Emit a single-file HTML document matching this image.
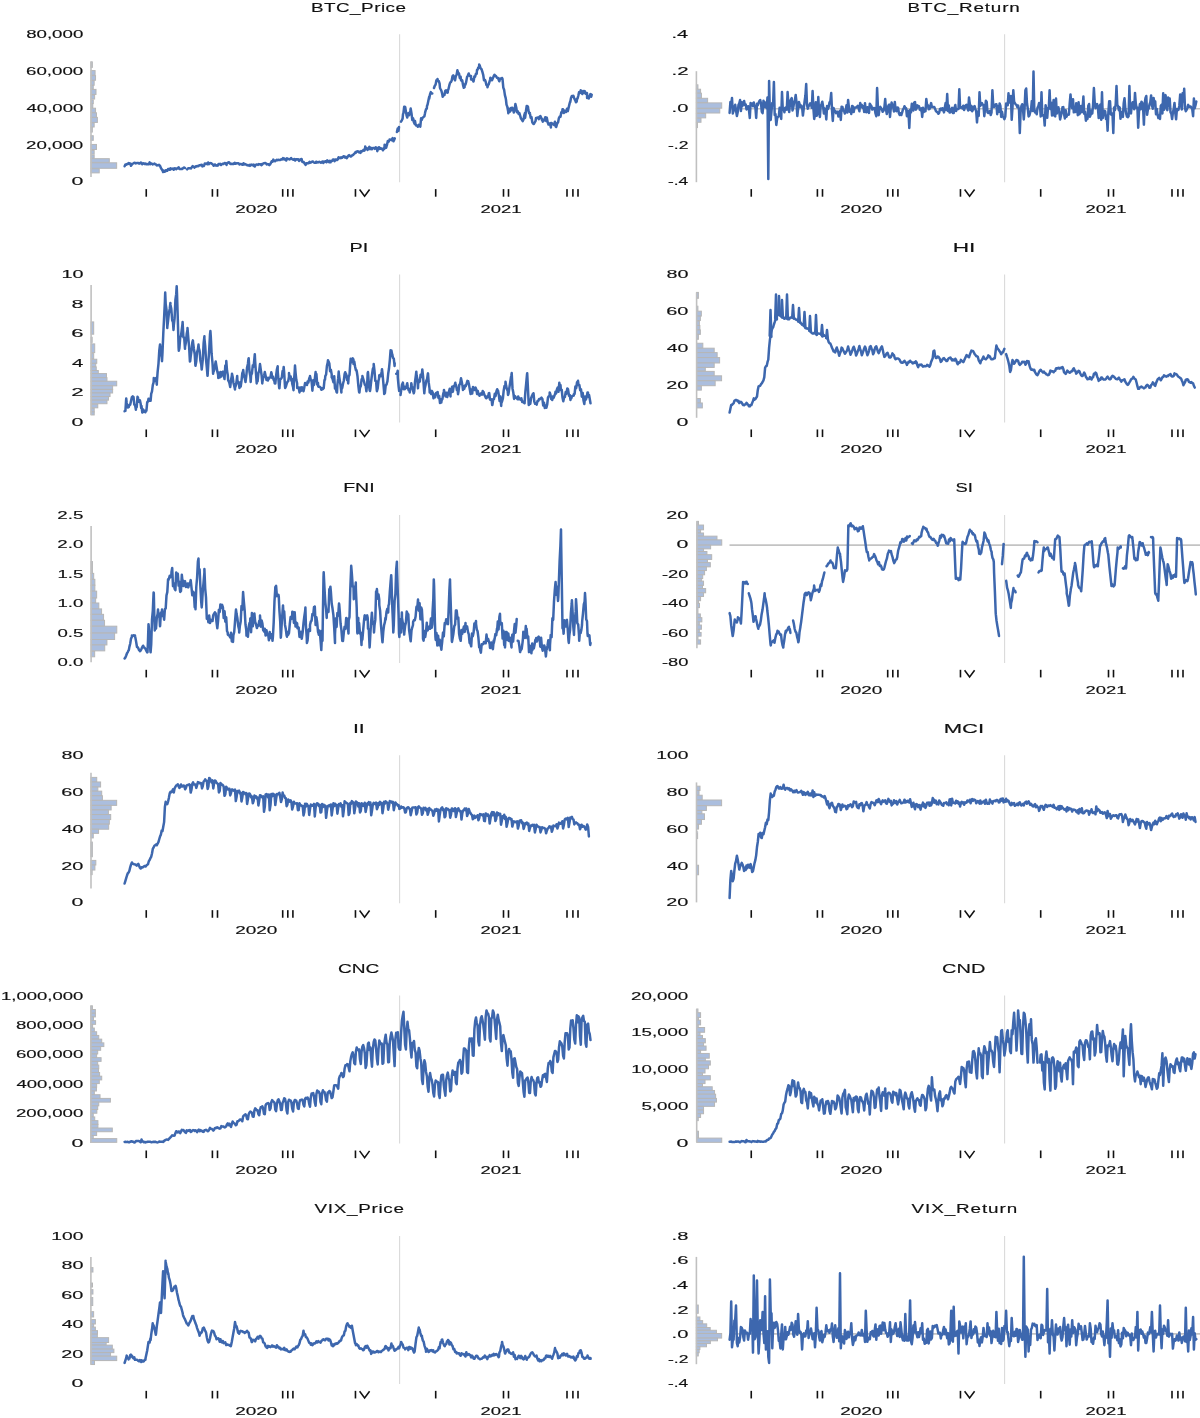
<!DOCTYPE html>
<html><head><meta charset="utf-8"><style>
html,body{margin:0;padding:0;background:#fff;}
body{width:1200px;height:1418px;overflow:hidden;}
svg{display:block;filter:blur(0.35px);}
text{font-family:"Liberation Sans",sans-serif;fill:#111;stroke:#111;stroke-width:0.15px;}
</style></head><body>
<svg width="1200" height="1418" viewBox="0 0 1200 1418">
<rect width="1200" height="1418" fill="#fff"/>
<line x1="729.50" y1="108.70" x2="1205.00" y2="108.70" stroke="#c3c3c3" stroke-width="1.6"/>
<line x1="729.50" y1="545.10" x2="1205.00" y2="545.10" stroke="#c3c3c3" stroke-width="1.6"/>
<line x1="729.50" y1="1333.90" x2="1205.00" y2="1333.90" stroke="#c3c3c3" stroke-width="1.6"/>
<line x1="399.60" y1="34.20" x2="399.60" y2="182.20" stroke="#dadada" stroke-width="1.1"/>
<line x1="1004.60" y1="34.20" x2="1004.60" y2="182.20" stroke="#dadada" stroke-width="1.1"/>
<line x1="399.60" y1="274.55" x2="399.60" y2="422.55" stroke="#dadada" stroke-width="1.1"/>
<line x1="1004.60" y1="274.55" x2="1004.60" y2="422.55" stroke="#dadada" stroke-width="1.1"/>
<line x1="399.60" y1="514.90" x2="399.60" y2="662.90" stroke="#dadada" stroke-width="1.1"/>
<line x1="1004.60" y1="514.90" x2="1004.60" y2="662.90" stroke="#dadada" stroke-width="1.1"/>
<line x1="399.60" y1="755.25" x2="399.60" y2="903.25" stroke="#dadada" stroke-width="1.1"/>
<line x1="1004.60" y1="755.25" x2="1004.60" y2="903.25" stroke="#dadada" stroke-width="1.1"/>
<line x1="399.60" y1="995.60" x2="399.60" y2="1143.60" stroke="#dadada" stroke-width="1.1"/>
<line x1="1004.60" y1="995.60" x2="1004.60" y2="1143.60" stroke="#dadada" stroke-width="1.1"/>
<line x1="399.60" y1="1235.95" x2="399.60" y2="1383.95" stroke="#dadada" stroke-width="1.1"/>
<line x1="1004.60" y1="1235.95" x2="1004.60" y2="1383.95" stroke="#dadada" stroke-width="1.1"/>
<rect x="91.00" y="61.88" width="1.34" height="5.50" fill="#abbede" stroke="#b6b6b6" stroke-width="1"/>
<rect x="91.00" y="70.60" width="4.09" height="4.59" fill="#abbede" stroke="#b6b6b6" stroke-width="1"/>
<rect x="91.00" y="75.64" width="4.55" height="4.59" fill="#abbede" stroke="#b6b6b6" stroke-width="1"/>
<rect x="91.00" y="80.69" width="3.17" height="4.59" fill="#abbede" stroke="#b6b6b6" stroke-width="1"/>
<rect x="91.00" y="85.28" width="2.26" height="3.67" fill="#abbede" stroke="#b6b6b6" stroke-width="1"/>
<rect x="91.00" y="89.40" width="5.01" height="5.05" fill="#abbede" stroke="#b6b6b6" stroke-width="1"/>
<rect x="91.00" y="94.91" width="3.63" height="4.13" fill="#abbede" stroke="#b6b6b6" stroke-width="1"/>
<rect x="91.00" y="99.95" width="2.26" height="3.67" fill="#abbede" stroke="#b6b6b6" stroke-width="1"/>
<rect x="91.00" y="103.62" width="1.80" height="4.13" fill="#abbede" stroke="#b6b6b6" stroke-width="1"/>
<rect x="91.00" y="108.21" width="4.55" height="4.13" fill="#abbede" stroke="#b6b6b6" stroke-width="1"/>
<rect x="91.00" y="112.80" width="5.47" height="4.59" fill="#abbede" stroke="#b6b6b6" stroke-width="1"/>
<rect x="91.00" y="117.39" width="6.39" height="5.05" fill="#abbede" stroke="#b6b6b6" stroke-width="1"/>
<rect x="91.00" y="122.89" width="3.17" height="4.13" fill="#abbede" stroke="#b6b6b6" stroke-width="1"/>
<rect x="91.00" y="127.48" width="1.34" height="4.59" fill="#abbede" stroke="#b6b6b6" stroke-width="1"/>
<rect x="91.00" y="135.73" width="2.26" height="4.59" fill="#abbede" stroke="#b6b6b6" stroke-width="1"/>
<rect x="91.00" y="144.45" width="5.47" height="5.05" fill="#abbede" stroke="#b6b6b6" stroke-width="1"/>
<rect x="91.00" y="150.41" width="3.17" height="3.67" fill="#abbede" stroke="#b6b6b6" stroke-width="1"/>
<rect x="91.00" y="155.00" width="3.17" height="3.21" fill="#abbede" stroke="#b6b6b6" stroke-width="1"/>
<rect x="91.00" y="158.67" width="18.31" height="3.67" fill="#abbede" stroke="#b6b6b6" stroke-width="1"/>
<rect x="91.00" y="162.80" width="25.65" height="5.50" fill="#abbede" stroke="#b6b6b6" stroke-width="1"/>
<rect x="91.00" y="168.76" width="8.22" height="4.13" fill="#abbede" stroke="#b6b6b6" stroke-width="1"/>
<line x1="91.00" y1="61.40" x2="91.00" y2="177.00" stroke="#c0c0c0" stroke-width="1.6"/>
<rect x="696.40" y="84.82" width="1.53" height="3.96" fill="#abbede" stroke="#b6b6b6" stroke-width="1"/>
<rect x="696.40" y="89.23" width="4.17" height="3.96" fill="#abbede" stroke="#b6b6b6" stroke-width="1"/>
<rect x="696.40" y="93.19" width="5.05" height="4.85" fill="#abbede" stroke="#b6b6b6" stroke-width="1"/>
<rect x="696.40" y="98.30" width="11.22" height="4.14" fill="#abbede" stroke="#b6b6b6" stroke-width="1"/>
<rect x="696.40" y="102.89" width="25.32" height="5.29" fill="#abbede" stroke="#b6b6b6" stroke-width="1"/>
<rect x="696.40" y="108.61" width="23.38" height="4.41" fill="#abbede" stroke="#b6b6b6" stroke-width="1"/>
<rect x="696.40" y="113.46" width="9.28" height="4.41" fill="#abbede" stroke="#b6b6b6" stroke-width="1"/>
<rect x="696.40" y="118.30" width="4.61" height="3.96" fill="#abbede" stroke="#b6b6b6" stroke-width="1"/>
<rect x="696.40" y="122.71" width="1.09" height="4.85" fill="#abbede" stroke="#b6b6b6" stroke-width="1"/>
<line x1="696.40" y1="71.20" x2="696.40" y2="182.20" stroke="#c0c0c0" stroke-width="1.6"/>
<rect x="91.10" y="321.92" width="2.59" height="12.27" fill="#abbede" stroke="#b6b6b6" stroke-width="1"/>
<rect x="91.10" y="337.26" width="1.06" height="5.11" fill="#abbede" stroke="#b6b6b6" stroke-width="1"/>
<rect x="91.10" y="343.91" width="3.61" height="8.69" fill="#abbede" stroke="#b6b6b6" stroke-width="1"/>
<rect x="91.10" y="353.62" width="2.59" height="5.11" fill="#abbede" stroke="#b6b6b6" stroke-width="1"/>
<rect x="91.10" y="359.24" width="5.66" height="4.09" fill="#abbede" stroke="#b6b6b6" stroke-width="1"/>
<rect x="91.10" y="363.33" width="4.64" height="3.58" fill="#abbede" stroke="#b6b6b6" stroke-width="1"/>
<rect x="91.10" y="366.91" width="5.15" height="3.58" fill="#abbede" stroke="#b6b6b6" stroke-width="1"/>
<rect x="91.10" y="370.49" width="7.19" height="3.07" fill="#abbede" stroke="#b6b6b6" stroke-width="1"/>
<rect x="91.10" y="373.56" width="15.37" height="4.09" fill="#abbede" stroke="#b6b6b6" stroke-width="1"/>
<rect x="91.10" y="377.65" width="15.88" height="3.58" fill="#abbede" stroke="#b6b6b6" stroke-width="1"/>
<rect x="91.10" y="381.23" width="25.60" height="4.60" fill="#abbede" stroke="#b6b6b6" stroke-width="1"/>
<rect x="91.10" y="385.83" width="21.51" height="3.58" fill="#abbede" stroke="#b6b6b6" stroke-width="1"/>
<rect x="91.10" y="389.41" width="21.51" height="3.58" fill="#abbede" stroke="#b6b6b6" stroke-width="1"/>
<rect x="91.10" y="392.99" width="18.95" height="3.58" fill="#abbede" stroke="#b6b6b6" stroke-width="1"/>
<rect x="91.10" y="396.56" width="17.42" height="3.58" fill="#abbede" stroke="#b6b6b6" stroke-width="1"/>
<rect x="91.10" y="400.14" width="15.88" height="3.58" fill="#abbede" stroke="#b6b6b6" stroke-width="1"/>
<rect x="91.10" y="404.23" width="6.68" height="3.58" fill="#abbede" stroke="#b6b6b6" stroke-width="1"/>
<rect x="91.10" y="408.32" width="3.10" height="3.58" fill="#abbede" stroke="#b6b6b6" stroke-width="1"/>
<rect x="91.10" y="411.90" width="3.10" height="3.07" fill="#abbede" stroke="#b6b6b6" stroke-width="1"/>
<line x1="91.10" y1="285.10" x2="91.10" y2="415.00" stroke="#c0c0c0" stroke-width="1.6"/>
<rect x="696.60" y="292.40" width="1.79" height="5.92" fill="#abbede" stroke="#b6b6b6" stroke-width="1"/>
<rect x="696.60" y="306.22" width="1.30" height="4.44" fill="#abbede" stroke="#b6b6b6" stroke-width="1"/>
<rect x="696.60" y="311.16" width="4.75" height="4.94" fill="#abbede" stroke="#b6b6b6" stroke-width="1"/>
<rect x="696.60" y="316.10" width="3.77" height="4.44" fill="#abbede" stroke="#b6b6b6" stroke-width="1"/>
<rect x="696.60" y="321.03" width="2.78" height="4.44" fill="#abbede" stroke="#b6b6b6" stroke-width="1"/>
<rect x="696.60" y="325.47" width="3.27" height="4.44" fill="#abbede" stroke="#b6b6b6" stroke-width="1"/>
<rect x="696.60" y="329.92" width="3.77" height="4.44" fill="#abbede" stroke="#b6b6b6" stroke-width="1"/>
<rect x="696.60" y="334.36" width="1.79" height="4.94" fill="#abbede" stroke="#b6b6b6" stroke-width="1"/>
<rect x="696.60" y="343.24" width="6.23" height="4.94" fill="#abbede" stroke="#b6b6b6" stroke-width="1"/>
<rect x="696.60" y="348.18" width="17.59" height="4.44" fill="#abbede" stroke="#b6b6b6" stroke-width="1"/>
<rect x="696.60" y="352.62" width="20.55" height="4.94" fill="#abbede" stroke="#b6b6b6" stroke-width="1"/>
<rect x="696.60" y="357.56" width="23.02" height="5.43" fill="#abbede" stroke="#b6b6b6" stroke-width="1"/>
<rect x="696.60" y="362.99" width="17.59" height="4.44" fill="#abbede" stroke="#b6b6b6" stroke-width="1"/>
<rect x="696.60" y="367.43" width="8.70" height="3.46" fill="#abbede" stroke="#b6b6b6" stroke-width="1"/>
<rect x="696.60" y="371.38" width="17.59" height="4.44" fill="#abbede" stroke="#b6b6b6" stroke-width="1"/>
<rect x="696.60" y="375.82" width="24.99" height="4.94" fill="#abbede" stroke="#b6b6b6" stroke-width="1"/>
<rect x="696.60" y="380.76" width="18.57" height="4.94" fill="#abbede" stroke="#b6b6b6" stroke-width="1"/>
<rect x="696.60" y="386.18" width="4.75" height="3.95" fill="#abbede" stroke="#b6b6b6" stroke-width="1"/>
<rect x="696.60" y="398.52" width="3.77" height="4.44" fill="#abbede" stroke="#b6b6b6" stroke-width="1"/>
<rect x="696.60" y="402.97" width="5.74" height="4.94" fill="#abbede" stroke="#b6b6b6" stroke-width="1"/>
<line x1="696.60" y1="292.40" x2="696.60" y2="417.80" stroke="#c0c0c0" stroke-width="1.6"/>
<rect x="91.10" y="561.53" width="1.30" height="11.85" fill="#abbede" stroke="#b6b6b6" stroke-width="1"/>
<rect x="91.10" y="573.37" width="2.59" height="5.92" fill="#abbede" stroke="#b6b6b6" stroke-width="1"/>
<rect x="91.10" y="579.29" width="3.77" height="5.92" fill="#abbede" stroke="#b6b6b6" stroke-width="1"/>
<rect x="91.10" y="585.22" width="3.77" height="5.92" fill="#abbede" stroke="#b6b6b6" stroke-width="1"/>
<rect x="91.10" y="591.14" width="5.55" height="6.91" fill="#abbede" stroke="#b6b6b6" stroke-width="1"/>
<rect x="91.10" y="598.05" width="4.56" height="4.94" fill="#abbede" stroke="#b6b6b6" stroke-width="1"/>
<rect x="91.10" y="602.99" width="7.72" height="5.92" fill="#abbede" stroke="#b6b6b6" stroke-width="1"/>
<rect x="91.10" y="608.91" width="10.48" height="5.43" fill="#abbede" stroke="#b6b6b6" stroke-width="1"/>
<rect x="91.10" y="614.34" width="12.46" height="5.92" fill="#abbede" stroke="#b6b6b6" stroke-width="1"/>
<rect x="91.10" y="620.26" width="13.45" height="5.92" fill="#abbede" stroke="#b6b6b6" stroke-width="1"/>
<rect x="91.10" y="626.18" width="25.69" height="6.91" fill="#abbede" stroke="#b6b6b6" stroke-width="1"/>
<rect x="91.10" y="633.09" width="23.52" height="6.42" fill="#abbede" stroke="#b6b6b6" stroke-width="1"/>
<rect x="91.10" y="639.51" width="15.82" height="5.43" fill="#abbede" stroke="#b6b6b6" stroke-width="1"/>
<rect x="91.10" y="644.94" width="13.64" height="5.92" fill="#abbede" stroke="#b6b6b6" stroke-width="1"/>
<rect x="91.10" y="651.36" width="3.57" height="5.43" fill="#abbede" stroke="#b6b6b6" stroke-width="1"/>
<line x1="91.10" y1="526.00" x2="91.10" y2="662.20" stroke="#c0c0c0" stroke-width="1.6"/>
<rect x="696.90" y="521.35" width="1.57" height="3.70" fill="#abbede" stroke="#b6b6b6" stroke-width="1"/>
<rect x="696.90" y="525.05" width="6.64" height="4.76" fill="#abbede" stroke="#b6b6b6" stroke-width="1"/>
<rect x="696.90" y="529.81" width="3.68" height="3.17" fill="#abbede" stroke="#b6b6b6" stroke-width="1"/>
<rect x="696.90" y="532.99" width="6.64" height="3.17" fill="#abbede" stroke="#b6b6b6" stroke-width="1"/>
<rect x="696.90" y="536.16" width="20.08" height="3.70" fill="#abbede" stroke="#b6b6b6" stroke-width="1"/>
<rect x="696.90" y="539.87" width="24.85" height="5.29" fill="#abbede" stroke="#b6b6b6" stroke-width="1"/>
<rect x="696.90" y="545.16" width="13.73" height="3.70" fill="#abbede" stroke="#b6b6b6" stroke-width="1"/>
<rect x="696.90" y="548.86" width="6.64" height="2.65" fill="#abbede" stroke="#b6b6b6" stroke-width="1"/>
<rect x="696.90" y="551.51" width="10.03" height="3.17" fill="#abbede" stroke="#b6b6b6" stroke-width="1"/>
<rect x="696.90" y="554.68" width="14.79" height="4.76" fill="#abbede" stroke="#b6b6b6" stroke-width="1"/>
<rect x="696.90" y="559.44" width="10.56" height="3.17" fill="#abbede" stroke="#b6b6b6" stroke-width="1"/>
<rect x="696.90" y="562.62" width="13.42" height="4.23" fill="#abbede" stroke="#b6b6b6" stroke-width="1"/>
<rect x="696.90" y="566.85" width="9.50" height="3.70" fill="#abbede" stroke="#b6b6b6" stroke-width="1"/>
<rect x="696.90" y="570.56" width="7.70" height="4.23" fill="#abbede" stroke="#b6b6b6" stroke-width="1"/>
<rect x="696.90" y="574.79" width="5.80" height="3.70" fill="#abbede" stroke="#b6b6b6" stroke-width="1"/>
<rect x="696.90" y="578.49" width="4.74" height="2.65" fill="#abbede" stroke="#b6b6b6" stroke-width="1"/>
<rect x="696.90" y="581.14" width="6.64" height="4.23" fill="#abbede" stroke="#b6b6b6" stroke-width="1"/>
<rect x="696.90" y="585.37" width="5.59" height="3.17" fill="#abbede" stroke="#b6b6b6" stroke-width="1"/>
<rect x="696.90" y="588.54" width="8.76" height="4.23" fill="#abbede" stroke="#b6b6b6" stroke-width="1"/>
<rect x="696.90" y="592.78" width="6.64" height="3.70" fill="#abbede" stroke="#b6b6b6" stroke-width="1"/>
<rect x="696.90" y="596.48" width="3.68" height="4.23" fill="#abbede" stroke="#b6b6b6" stroke-width="1"/>
<rect x="696.90" y="600.71" width="1.57" height="2.65" fill="#abbede" stroke="#b6b6b6" stroke-width="1"/>
<rect x="696.90" y="603.36" width="2.62" height="4.23" fill="#abbede" stroke="#b6b6b6" stroke-width="1"/>
<rect x="696.90" y="607.59" width="1.04" height="6.35" fill="#abbede" stroke="#b6b6b6" stroke-width="1"/>
<rect x="696.90" y="613.94" width="3.47" height="3.70" fill="#abbede" stroke="#b6b6b6" stroke-width="1"/>
<rect x="696.90" y="617.65" width="4.95" height="4.23" fill="#abbede" stroke="#b6b6b6" stroke-width="1"/>
<rect x="696.90" y="621.88" width="2.41" height="3.17" fill="#abbede" stroke="#b6b6b6" stroke-width="1"/>
<rect x="696.90" y="625.05" width="4.53" height="4.23" fill="#abbede" stroke="#b6b6b6" stroke-width="1"/>
<rect x="696.90" y="629.29" width="2.41" height="3.17" fill="#abbede" stroke="#b6b6b6" stroke-width="1"/>
<rect x="696.90" y="632.46" width="4.21" height="3.70" fill="#abbede" stroke="#b6b6b6" stroke-width="1"/>
<rect x="696.90" y="636.16" width="1.04" height="3.70" fill="#abbede" stroke="#b6b6b6" stroke-width="1"/>
<rect x="696.90" y="639.87" width="3.68" height="4.23" fill="#abbede" stroke="#b6b6b6" stroke-width="1"/>
<line x1="696.90" y1="521.30" x2="696.90" y2="648.30" stroke="#c0c0c0" stroke-width="1.6"/>
<rect x="91.00" y="777.39" width="5.74" height="4.59" fill="#abbede" stroke="#b6b6b6" stroke-width="1"/>
<rect x="91.00" y="781.97" width="9.60" height="5.05" fill="#abbede" stroke="#b6b6b6" stroke-width="1"/>
<rect x="91.00" y="787.02" width="6.84" height="4.13" fill="#abbede" stroke="#b6b6b6" stroke-width="1"/>
<rect x="91.00" y="791.15" width="10.70" height="4.59" fill="#abbede" stroke="#b6b6b6" stroke-width="1"/>
<rect x="91.00" y="795.73" width="11.43" height="4.59" fill="#abbede" stroke="#b6b6b6" stroke-width="1"/>
<rect x="91.00" y="800.32" width="25.65" height="5.05" fill="#abbede" stroke="#b6b6b6" stroke-width="1"/>
<rect x="91.00" y="805.37" width="20.15" height="4.59" fill="#abbede" stroke="#b6b6b6" stroke-width="1"/>
<rect x="91.00" y="809.95" width="17.39" height="4.59" fill="#abbede" stroke="#b6b6b6" stroke-width="1"/>
<rect x="91.00" y="814.54" width="19.69" height="5.05" fill="#abbede" stroke="#b6b6b6" stroke-width="1"/>
<rect x="91.00" y="819.59" width="18.31" height="4.59" fill="#abbede" stroke="#b6b6b6" stroke-width="1"/>
<rect x="91.00" y="824.17" width="17.67" height="5.05" fill="#abbede" stroke="#b6b6b6" stroke-width="1"/>
<rect x="91.00" y="829.22" width="7.58" height="4.13" fill="#abbede" stroke="#b6b6b6" stroke-width="1"/>
<rect x="91.00" y="833.35" width="2.26" height="4.59" fill="#abbede" stroke="#b6b6b6" stroke-width="1"/>
<rect x="91.00" y="842.06" width="1.34" height="14.68" fill="#abbede" stroke="#b6b6b6" stroke-width="1"/>
<rect x="91.00" y="860.41" width="4.83" height="4.59" fill="#abbede" stroke="#b6b6b6" stroke-width="1"/>
<rect x="91.00" y="865.00" width="3.91" height="5.05" fill="#abbede" stroke="#b6b6b6" stroke-width="1"/>
<rect x="91.00" y="870.05" width="1.16" height="4.59" fill="#abbede" stroke="#b6b6b6" stroke-width="1"/>
<line x1="91.00" y1="772.80" x2="91.00" y2="888.40" stroke="#c0c0c0" stroke-width="1.6"/>
<rect x="696.50" y="786.19" width="3.50" height="4.29" fill="#abbede" stroke="#b6b6b6" stroke-width="1"/>
<rect x="696.50" y="790.48" width="2.55" height="4.76" fill="#abbede" stroke="#b6b6b6" stroke-width="1"/>
<rect x="696.50" y="795.24" width="5.69" height="4.76" fill="#abbede" stroke="#b6b6b6" stroke-width="1"/>
<rect x="696.50" y="800.00" width="25.12" height="5.71" fill="#abbede" stroke="#b6b6b6" stroke-width="1"/>
<rect x="696.50" y="805.71" width="9.88" height="4.76" fill="#abbede" stroke="#b6b6b6" stroke-width="1"/>
<rect x="696.50" y="810.48" width="5.40" height="3.33" fill="#abbede" stroke="#b6b6b6" stroke-width="1"/>
<rect x="696.50" y="813.81" width="7.98" height="5.71" fill="#abbede" stroke="#b6b6b6" stroke-width="1"/>
<rect x="696.50" y="819.52" width="4.93" height="4.76" fill="#abbede" stroke="#b6b6b6" stroke-width="1"/>
<rect x="696.50" y="824.29" width="2.07" height="4.76" fill="#abbede" stroke="#b6b6b6" stroke-width="1"/>
<rect x="696.50" y="831.90" width="1.12" height="6.67" fill="#abbede" stroke="#b6b6b6" stroke-width="1"/>
<rect x="696.50" y="865.24" width="2.07" height="9.52" fill="#abbede" stroke="#b6b6b6" stroke-width="1"/>
<line x1="696.50" y1="782.40" x2="696.50" y2="902.40" stroke="#c0c0c0" stroke-width="1.6"/>
<rect x="90.80" y="1005.82" width="1.61" height="3.70" fill="#abbede" stroke="#b6b6b6" stroke-width="1"/>
<rect x="90.80" y="1009.52" width="4.57" height="3.70" fill="#abbede" stroke="#b6b6b6" stroke-width="1"/>
<rect x="90.80" y="1013.23" width="4.57" height="3.70" fill="#abbede" stroke="#b6b6b6" stroke-width="1"/>
<rect x="90.80" y="1016.93" width="2.67" height="3.70" fill="#abbede" stroke="#b6b6b6" stroke-width="1"/>
<rect x="90.80" y="1020.63" width="4.78" height="3.70" fill="#abbede" stroke="#b6b6b6" stroke-width="1"/>
<rect x="90.80" y="1024.34" width="1.82" height="3.70" fill="#abbede" stroke="#b6b6b6" stroke-width="1"/>
<rect x="90.80" y="1028.04" width="3.51" height="3.70" fill="#abbede" stroke="#b6b6b6" stroke-width="1"/>
<rect x="90.80" y="1031.75" width="5.84" height="3.70" fill="#abbede" stroke="#b6b6b6" stroke-width="1"/>
<rect x="90.80" y="1035.45" width="7.96" height="3.70" fill="#abbede" stroke="#b6b6b6" stroke-width="1"/>
<rect x="90.80" y="1039.15" width="10.92" height="3.70" fill="#abbede" stroke="#b6b6b6" stroke-width="1"/>
<rect x="90.80" y="1042.86" width="13.04" height="3.70" fill="#abbede" stroke="#b6b6b6" stroke-width="1"/>
<rect x="90.80" y="1046.56" width="9.86" height="3.70" fill="#abbede" stroke="#b6b6b6" stroke-width="1"/>
<rect x="90.80" y="1050.26" width="6.90" height="3.70" fill="#abbede" stroke="#b6b6b6" stroke-width="1"/>
<rect x="90.80" y="1053.97" width="5.84" height="3.70" fill="#abbede" stroke="#b6b6b6" stroke-width="1"/>
<rect x="90.80" y="1057.67" width="10.28" height="3.70" fill="#abbede" stroke="#b6b6b6" stroke-width="1"/>
<rect x="90.80" y="1061.38" width="6.90" height="3.70" fill="#abbede" stroke="#b6b6b6" stroke-width="1"/>
<rect x="90.80" y="1065.08" width="7.96" height="3.70" fill="#abbede" stroke="#b6b6b6" stroke-width="1"/>
<rect x="90.80" y="1068.78" width="7.74" height="3.70" fill="#abbede" stroke="#b6b6b6" stroke-width="1"/>
<rect x="90.80" y="1072.49" width="8.80" height="3.70" fill="#abbede" stroke="#b6b6b6" stroke-width="1"/>
<rect x="90.80" y="1076.19" width="10.92" height="3.70" fill="#abbede" stroke="#b6b6b6" stroke-width="1"/>
<rect x="90.80" y="1079.89" width="8.49" height="3.70" fill="#abbede" stroke="#b6b6b6" stroke-width="1"/>
<rect x="90.80" y="1083.60" width="5.84" height="3.70" fill="#abbede" stroke="#b6b6b6" stroke-width="1"/>
<rect x="90.80" y="1087.30" width="5.63" height="3.70" fill="#abbede" stroke="#b6b6b6" stroke-width="1"/>
<rect x="90.80" y="1091.01" width="3.51" height="3.70" fill="#abbede" stroke="#b6b6b6" stroke-width="1"/>
<rect x="90.80" y="1094.71" width="9.23" height="3.70" fill="#abbede" stroke="#b6b6b6" stroke-width="1"/>
<rect x="90.80" y="1098.41" width="19.60" height="3.70" fill="#abbede" stroke="#b6b6b6" stroke-width="1"/>
<rect x="90.80" y="1102.12" width="7.96" height="3.70" fill="#abbede" stroke="#b6b6b6" stroke-width="1"/>
<rect x="90.80" y="1105.82" width="6.90" height="3.70" fill="#abbede" stroke="#b6b6b6" stroke-width="1"/>
<rect x="90.80" y="1109.52" width="6.05" height="3.70" fill="#abbede" stroke="#b6b6b6" stroke-width="1"/>
<rect x="90.80" y="1113.23" width="2.45" height="3.70" fill="#abbede" stroke="#b6b6b6" stroke-width="1"/>
<rect x="90.80" y="1116.93" width="3.94" height="3.70" fill="#abbede" stroke="#b6b6b6" stroke-width="1"/>
<rect x="90.80" y="1120.63" width="7.11" height="3.70" fill="#abbede" stroke="#b6b6b6" stroke-width="1"/>
<rect x="90.80" y="1124.34" width="7.11" height="3.70" fill="#abbede" stroke="#b6b6b6" stroke-width="1"/>
<rect x="90.80" y="1128.04" width="21.50" height="3.70" fill="#abbede" stroke="#b6b6b6" stroke-width="1"/>
<rect x="90.80" y="1131.75" width="5.84" height="3.70" fill="#abbede" stroke="#b6b6b6" stroke-width="1"/>
<rect x="90.80" y="1135.45" width="2.45" height="3.17" fill="#abbede" stroke="#b6b6b6" stroke-width="1"/>
<rect x="90.80" y="1138.62" width="25.95" height="3.70" fill="#abbede" stroke="#b6b6b6" stroke-width="1"/>
<line x1="90.80" y1="1005.80" x2="90.80" y2="1142.90" stroke="#c0c0c0" stroke-width="1.6"/>
<rect x="696.70" y="1008.99" width="1.24" height="3.70" fill="#abbede" stroke="#b6b6b6" stroke-width="1"/>
<rect x="696.70" y="1012.70" width="3.88" height="4.76" fill="#abbede" stroke="#b6b6b6" stroke-width="1"/>
<rect x="696.70" y="1017.46" width="1.77" height="2.65" fill="#abbede" stroke="#b6b6b6" stroke-width="1"/>
<rect x="696.70" y="1020.11" width="3.88" height="4.76" fill="#abbede" stroke="#b6b6b6" stroke-width="1"/>
<rect x="696.70" y="1024.87" width="1.55" height="2.65" fill="#abbede" stroke="#b6b6b6" stroke-width="1"/>
<rect x="696.70" y="1027.51" width="7.90" height="4.76" fill="#abbede" stroke="#b6b6b6" stroke-width="1"/>
<rect x="696.70" y="1032.28" width="3.35" height="3.17" fill="#abbede" stroke="#b6b6b6" stroke-width="1"/>
<rect x="696.70" y="1035.45" width="5.79" height="3.17" fill="#abbede" stroke="#b6b6b6" stroke-width="1"/>
<rect x="696.70" y="1038.62" width="8.64" height="4.23" fill="#abbede" stroke="#b6b6b6" stroke-width="1"/>
<rect x="696.70" y="1042.86" width="6.84" height="3.17" fill="#abbede" stroke="#b6b6b6" stroke-width="1"/>
<rect x="696.70" y="1046.03" width="9.38" height="4.23" fill="#abbede" stroke="#b6b6b6" stroke-width="1"/>
<rect x="696.70" y="1050.26" width="3.88" height="3.17" fill="#abbede" stroke="#b6b6b6" stroke-width="1"/>
<rect x="696.70" y="1053.44" width="12.56" height="4.76" fill="#abbede" stroke="#b6b6b6" stroke-width="1"/>
<rect x="696.70" y="1058.20" width="8.64" height="2.65" fill="#abbede" stroke="#b6b6b6" stroke-width="1"/>
<rect x="696.70" y="1060.85" width="13.62" height="4.23" fill="#abbede" stroke="#b6b6b6" stroke-width="1"/>
<rect x="696.70" y="1065.08" width="11.82" height="3.70" fill="#abbede" stroke="#b6b6b6" stroke-width="1"/>
<rect x="696.70" y="1068.78" width="8.33" height="4.23" fill="#abbede" stroke="#b6b6b6" stroke-width="1"/>
<rect x="696.70" y="1073.02" width="5.79" height="2.65" fill="#abbede" stroke="#b6b6b6" stroke-width="1"/>
<rect x="696.70" y="1075.66" width="13.62" height="4.23" fill="#abbede" stroke="#b6b6b6" stroke-width="1"/>
<rect x="696.70" y="1079.89" width="8.33" height="3.70" fill="#abbede" stroke="#b6b6b6" stroke-width="1"/>
<rect x="696.70" y="1083.60" width="5.79" height="3.17" fill="#abbede" stroke="#b6b6b6" stroke-width="1"/>
<rect x="696.70" y="1086.77" width="15.52" height="3.70" fill="#abbede" stroke="#b6b6b6" stroke-width="1"/>
<rect x="696.70" y="1090.48" width="17.85" height="3.70" fill="#abbede" stroke="#b6b6b6" stroke-width="1"/>
<rect x="696.70" y="1094.18" width="18.91" height="4.23" fill="#abbede" stroke="#b6b6b6" stroke-width="1"/>
<rect x="696.70" y="1098.41" width="19.76" height="3.70" fill="#abbede" stroke="#b6b6b6" stroke-width="1"/>
<rect x="696.70" y="1102.12" width="17.85" height="4.23" fill="#abbede" stroke="#b6b6b6" stroke-width="1"/>
<rect x="696.70" y="1106.35" width="6.84" height="3.70" fill="#abbede" stroke="#b6b6b6" stroke-width="1"/>
<rect x="696.70" y="1110.05" width="6.84" height="3.70" fill="#abbede" stroke="#b6b6b6" stroke-width="1"/>
<rect x="696.70" y="1113.76" width="3.88" height="3.70" fill="#abbede" stroke="#b6b6b6" stroke-width="1"/>
<rect x="696.70" y="1117.46" width="1.55" height="3.17" fill="#abbede" stroke="#b6b6b6" stroke-width="1"/>
<rect x="696.70" y="1131.22" width="1.77" height="6.88" fill="#abbede" stroke="#b6b6b6" stroke-width="1"/>
<rect x="696.70" y="1138.10" width="25.05" height="4.23" fill="#abbede" stroke="#b6b6b6" stroke-width="1"/>
<line x1="696.70" y1="1009.00" x2="696.70" y2="1142.30" stroke="#c0c0c0" stroke-width="1.6"/>
<rect x="90.90" y="1267.62" width="2.03" height="4.41" fill="#abbede" stroke="#b6b6b6" stroke-width="1"/>
<rect x="90.90" y="1283.04" width="1.59" height="3.96" fill="#abbede" stroke="#b6b6b6" stroke-width="1"/>
<rect x="90.90" y="1289.65" width="2.03" height="4.41" fill="#abbede" stroke="#b6b6b6" stroke-width="1"/>
<rect x="90.90" y="1297.58" width="1.85" height="7.93" fill="#abbede" stroke="#b6b6b6" stroke-width="1"/>
<rect x="90.90" y="1311.67" width="2.73" height="5.29" fill="#abbede" stroke="#b6b6b6" stroke-width="1"/>
<rect x="90.90" y="1319.60" width="4.50" height="4.41" fill="#abbede" stroke="#b6b6b6" stroke-width="1"/>
<rect x="90.90" y="1324.01" width="2.73" height="3.08" fill="#abbede" stroke="#b6b6b6" stroke-width="1"/>
<rect x="90.90" y="1327.09" width="4.50" height="3.52" fill="#abbede" stroke="#b6b6b6" stroke-width="1"/>
<rect x="90.90" y="1330.62" width="6.61" height="3.52" fill="#abbede" stroke="#b6b6b6" stroke-width="1"/>
<rect x="90.90" y="1334.14" width="6.43" height="3.52" fill="#abbede" stroke="#b6b6b6" stroke-width="1"/>
<rect x="90.90" y="1337.67" width="17.71" height="4.85" fill="#abbede" stroke="#b6b6b6" stroke-width="1"/>
<rect x="90.90" y="1342.51" width="15.25" height="2.64" fill="#abbede" stroke="#b6b6b6" stroke-width="1"/>
<rect x="90.90" y="1345.15" width="21.41" height="3.96" fill="#abbede" stroke="#b6b6b6" stroke-width="1"/>
<rect x="90.90" y="1349.12" width="23.00" height="3.52" fill="#abbede" stroke="#b6b6b6" stroke-width="1"/>
<rect x="90.90" y="1352.64" width="19.65" height="3.52" fill="#abbede" stroke="#b6b6b6" stroke-width="1"/>
<rect x="90.90" y="1356.17" width="25.82" height="4.41" fill="#abbede" stroke="#b6b6b6" stroke-width="1"/>
<rect x="90.90" y="1360.57" width="3.62" height="3.96" fill="#abbede" stroke="#b6b6b6" stroke-width="1"/>
<line x1="90.90" y1="1257.00" x2="90.90" y2="1364.50" stroke="#c0c0c0" stroke-width="1.6"/>
<rect x="696.40" y="1305.05" width="1.86" height="8.26" fill="#abbede" stroke="#b6b6b6" stroke-width="1"/>
<rect x="696.40" y="1316.97" width="3.51" height="3.67" fill="#abbede" stroke="#b6b6b6" stroke-width="1"/>
<rect x="696.40" y="1320.64" width="6.26" height="3.21" fill="#abbede" stroke="#b6b6b6" stroke-width="1"/>
<rect x="696.40" y="1323.85" width="10.30" height="3.67" fill="#abbede" stroke="#b6b6b6" stroke-width="1"/>
<rect x="696.40" y="1327.52" width="13.78" height="2.75" fill="#abbede" stroke="#b6b6b6" stroke-width="1"/>
<rect x="696.40" y="1330.28" width="20.02" height="3.21" fill="#abbede" stroke="#b6b6b6" stroke-width="1"/>
<rect x="696.40" y="1333.49" width="25.25" height="4.59" fill="#abbede" stroke="#b6b6b6" stroke-width="1"/>
<rect x="696.40" y="1338.07" width="21.12" height="2.75" fill="#abbede" stroke="#b6b6b6" stroke-width="1"/>
<rect x="696.40" y="1340.83" width="13.97" height="2.75" fill="#abbede" stroke="#b6b6b6" stroke-width="1"/>
<rect x="696.40" y="1343.58" width="10.11" height="3.21" fill="#abbede" stroke="#b6b6b6" stroke-width="1"/>
<rect x="696.40" y="1346.79" width="3.51" height="2.75" fill="#abbede" stroke="#b6b6b6" stroke-width="1"/>
<rect x="696.40" y="1349.54" width="2.77" height="3.21" fill="#abbede" stroke="#b6b6b6" stroke-width="1"/>
<rect x="696.40" y="1352.75" width="1.86" height="3.21" fill="#abbede" stroke="#b6b6b6" stroke-width="1"/>
<line x1="696.40" y1="1256.90" x2="696.40" y2="1364.20" stroke="#c0c0c0" stroke-width="1.6"/>
<path d="M124.6 166.3L125.4 164.5L126.2 164.7L126.7 164.4L127.0 164.0L127.8 164.1L128.6 163.0L129.4 163.7L130.2 163.5L131.0 165.8L131.9 164.6L132.0 164.0L132.7 163.7L133.5 163.3L134.3 162.8L135.1 162.9L135.9 163.4L136.7 163.0L137.0 163.0L137.5 163.0L138.3 162.9L139.1 163.7L139.9 163.4L140.7 162.6L141.2 162.7L141.5 163.0L142.3 164.2L143.1 163.4L143.9 163.3L144.7 164.1L145.4 163.8L145.6 163.5L146.4 164.2L147.2 164.3L148.0 164.0L148.8 164.3L149.6 162.4L150.4 164.1L151.2 163.5L152.0 164.0L152.0 163.8L152.8 164.4L153.6 164.0L154.4 163.6L155.2 164.2L156.0 164.4L156.8 165.4L157.6 165.3L158.5 165.1L159.0 164.8L159.3 165.3L160.1 166.0L160.9 168.0L161.0 168.0L161.7 169.3L162.5 170.4L163.1 172.0L163.3 170.5L164.1 171.6L164.9 171.7L165.7 170.2L166.0 171.0L166.5 170.2L167.3 170.8L168.1 169.1L168.9 169.0L169.7 169.8L170.4 169.4L170.5 168.3L171.3 168.6L172.2 169.1L173.0 168.6L173.8 169.7L174.6 168.3L175.4 168.7L176.0 168.5L176.2 169.2L177.0 168.6L177.8 168.2L178.6 167.3L179.4 169.0L180.2 168.9L181.0 168.9L181.8 169.1L182.6 168.6L183.4 167.8L184.2 167.5L185.0 168.0" fill="none" stroke="#3d67ae" stroke-width="2.5" stroke-linejoin="round" stroke-linecap="round"/>
<path d="M187.1 169.4L187.9 168.5L188.7 168.3L189.5 168.2L190.3 168.3L191.1 168.4L191.9 167.0L192.7 166.1L193.5 166.8L194.0 167.0L194.4 167.6L195.2 167.0L196.0 166.3L196.8 166.4L197.6 165.9L198.4 166.2L199.2 165.2L200.0 165.3L200.8 165.0L201.6 165.1L201.7 164.8L202.4 166.4L203.2 166.0L204.0 165.9L204.8 163.5L205.6 163.7L206.4 163.6L207.3 164.2L208.1 162.5L208.9 164.1L209.0 163.8L209.7 163.2L210.5 163.1L211.3 163.3L212.1 163.9L212.9 164.6L213.7 165.8L214.5 164.7L215.0 164.5L215.3 164.8L216.1 165.7L216.9 165.3L217.7 165.6L218.5 164.1L219.3 164.2L220.1 163.8L220.4 164.4L221.0 165.0L221.8 164.2L222.6 163.7L223.4 164.1L224.2 163.3L225.0 162.9L225.8 163.6L226.6 165.0L226.7 163.3L227.4 163.1L228.2 162.5L229.0 162.3L229.8 163.5L230.6 164.1L231.4 163.8L232.2 163.9L233.0 163.8L233.8 163.9L234.7 162.8L235.0 163.8L235.5 163.7L236.3 163.3L237.1 163.4L237.9 163.2L238.7 163.5L239.5 164.5L240.3 163.9L241.1 163.9L241.9 164.6L242.7 164.8L243.3 164.2L243.5 163.2L244.3 164.5L245.1 164.1L245.9 164.4L246.7 165.0L247.6 165.3L248.4 165.5L249.2 164.9L250.0 165.8L250.8 164.8L251.6 164.6L252.4 165.3L253.2 164.6L253.8 164.8L254.0 165.9L254.8 166.5L255.6 165.1L256.4 164.4L257.2 164.5L258.0 164.9L258.8 164.1L259.6 164.4L260.4 164.2L261.3 165.2L262.0 164.0L262.1 164.7L262.9 163.7L263.7 163.2L264.5 163.2L265.3 162.9L266.1 163.7L266.9 164.5L267.7 164.1L268.5 164.3L269.3 165.1L270.1 164.3L270.4 163.8L270.9 163.1L271.7 161.3L272.5 161.8L273.3 159.6L273.5 160.6L274.1 160.6L275.0 161.3L275.8 160.6L276.6 159.8L277.4 160.3L278.2 159.8L279.0 159.9L279.8 160.0L280.0 160.0L280.6 159.8L281.4 159.2L282.2 159.5L283.0 158.1L283.8 159.1L284.6 158.6L285.4 160.0L286.2 160.5L287.0 158.3L287.9 159.1L288.7 159.1L289.2 159.2L289.5 159.4L290.3 159.1L291.1 158.1L291.9 159.0L292.7 159.4L293.5 159.8L294.3 159.0L295.0 160.0L295.1 160.6L295.9 159.3L296.7 159.2L297.5 159.6L298.3 159.3L299.1 160.9L299.9 160.2L300.7 159.1L301.6 158.9L301.7 159.6L302.4 162.0L303.2 161.7L304.0 162.5L304.8 163.7L304.8 163.3L305.6 164.9L306.4 163.2L307.2 163.5L308.0 163.1L308.8 163.2L309.6 161.9L310.0 162.5L310.4 162.7L311.2 162.4L312.0 161.6L312.8 161.4L313.6 162.2L314.4 162.7L315.3 162.6L316.1 162.8L316.2 161.7L316.9 162.0L317.7 162.4L318.5 162.3L319.3 161.7L320.1 162.2L320.9 162.7L321.7 162.0L322.5 161.4L323.0 161.5L323.3 163.0L324.1 161.8L324.9 161.5L325.7 161.3L326.5 162.3L327.3 160.3L328.2 161.3L329.0 162.2L329.8 160.9L330.6 162.3L330.8 161.2L331.4 160.9L332.2 160.9L333.0 159.4L333.8 159.5L334.6 161.1L335.4 159.4L336.0 159.5L336.2 159.8L337.0 160.1L337.8 159.3L338.6 157.2L339.4 157.7L340.2 158.2L341.0 157.3L341.2 158.1L341.9 157.9L342.7 157.3L343.5 156.2L344.3 156.5L345.1 157.6L345.9 156.8L346.0 157.0L346.7 158.2L347.5 157.1L348.3 155.8L349.1 155.1L349.9 155.8L350.7 156.6L351.5 156.2L351.7 155.8L352.3 155.2L353.1 155.0L353.9 153.9L354.7 153.3L355.6 152.0L355.8 152.9L356.4 151.9L357.2 151.4L358.0 151.2L358.8 152.2L359.6 151.8L360.0 151.7L360.4 152.9L361.2 151.1L362.0 151.4L362.8 151.0L363.6 149.7L364.4 150.6L365.0 149.5L365.2 146.5L366.0 149.0L366.8 148.3L367.6 149.9L368.5 148.2L369.3 146.9L370.1 149.1L370.8 147.7L370.9 147.7L371.7 149.3L372.5 148.4L373.3 147.9L374.1 148.0L374.9 148.9L375.7 147.3L376.5 148.5L377.0 148.0L377.3 151.2L378.1 148.7L378.9 147.2L379.7 148.9L380.5 148.0L381.3 148.7L382.2 148.8L383.0 150.3L383.8 148.3L384.4 148.8L384.6 144.8L385.4 144.9L386.2 147.7L387.0 144.5L387.0 145.0L387.8 141.1L388.6 141.8L389.4 140.2L389.6 139.4L390.2 139.8L391.0 139.7L391.8 140.3L392.6 138.1L393.4 141.3L394.2 139.9L394.8 138.3" fill="none" stroke="#3d67ae" stroke-width="2.5" stroke-linejoin="round" stroke-linecap="round"/>
<path d="M396.9 132.0L397.7 128.6L398.5 130.9L399.0 127.0" fill="none" stroke="#3d67ae" stroke-width="2.5" stroke-linejoin="round" stroke-linecap="round"/>
<path d="M401.0 121.7L401.8 120.3L402.6 118.6L403.0 114.0L403.4 113.3L404.2 106.7L405.0 107.1L405.2 107.0L405.8 110.9L406.6 115.5L407.3 117.5L407.4 116.3L408.3 113.2L409.1 115.3L409.9 112.3L410.4 110.2L410.7 108.6L411.5 113.4L412.3 120.0L412.5 118.5L413.1 118.2L413.9 122.3L414.7 124.1L415.0 121.0L415.5 124.0L416.3 125.6L417.1 125.6L417.9 126.8L418.7 124.9L418.8 125.8L419.5 125.4L420.3 126.7L421.1 118.2L422.0 119.6L422.0 119.0L422.8 117.5L423.6 116.9L424.4 116.2L425.0 113.3L425.2 112.1L426.0 109.3L426.8 108.6L427.0 106.0L427.6 104.5L428.4 100.5L429.2 96.7L429.2 98.8L430.0 94.5L430.8 92.1L431.6 93.6L432.3 93.5" fill="none" stroke="#3d67ae" stroke-width="2.5" stroke-linejoin="round" stroke-linecap="round"/>
<path d="M434.0 88.0L434.8 85.8L435.6 84.6L436.4 80.2L437.2 80.6L437.5 79.0L438.0 81.0L438.8 81.1L439.6 83.7L440.0 88.0L440.4 88.8L441.3 90.5L442.1 93.4L442.7 96.7L442.9 96.4L443.7 94.7L444.5 94.9L445.0 92.0L445.3 90.8L446.1 90.2L446.9 92.6L447.7 92.7L447.9 90.4L448.5 89.1L449.3 85.4L450.0 83.0L450.1 82.5L450.9 82.1L451.7 80.5L452.5 76.2L453.0 75.8L453.3 75.4L454.1 78.2L455.0 80.4L455.8 76.2L456.6 74.9L457.4 70.3L458.2 73.0L458.3 73.8L459.0 73.4L459.8 78.0L460.6 76.6L461.0 80.0L461.4 80.7L462.2 80.3L463.0 84.9L463.8 87.8L464.6 87.3L464.6 84.3L465.4 84.7L466.2 81.9L467.0 77.2L467.9 75.5L468.7 73.5L468.8 73.8L469.5 75.8L470.3 76.3L471.0 76.0L471.1 79.5L471.9 79.1L472.7 80.2L473.5 81.5L474.0 79.0L474.3 76.6L475.1 76.7L475.9 73.7L476.7 73.8L477.0 70.0L477.5 69.9L478.3 67.5L479.1 67.7L479.2 64.4L479.9 66.1L480.7 68.6L481.6 69.3L482.3 71.7L482.4 71.9L483.2 74.8L484.0 80.3L484.8 79.7L485.0 80.0L485.6 81.4L486.4 85.1L487.2 84.7L487.5 87.3L488.0 85.3L488.8 84.2L489.6 81.3L490.0 80.0L490.4 77.8L491.2 79.0L492.0 80.3L492.8 78.2L493.6 76.6L493.8 75.8L494.4 74.8L495.3 75.6L496.1 76.3L496.9 77.7L497.7 77.9L498.0 78.0L498.5 79.3L499.3 81.3L500.1 78.5L500.9 78.8L501.7 78.7L502.0 78.0L502.5 78.8L503.3 87.6L504.1 89.8L504.2 90.4L504.9 95.1L505.7 98.1L506.0 100.0L506.5 104.6L507.3 106.7L508.2 111.5L508.3 113.3L509.0 108.7L509.8 111.7L510.6 110.2L511.0 108.0L511.4 110.3L512.2 107.7L513.0 108.8L513.8 112.6L514.6 110.2L514.6 110.2L515.4 104.0L516.2 107.3L517.0 112.2L517.8 111.3L518.0 112.0L518.6 114.0L519.4 113.2L520.2 115.8L521.0 118.6L521.9 119.8L522.7 121.1L523.0 120.6L523.5 119.5L524.3 115.2L525.0 113.0L525.1 117.9L525.9 111.5L526.7 105.9L527.5 106.2L528.0 107.0L528.3 109.9L529.1 113.3L529.9 113.1L530.0 114.0L530.7 117.8L531.5 117.1L532.3 122.4L533.1 123.3L533.3 123.8L533.9 124.0L534.7 122.5L535.6 120.9L536.0 118.0L536.4 118.0L537.2 117.6L538.0 117.7L538.8 119.1L539.6 116.7L539.6 116.5L540.4 116.1L541.2 117.8L542.0 120.0L542.0 118.9L542.8 121.6L543.6 120.8L544.4 119.7L545.2 117.3L545.8 119.6L546.0 120.9L546.8 117.6L547.6 122.0L548.5 124.5L549.3 123.4L550.1 123.7L550.9 127.5L551.0 123.0L551.7 123.0L552.5 123.9L553.3 124.4L554.1 124.9L554.9 121.7L555.7 126.5L556.2 126.9L556.5 126.0L557.3 123.2L558.1 122.3L558.9 118.1L559.0 118.0L559.7 116.6L560.5 116.7L561.3 112.3L562.2 112.5L562.5 109.2L563.0 109.2L563.8 113.1L564.6 110.8L565.0 112.0L565.4 111.4L566.2 111.9L567.0 108.7L567.7 110.2L567.8 111.1L568.6 107.7L569.4 104.4L570.0 102.0L570.2 102.2L571.0 97.9L571.8 96.1L572.6 96.1L572.9 96.7L573.4 95.8L574.2 98.2L575.0 100.0L575.0 99.5L575.9 102.2L576.7 101.5L577.0 98.8L577.5 98.7L578.3 95.7L579.1 92.1L579.9 91.8L580.0 93.0L580.7 90.3L581.5 92.7L582.3 91.5L582.3 94.1L583.1 91.0L583.9 92.6L584.7 91.1L585.5 93.6L586.3 92.9L587.0 93.0L587.1 97.9L587.9 96.4L588.8 98.5L589.6 95.7L590.4 94.1L591.2 96.7L591.7 94.6" fill="none" stroke="#3d67ae" stroke-width="2.5" stroke-linejoin="round" stroke-linecap="round"/>
<path d="M729.6 113.0L730.4 102.0L731.2 105.2L732.0 98.0L732.8 113.5L733.6 110.8L734.4 107.1L735.2 104.8L736.0 110.4L736.9 116.0L737.7 112.3L738.5 104.8L739.3 103.3L740.1 100.0L740.9 111.1L741.7 102.3L742.5 106.0L743.3 102.9L744.1 101.0L744.9 105.0L745.7 104.4L746.5 109.4L747.3 108.6L748.1 106.2L748.9 109.4L749.8 118.0L750.6 103.1L751.4 105.6L752.2 103.5L753.0 106.1L753.8 102.4L754.6 106.5L755.4 107.7L756.2 118.0L757.0 103.7L757.8 105.2L758.6 102.9L759.4 101.0L760.2 100.0L761.0 103.2L761.8 111.9L762.6 113.1L763.5 100.7L764.3 107.1L765.1 102.4L765.9 106.6L766.7 108.1L767.5 97.4L768.3 179.0L769.1 81.0L769.9 113.1L770.7 120.0L771.5 111.1L772.3 102.9L773.1 104.6L773.9 82.0L774.7 115.0L775.5 114.2L776.3 125.0L777.2 118.1L778.0 116.9L778.8 116.5L779.6 107.8L780.4 107.9L781.2 119.0L782.0 92.0L782.8 109.8L783.6 108.9L784.4 112.3L785.2 107.8L786.0 107.4L786.8 109.6L787.6 92.0L788.4 103.9L789.2 112.1L790.1 102.3L790.9 99.5L791.7 98.0L792.5 110.5L793.3 107.2L794.1 102.5L794.9 100.0L795.7 95.0L796.5 102.4L797.3 116.0L798.1 108.8L798.9 101.9L799.7 104.4L800.5 107.1L801.3 105.6L802.1 107.2L802.9 115.6L803.8 108.2L804.6 101.4L805.4 95.8L806.2 84.0L807.0 104.7L807.8 108.7L808.6 106.1L809.4 105.1L810.2 103.4L811.0 103.9L811.8 107.8L812.6 91.0L813.4 108.3L814.2 118.9L815.0 114.8L815.8 102.2L816.6 115.8L817.5 113.0L818.3 97.0L819.1 112.3L819.9 117.0L820.7 105.8L821.5 104.2L822.3 101.7L823.1 106.5L823.9 113.6L824.7 108.6L825.5 110.8L826.3 119.4L827.1 105.9L827.9 109.0L828.7 107.1L829.5 102.5L830.4 101.1L831.2 93.0L832.0 109.8L832.8 121.0L833.6 108.1L834.4 111.7L835.2 110.9L836.0 113.1L836.8 112.0L837.6 111.7L838.4 116.6L839.2 113.6L840.0 110.7L840.8 120.0L841.6 106.7L842.4 106.9L843.2 110.4L844.1 111.0L844.9 113.5L845.7 110.3L846.5 105.3L847.3 112.6L848.1 100.0L848.9 107.3L849.7 111.8L850.5 109.8L851.3 114.0L852.1 105.9L852.9 106.3L853.7 112.0L854.5 107.7L855.3 107.6L856.1 107.5L856.9 107.2L857.8 105.7L858.6 108.2L859.4 111.3L860.2 103.0L861.0 107.0L861.8 105.0L862.6 107.6L863.4 106.4L864.2 112.0L865.0 103.2L865.8 112.0L866.6 112.2L867.4 107.3L868.2 110.6L869.0 112.9L869.8 103.7L870.7 105.4L871.5 106.4L872.3 109.6L873.1 108.6L873.9 108.0L874.7 108.2L875.5 113.5L876.3 116.2L877.1 88.0L877.9 106.5L878.7 115.2L879.5 108.2L880.3 106.9L881.1 108.1L881.9 109.7L882.7 111.8L883.5 110.8L884.4 107.0L885.2 99.0L886.0 109.6L886.8 114.1L887.6 110.5L888.4 105.6L889.2 104.7L890.0 117.0L890.8 108.0L891.6 102.6L892.4 104.9L893.2 107.3L894.0 111.4L894.8 102.0L895.6 109.8L896.4 111.2L897.2 107.6L898.1 107.7L898.9 113.2L899.7 115.0L900.5 113.2L901.3 115.0L902.1 112.7L902.9 109.6L903.7 108.7L904.5 106.2L905.3 107.8L906.1 108.1L906.9 116.2L907.7 110.7L908.5 112.9L909.3 128.0L910.1 109.9L911.0 112.3L911.8 103.8L912.6 107.2L913.4 110.5L914.2 102.5L915.0 102.0L915.8 109.7L916.6 108.3L917.4 105.4L918.2 106.4L919.0 106.3L919.8 109.8L920.6 110.3L921.4 108.4L922.2 117.0L923.0 107.8L923.8 112.1L924.7 110.8L925.5 111.2L926.3 99.0L927.1 105.1L927.9 105.3L928.7 109.3L929.5 109.1L930.3 106.2L931.1 103.1L931.9 107.0L932.7 107.1L933.5 107.1L934.3 107.1L935.1 108.9L935.9 111.0L936.7 111.7L937.5 112.4L938.4 113.8L939.2 112.7L940.0 109.1L940.8 108.6L941.6 110.0L942.4 108.2L943.2 110.1L944.0 112.4L944.8 107.6L945.6 103.1L946.4 110.1L947.2 94.0L948.0 110.9L948.8 105.5L949.6 112.6L950.4 112.1L951.2 109.5L952.1 107.9L952.9 113.1L953.7 113.0L954.5 107.6L955.3 105.0L956.1 111.0L956.9 109.3L957.7 109.1L958.5 109.0L959.3 89.2L960.1 107.8L960.9 107.3L961.7 107.3L962.5 108.4L963.3 105.7L964.1 110.1L965.0 107.1L965.8 105.4L966.6 104.9L967.4 107.8L968.2 110.5L969.0 97.5L969.8 103.7L970.6 110.0L971.4 105.9L972.2 111.2L973.0 109.4L973.8 106.8L974.6 106.1L975.4 109.1L976.2 111.4L977.0 122.5L977.8 111.6L978.7 115.9L979.5 92.3L980.3 105.8L981.1 104.5L981.9 103.0L982.7 104.7L983.5 105.1L984.3 116.2L985.1 108.4L985.9 100.7L986.7 101.9L987.5 112.3L988.3 113.0L989.1 111.7L989.9 111.1L990.7 115.1L991.5 112.7L992.4 90.2L993.2 104.9L994.0 107.0L994.8 105.2L995.6 104.5L996.4 104.2L997.2 114.2L998.0 106.5L998.8 111.8L999.6 103.5L1000.4 105.9L1001.2 116.9L1002.0 111.8L1002.8 116.1L1003.6 117.4L1004.4 119.1L1005.3 116.5L1006.1 103.6L1006.9 105.3L1007.7 105.3L1008.5 93.3L1009.3 102.5L1010.1 99.4L1010.9 96.0L1011.7 119.8L1012.5 107.2L1013.3 90.2L1014.1 101.7L1014.9 103.1L1015.7 104.5L1016.5 104.9L1017.3 107.0L1018.1 105.6L1019.0 109.7L1019.8 133.0L1020.6 111.8L1021.4 106.0L1022.2 104.2L1023.0 109.5L1023.8 119.4L1024.6 108.1L1025.4 90.2L1026.2 88.5L1027.0 103.5L1027.8 108.6L1028.6 116.4L1029.4 115.4L1030.2 112.2L1031.0 110.0L1031.8 101.1L1032.7 110.9L1033.5 71.5L1034.3 110.5L1035.1 112.5L1035.9 110.7L1036.7 114.3L1037.5 107.9L1038.3 106.2L1039.1 103.0L1039.9 104.5L1040.7 116.5L1041.5 92.3L1042.3 115.5L1043.1 115.6L1043.9 115.1L1044.7 125.6L1045.6 105.3L1046.4 109.5L1047.2 117.8L1048.0 107.9L1048.8 108.1L1049.6 90.2L1050.4 109.0L1051.2 102.7L1052.0 115.5L1052.8 108.9L1053.6 100.1L1054.4 115.6L1055.2 116.4L1056.0 98.5L1056.8 113.5L1057.6 108.3L1058.4 107.3L1059.3 112.1L1060.1 119.4L1060.9 116.0L1061.7 112.4L1062.5 107.3L1063.3 107.1L1064.1 114.2L1064.9 118.5L1065.7 110.2L1066.5 116.7L1067.3 114.8L1068.1 114.8L1068.9 114.6L1069.7 103.5L1070.5 94.4L1071.3 104.4L1072.2 108.3L1073.0 99.2L1073.8 112.3L1074.6 111.6L1075.4 112.0L1076.2 103.3L1077.0 106.6L1077.8 115.2L1078.6 102.3L1079.4 114.2L1080.2 112.3L1081.0 106.1L1081.8 112.2L1082.6 108.0L1083.4 96.5L1084.2 113.8L1085.0 111.7L1085.9 120.7L1086.7 117.4L1087.5 118.9L1088.3 105.7L1089.1 104.0L1089.9 116.7L1090.7 114.6L1091.5 110.4L1092.3 113.5L1093.1 104.5L1093.9 88.1L1094.7 102.2L1095.5 108.2L1096.3 105.8L1097.1 104.1L1097.9 107.3L1098.7 118.1L1099.6 106.4L1100.4 104.5L1101.2 119.8L1102.0 92.3L1102.8 118.0L1103.6 113.1L1104.4 110.7L1105.2 111.3L1106.0 119.0L1106.8 115.8L1107.6 130.8L1108.4 111.8L1109.2 101.2L1110.0 101.2L1110.8 114.1L1111.6 115.0L1112.5 113.6L1113.3 133.0L1114.1 107.5L1114.9 110.0L1115.7 104.2L1116.5 86.0L1117.3 104.9L1118.1 106.2L1118.9 110.2L1119.7 107.4L1120.5 118.8L1121.3 112.2L1122.1 111.8L1122.9 116.9L1123.7 103.5L1124.5 98.2L1125.3 108.3L1126.2 113.6L1127.0 116.7L1127.8 117.1L1128.6 116.1L1129.4 86.0L1130.2 111.9L1131.0 113.4L1131.8 104.6L1132.6 102.3L1133.4 105.8L1134.2 109.2L1135.0 92.9L1135.8 103.5L1136.6 108.1L1137.4 107.5L1138.2 127.7L1139.0 111.4L1139.9 104.1L1140.7 109.3L1141.5 101.7L1142.3 103.1L1143.1 107.8L1143.9 124.6L1144.7 103.4L1145.5 97.9L1146.3 96.0L1147.1 114.8L1147.9 109.4L1148.7 108.6L1149.5 104.4L1150.3 102.1L1151.1 95.4L1151.9 104.9L1152.8 108.7L1153.6 98.0L1154.4 102.7L1155.2 101.4L1156.0 114.2L1156.8 109.0L1157.6 114.8L1158.4 118.1L1159.2 117.6L1160.0 118.9L1160.8 106.0L1161.6 104.7L1162.4 113.4L1163.2 93.3L1164.0 109.8L1164.8 98.5L1165.6 95.1L1166.5 107.8L1167.3 110.1L1168.1 97.5L1168.9 106.0L1169.7 98.5L1170.5 112.1L1171.3 113.6L1172.1 119.1L1172.9 112.5L1173.7 108.9L1174.5 102.9L1175.3 113.1L1176.1 119.3L1176.9 109.1L1177.7 110.3L1178.5 109.7L1179.3 105.9L1180.2 94.4L1181.0 101.7L1181.8 109.4L1182.6 93.3L1183.4 101.6L1184.2 88.7L1185.0 108.5L1185.8 111.2L1186.6 109.8L1187.4 107.6L1188.2 104.9L1189.0 106.9L1189.8 106.4L1190.6 106.5L1191.4 107.7L1192.2 108.9L1193.1 116.2L1193.9 98.5L1194.7 108.3L1195.5 105.2L1196.3 101.4" fill="none" stroke="#3d67ae" stroke-width="2.5" stroke-linejoin="round" stroke-linecap="round"/>
<path d="M124.6 411.2L125.4 410.9L126.2 398.5L126.7 403.0L127.0 404.8L127.8 407.5L128.6 407.2L128.8 407.0L129.4 404.7L130.2 404.7L131.0 401.1L131.9 397.1L132.7 396.4L132.9 396.7L133.5 396.9L134.3 404.6L135.1 405.3L135.9 409.8L136.0 407.0L136.7 407.2L137.5 396.8L138.0 397.7L138.3 399.0L139.1 401.7L139.9 400.3L140.7 404.1L141.2 408.0L141.5 405.9L142.3 412.6L143.1 409.4L143.9 411.7L144.7 411.7L145.4 412.3L145.6 410.6L146.4 410.8L147.2 402.4L148.0 401.4L148.5 398.8L148.8 400.9L149.6 399.1L150.4 399.1L150.6 400.8L151.2 393.8L152.0 391.4L152.8 385.2L153.6 382.3L153.8 377.9L154.4 380.9L155.2 379.2L156.0 378.1L156.8 384.7L156.9 382.0L157.6 372.1L158.5 363.6L159.3 350.3L160.0 344.6L160.1 345.1L160.9 353.2L161.7 357.1L162.0 361.2L162.5 352.4L163.3 333.2L164.1 317.6L164.9 301.4L165.2 292.5L165.7 304.0L166.5 309.6L167.3 328.0L167.3 327.1L168.1 320.5L168.9 313.0L169.7 309.0L170.4 303.0L170.5 304.9L171.3 309.1L172.2 320.3L173.0 322.4L173.5 330.0L173.8 325.3L174.6 318.4L175.4 300.0L176.2 294.2L176.7 286.2L177.0 293.2L177.8 319.1L178.6 347.4L178.8 350.8L179.4 348.2L180.2 337.5L181.0 335.9L181.8 329.4L182.5 323.8L182.6 322.0L183.4 337.3L184.2 337.7L185.0 348.8L185.0 347.0L185.9 342.5L186.7 334.0L187.5 329.6L187.5 328.0L188.3 338.0L189.1 346.7L189.9 361.4L190.2 361.2L190.7 356.3L191.5 350.6L192.3 342.6L192.9 340.4L193.1 342.6L193.9 349.0L194.7 354.2L195.4 365.4L195.5 365.8L196.3 361.2L197.1 351.9L197.9 349.4L198.5 344.6L198.8 348.1L199.6 350.9L200.4 360.8L201.2 364.1L201.7 369.6L202.0 367.0L202.8 359.4L203.6 343.5L204.4 336.3L204.4 338.3L205.2 346.1L206.0 359.3L206.8 367.5L207.5 375.8L207.6 375.7L208.4 362.0L209.2 349.9L210.0 334.5L210.4 331.0L210.8 336.5L211.6 353.7L212.5 363.0L213.1 373.8L213.3 372.3L214.1 370.4L214.9 366.2L215.7 361.4L215.8 362.3L216.5 366.5L217.3 371.4L218.1 374.7L218.3 377.9L218.9 372.9L219.7 377.4L220.0 376.0L220.5 371.9L221.3 376.6L222.1 372.5L222.2 372.2L222.9 371.6L223.7 374.6L224.5 379.0L224.5 379.1L225.3 365.8L226.2 364.6L226.3 361.0L227.0 370.5L227.8 375.3L228.2 380.5L228.6 380.9L229.4 383.0L230.2 387.1L230.5 385.0L231.0 380.0L231.8 376.0L232.0 373.7L232.6 376.5L233.4 382.7L234.2 385.7L235.0 389.5L235.0 387.9L235.8 385.5L236.6 381.1L237.2 376.0L237.4 380.7L238.2 382.2L239.1 385.3L239.5 388.0L239.9 382.6L240.7 386.5L241.5 380.8L242.3 373.2L243.1 371.1L243.2 370.0L243.9 376.0L244.7 378.0L245.5 382.0L245.5 382.0L246.3 375.8L247.1 367.2L247.9 364.0L248.5 358.7L248.7 358.2L249.5 371.8L250.3 376.0L250.7 382.0L251.1 375.1L251.9 373.5L252.8 365.3L253.6 366.6L254.4 358.4L254.8 354.2L255.2 362.1L256.0 373.6L256.7 383.5L256.8 379.2L257.6 381.4L258.4 373.0L259.2 370.9L260.0 364.1L260.2 365.5L260.8 369.8L261.6 375.2L262.3 383.5L262.4 382.1L263.2 377.8L264.0 376.1L264.2 375.2L264.8 372.1L265.6 375.8L266.5 380.1L267.3 379.6L268.0 380.5L268.1 377.7L268.9 378.7L269.7 377.6L270.5 377.3L271.3 372.2L271.7 373.7L272.1 377.9L272.9 376.6L273.7 379.9L274.5 381.5L274.7 383.5L275.3 383.5L276.1 375.8L276.9 369.5L277.7 366.2L277.7 371.1L278.5 380.0L279.2 388.0L279.4 388.3L280.2 379.2L281.0 378.8L281.8 377.6L282.6 371.0L283.4 369.5L283.7 367.0L284.2 373.1L285.0 386.6L285.2 388.0L285.8 386.8L286.6 384.1L287.4 381.8L288.2 381.3L289.0 376.7L289.0 373.1L289.8 378.2L290.6 376.3L291.4 380.8L292.0 379.0L292.2 383.7L293.1 387.2L293.5 390.2L293.9 381.8L294.7 371.5L295.0 365.5L295.5 372.1L296.3 379.8L297.1 383.2L297.2 388.0L297.9 388.0L298.7 387.6L299.5 392.4L300.3 387.6L301.1 390.8L301.9 387.2L302.5 390.2L302.7 388.6L303.5 391.2L304.3 387.4L305.1 383.0L305.9 384.5L306.8 383.3L307.0 385.0L307.6 381.5L308.4 382.5L309.2 378.4L310.0 376.6L310.0 376.0L310.8 380.0L311.6 381.4L312.2 388.0L312.4 390.7L313.2 380.3L314.0 384.9L314.8 379.0L315.6 372.1L315.7 373.7L316.4 373.9L317.2 384.6L318.0 382.9L318.2 386.5L318.8 386.8L319.7 386.8L320.5 387.4L321.3 389.7L322.0 389.5L322.1 388.2L322.9 389.0L323.7 388.1L324.5 379.9L325.0 379.7L325.3 376.1L326.1 374.5L326.9 366.0L327.7 362.6L328.0 360.2L328.5 361.6L329.3 363.2L330.1 371.3L330.9 369.9L331.7 374.5L331.7 377.4L332.5 378.6L333.4 382.3L334.2 376.2L335.0 388.6L335.8 388.8L336.6 392.1L337.0 392.5L337.4 384.4L338.2 378.2L338.7 371.5L339.0 375.3L339.8 380.8L340.6 385.6L341.4 392.5L341.4 389.4L342.2 387.9L343.0 383.8L343.8 380.7L344.6 374.1L345.2 372.2L345.4 372.8L346.2 374.3L347.1 380.1L347.9 380.0L348.2 383.5L348.7 376.3L349.5 374.8L350.3 363.2L350.7 358.7L351.1 362.5L351.9 359.6L352.7 358.3L353.4 359.5L353.5 363.9L354.3 361.6L355.1 366.8L355.9 370.1L356.4 370.0L356.7 371.0L357.5 376.2L358.3 385.3L359.1 392.1L359.4 392.5L360.0 387.6L360.8 386.2L361.6 379.4L362.4 378.0L362.4 376.0L363.2 378.8L364.0 381.5L364.8 384.7L365.6 385.4L366.2 389.5L366.4 391.3L367.2 383.3L367.7 373.0L368.0 372.0L368.8 383.3L369.6 390.0L370.0 391.0L370.4 388.6L371.2 381.0L372.0 374.7L372.8 369.1L373.7 367.0L373.7 364.0L374.5 370.9L375.3 380.8L376.1 381.1L376.7 389.5L376.9 391.2L377.7 388.3L378.5 380.6L379.0 379.0L379.3 375.1L380.1 374.8L380.9 376.2L381.7 371.5L382.0 369.2L382.5 373.5L383.3 382.4L384.1 391.9L384.2 394.0L384.9 393.1L385.7 385.4L386.5 384.6L387.2 382.0L387.4 381.6L388.2 373.8L389.0 368.5L389.8 360.3L390.6 350.2L391.0 350.5L391.4 350.4L392.2 354.4L393.0 357.9L393.8 358.7L394.6 366.0L394.7 363.2" fill="none" stroke="#3d67ae" stroke-width="2.5" stroke-linejoin="round" stroke-linecap="round"/>
<path d="M396.2 373.7L397.0 373.9L397.7 370.7L397.8 377.5L398.6 386.3L399.2 391.0" fill="none" stroke="#3d67ae" stroke-width="2.5" stroke-linejoin="round" stroke-linecap="round"/>
<path d="M400.5 395.0L401.3 389.5L402.1 384.3L402.2 385.8L402.9 382.6L403.7 389.2L404.5 386.7L404.7 389.2L405.3 388.4L406.1 388.0L406.9 384.4L407.2 383.3L407.8 387.0L408.6 390.3L409.4 389.3L409.7 392.5L410.2 389.0L411.0 388.0L411.3 383.3L411.8 385.8L412.6 388.9L413.4 392.0L413.8 393.3L414.2 391.7L415.0 381.9L415.8 375.9L416.3 371.7L416.6 375.3L417.4 379.3L418.0 388.3L418.2 384.0L419.0 380.5L419.7 380.0L419.8 381.7L420.6 374.7L421.5 377.0L422.2 370.8L422.3 369.4L423.1 376.6L423.9 388.0L424.3 393.3L424.7 388.8L425.5 385.2L426.3 380.8L427.1 378.9L427.9 373.5L428.0 373.3L428.7 382.4L429.5 388.3L429.7 392.5L430.3 390.5L431.1 394.1L431.9 391.0L432.7 392.6L433.5 398.3L433.8 394.2L434.4 395.7L435.2 397.3L436.0 393.0L436.8 392.6L437.2 392.5L437.6 392.0L438.4 397.9L439.2 395.8L440.0 403.1L440.8 399.2L441.3 402.5L441.6 400.3L442.4 399.1L443.2 394.0L443.8 391.7L444.0 389.9L444.8 394.0L445.6 396.4L446.4 392.7L447.2 395.0L447.2 397.1L448.1 394.0L448.9 391.7L449.7 388.7L450.5 396.4L450.5 390.8L451.3 392.6L452.1 386.7L452.9 391.7L453.7 385.9L454.5 385.9L455.3 382.7L455.5 384.2L456.1 385.3L456.9 390.0L457.7 390.2L458.0 394.2L458.5 391.5L459.3 384.8L460.1 383.9L460.9 379.3L461.0 378.3L461.8 382.0L462.6 386.6L463.0 390.0L463.4 385.9L464.2 388.9L465.0 385.6L465.8 386.1L466.6 383.6L467.4 380.9L468.0 381.7L468.2 381.2L469.0 384.6L469.8 389.3L470.5 393.3L470.6 394.0L471.4 389.5L472.2 393.6L473.0 387.0L473.8 389.4L474.7 390.0L475.5 390.0L475.5 387.5L476.3 389.4L477.1 394.0L477.9 391.0L478.0 394.2L478.7 393.8L479.5 395.8L480.3 393.6L481.1 393.3L481.9 394.7L482.7 390.9L483.0 393.3L483.5 391.9L484.3 394.6L485.1 396.2L485.9 398.0L486.3 398.3L486.7 396.6L487.5 397.4L488.4 395.3L488.8 393.3L489.2 393.0L490.0 399.5L490.8 399.7L491.6 399.3L492.2 405.0L492.4 404.8L493.2 399.3L494.0 399.1L494.8 393.8L495.6 396.1L496.4 391.4L497.2 389.2L497.2 391.7L498.0 390.5L498.8 394.9L499.6 401.1L500.4 396.6L501.2 405.9L501.3 403.3L502.1 401.2L502.9 398.3L503.7 390.4L504.5 385.9L505.3 387.5L505.5 381.7L506.1 385.6L506.9 389.3L507.7 390.9L508.0 395.0L508.5 393.8L509.3 388.1L510.1 383.0L510.9 377.6L511.3 375.8L511.7 373.1L512.5 388.4L513.3 392.4L513.8 396.7L514.1 398.9L515.0 396.1L515.8 397.8L516.6 397.8L517.4 399.1L518.0 398.3L518.2 396.4L519.0 399.3L519.8 398.4L520.6 399.6L521.4 398.4L522.2 402.1L523.0 401.6L523.8 402.6L524.6 403.3L524.7 400.8L525.4 391.3L526.2 383.4L527.0 374.5L527.2 373.3L527.8 385.4L528.7 404.2L528.8 405.0L529.5 401.8L530.3 403.9L531.1 397.9L531.9 396.1L532.7 394.1L533.0 395.0L533.5 393.2L534.3 401.6L535.1 403.8L535.5 403.3L535.9 403.4L536.7 404.6L537.5 400.9L538.3 401.0L539.1 399.1L539.7 399.2L539.9 399.2L540.7 398.6L541.5 397.7L542.4 398.9L543.2 405.6L544.0 402.6L544.8 408.1L545.6 405.5L546.3 406.7L546.4 407.7L547.2 404.5L548.0 397.4L548.8 396.2L549.6 396.0L549.7 392.5L550.4 394.4L551.2 399.0L552.0 399.1L552.2 400.0L552.8 396.6L553.6 397.9L554.4 395.9L555.3 393.2L555.5 391.7L556.1 393.5L556.9 389.4L557.7 387.5L558.5 391.8L559.3 382.8L560.1 386.9L560.5 385.0L560.9 390.2L561.7 389.7L562.5 397.5L563.0 400.0L563.3 401.3L564.1 397.6L564.9 397.0L565.7 392.0L566.5 393.6L567.3 388.5L568.0 389.2L568.1 389.7L569.0 395.7L569.8 395.1L570.5 400.0L570.6 398.0L571.4 398.2L572.2 395.9L573.0 395.8L573.8 395.5L573.8 394.2L574.6 393.9L575.4 386.5L576.2 388.1L577.0 382.3L577.8 381.5L578.0 380.8L578.6 385.1L579.4 385.1L580.2 390.3L581.0 389.3L581.3 391.7L581.8 396.7L582.7 393.0L583.5 400.4L583.8 401.7L584.3 404.0L585.1 396.4L585.9 399.5L586.7 397.2L587.5 392.4L588.0 392.5L588.3 396.7L589.1 395.1L589.9 399.7L590.5 403.3" fill="none" stroke="#3d67ae" stroke-width="2.5" stroke-linejoin="round" stroke-linecap="round"/>
<path d="M729.6 412.6L730.4 408.7L731.2 404.9L732.0 404.8L732.8 403.9L733.6 403.3L734.4 400.9L735.2 400.4L736.0 399.9L736.9 400.2L737.7 401.4L738.5 400.7L739.3 403.0L740.1 402.3L740.9 401.8L741.7 402.7L742.5 404.1L743.3 405.1L744.1 405.2L744.9 404.5L745.7 404.3L746.5 402.8L747.3 403.8L748.1 404.6L748.9 406.2L749.8 406.4L750.6 404.9L751.4 405.1L752.2 402.9L753.0 400.9L753.8 398.4L754.6 399.6L755.4 399.0L756.2 397.7L757.0 396.5L757.8 389.9L758.6 386.3L759.4 386.0L760.2 385.8L761.0 384.2L761.8 383.4L762.6 381.9L763.5 380.3L764.3 377.1L765.1 367.8L765.9 366.2L766.7 366.0L767.5 362.2L768.3 359.5L769.1 347.8L769.9 339.9L770.7 334.4L771.5 331.2L772.3 328.4L773.1 327.3L773.9 324.5L774.7 322.2L775.5 319.4L776.3 317.5L777.2 315.1L778.0 315.1L778.8 315.0L779.6 313.6L780.4 315.2L781.2 314.3L782.0 317.4L782.8 316.9L783.6 318.0L784.4 318.7L785.2 318.0L786.0 316.8L786.8 318.5L787.6 317.5L788.4 318.0L789.2 319.2L790.1 317.6L790.9 317.4L791.7 317.6L792.5 317.5L793.3 318.0L794.1 318.3L794.9 318.6L795.7 319.5L796.5 319.7L797.3 319.8L798.1 321.1L798.9 321.4L799.7 322.2L800.5 322.5L801.3 323.8L802.1 324.8L802.9 324.0L803.8 324.0L804.6 326.0L805.4 328.1L806.2 328.4L807.0 328.3L807.8 328.8L808.6 329.0L809.4 329.0L810.2 331.3L811.0 332.2L811.8 332.9L812.6 333.5L813.4 333.6L814.2 332.8L815.0 332.7L815.8 333.5L816.6 334.9L817.5 333.8L818.3 333.6L819.1 333.6L819.9 333.8L820.7 333.7L821.5 334.8L822.3 336.5L823.1 336.2L823.9 335.0L824.7 335.9L825.5 336.1L826.3 336.9L827.1 338.3L827.9 339.4L828.7 342.2L829.5 343.1L830.4 343.6L831.2 345.6L832.0 347.8L832.8 349.6L833.6 351.4L834.4 351.0L835.2 352.5L836.0 349.5L836.8 347.5L837.6 350.3L838.4 352.4L839.2 355.8L840.0 353.1L840.8 351.4L841.6 347.6L842.4 348.4L843.2 350.2L844.1 352.0L844.9 353.8L845.7 352.7L846.5 351.4L847.3 349.8L848.1 346.5L848.9 349.8L849.7 351.5L850.5 354.7L851.3 353.0L852.1 351.1L852.9 348.3L853.7 346.7L854.5 348.8L855.3 351.5L856.1 355.6L856.9 353.8L857.8 351.2L858.6 348.9L859.4 346.0L860.2 349.5L861.0 351.5L861.8 355.2L862.6 353.2L863.4 350.8L864.2 348.5L865.0 346.6L865.8 348.4L866.6 352.2L867.4 355.3L868.2 353.4L869.0 351.1L869.8 347.0L870.7 346.1L871.5 348.5L872.3 350.3L873.1 354.2L873.9 352.6L874.7 349.2L875.5 346.9L876.3 346.3L877.1 348.9L877.9 351.6L878.7 353.1L879.5 351.4L880.3 349.4L881.1 347.5L881.9 346.4L882.7 349.6L883.5 353.5L884.4 356.9L885.2 356.2L886.0 354.4L886.8 353.3L887.6 352.8L888.4 355.1L889.2 357.3L890.0 357.6L890.8 357.1L891.6 355.6L892.4 353.4L893.2 354.6L894.0 355.2L894.8 358.2L895.6 359.3L896.4 358.5L897.2 358.5L898.1 358.5L898.9 359.0L899.7 359.9L900.5 361.7L901.3 362.6L902.1 362.8L902.9 362.5L903.7 361.7L904.5 360.7L905.3 362.3L906.1 362.7L906.9 364.9L907.7 363.3L908.5 361.9L909.3 362.3L910.1 360.7L911.0 361.8L911.8 362.2L912.6 363.4L913.4 363.2L914.2 362.2L915.0 362.9L915.8 361.3L916.6 362.4L917.4 365.4L918.2 367.1L919.0 364.9L919.8 364.8L920.6 365.1L921.4 364.5L922.2 365.7L923.0 366.6L923.8 366.2L924.7 366.1L925.5 366.3L926.3 366.1L927.1 364.8L927.9 365.2L928.7 366.2L929.5 366.7L930.3 365.0L931.1 362.0L931.9 360.0L932.7 358.2L933.5 351.0L934.3 350.6L935.1 355.9L935.9 358.0L936.7 357.9L937.5 356.6L938.4 356.7L939.2 357.8L940.0 359.1L940.8 361.9L941.6 361.1L942.4 359.7L943.2 358.4L944.0 358.1L944.8 359.3L945.6 360.0L946.4 361.1L947.2 361.1L948.0 359.3L948.8 358.2L949.6 358.0L950.4 357.5L951.2 358.8L952.1 360.5L952.9 359.4L953.7 360.3L954.5 360.5L955.3 358.7L956.1 359.9L956.9 362.4L957.7 364.3L958.5 362.4L959.3 362.9L960.1 362.2L960.9 359.9L961.7 360.8L962.5 361.3L963.3 362.1L964.1 360.6L965.0 358.6L965.8 356.8L966.6 355.1L967.4 355.8L968.2 356.7L969.0 357.3L969.8 354.7L970.6 352.6L971.4 350.6L972.2 351.1L973.0 351.0L973.8 352.3L974.6 354.1L975.4 354.9L976.2 356.2L977.0 356.3L977.8 356.8L978.7 360.3L979.5 361.7L980.3 363.3L981.1 360.7L981.9 359.9L982.7 358.4L983.5 356.6L984.3 358.6L985.1 358.9L985.9 359.3L986.7 358.3L987.5 357.5L988.3 355.4L989.1 356.0L989.9 356.6L990.7 358.4L991.5 359.3L992.4 359.2L993.2 359.1L994.0 358.2L994.8 358.3L995.6 351.3L996.4 345.6L997.2 348.0L998.0 348.9L998.8 350.0L999.6 351.3L1000.4 352.4L1001.2 354.2L1002.0 352.4L1002.8 352.6L1003.6 350.7L1004.4 348.8" fill="none" stroke="#3d67ae" stroke-width="2.5" stroke-linejoin="round" stroke-linecap="round"/>
<path d="M1006.1 354.1L1006.9 356.7L1007.7 359.1L1008.5 362.3L1009.3 365.9L1010.1 371.9L1010.9 370.1L1011.7 364.1L1012.5 360.0L1013.3 361.6L1014.1 363.8L1014.9 362.8L1015.7 361.2L1016.5 360.0L1017.3 360.2L1018.1 360.8L1019.0 363.7L1019.8 364.9L1020.6 364.1L1021.4 363.3L1022.2 361.7L1023.0 362.2L1023.8 361.7L1024.6 361.9L1025.4 364.7L1026.2 363.5L1027.0 361.0L1027.8 362.3L1028.6 361.3L1029.4 365.2L1030.2 367.8L1031.0 369.6L1031.8 369.8L1032.7 369.5L1033.5 370.4L1034.3 369.9L1035.1 372.4L1035.9 373.6L1036.7 374.6L1037.5 375.1L1038.3 373.7L1039.1 371.6L1039.9 370.4L1040.7 369.7L1041.5 371.1L1042.3 371.7L1043.1 372.5L1043.9 371.5L1044.7 372.9L1045.6 373.4L1046.4 374.3L1047.2 374.7L1048.0 375.2L1048.8 374.8L1049.6 373.3L1050.4 370.6L1051.2 370.9L1052.0 371.5L1052.8 371.3L1053.6 372.3L1054.4 371.1L1055.2 370.9L1056.0 368.5L1056.8 368.2L1057.6 368.5L1058.4 367.8L1059.3 368.6L1060.1 367.8L1060.9 368.3L1061.7 367.6L1062.5 367.0L1063.3 368.9L1064.1 372.4L1064.9 373.1L1065.7 373.9L1066.5 372.2L1067.3 370.6L1068.1 371.4L1068.9 372.3L1069.7 372.8L1070.5 372.2L1071.3 371.2L1072.2 371.3L1073.0 369.2L1073.8 368.2L1074.6 370.7L1075.4 370.8L1076.2 373.6L1077.0 372.7L1077.8 372.0L1078.6 370.8L1079.4 371.3L1080.2 373.3L1081.0 375.0L1081.8 376.0L1082.6 376.0L1083.4 374.3L1084.2 372.6L1085.0 374.1L1085.9 376.8L1086.7 378.0L1087.5 379.2L1088.3 379.1L1089.1 379.1L1089.9 377.1L1090.7 377.5L1091.5 379.5L1092.3 377.6L1093.1 377.3L1093.9 373.7L1094.7 374.1L1095.5 372.5L1096.3 373.4L1097.1 376.4L1097.9 378.2L1098.7 380.9L1099.6 379.6L1100.4 379.7L1101.2 377.5L1102.0 377.6L1102.8 378.8L1103.6 379.5L1104.4 379.6L1105.2 379.6L1106.0 378.9L1106.8 377.5L1107.6 376.7L1108.4 377.9L1109.2 379.1L1110.0 379.4L1110.8 378.7L1111.6 376.8L1112.5 375.7L1113.3 376.4L1114.1 376.9L1114.9 377.8L1115.7 378.8L1116.5 379.1L1117.3 379.3L1118.1 378.5L1118.9 377.7L1119.7 379.1L1120.5 380.3L1121.3 381.6L1122.1 380.3L1122.9 380.3L1123.7 379.7L1124.5 379.3L1125.3 381.7L1126.2 383.0L1127.0 384.2L1127.8 384.9L1128.6 384.0L1129.4 382.5L1130.2 381.1L1131.0 379.5L1131.8 378.8L1132.6 378.4L1133.4 376.8L1134.2 378.5L1135.0 378.9L1135.8 379.7L1136.6 382.8L1137.4 386.2L1138.2 388.8L1139.0 388.8L1139.9 387.3L1140.7 386.9L1141.5 386.5L1142.3 387.4L1143.1 387.6L1143.9 388.4L1144.7 387.5L1145.5 387.5L1146.3 385.6L1147.1 384.9L1147.9 385.4L1148.7 386.3L1149.5 387.8L1150.3 387.5L1151.1 385.2L1151.9 384.4L1152.8 382.4L1153.6 383.3L1154.4 385.0L1155.2 385.8L1156.0 383.3L1156.8 381.3L1157.6 379.4L1158.4 378.6L1159.2 377.9L1160.0 379.1L1160.8 380.3L1161.6 378.9L1162.4 377.3L1163.2 377.1L1164.0 375.3L1164.8 375.9L1165.6 376.3L1166.5 376.7L1167.3 375.8L1168.1 376.0L1168.9 374.9L1169.7 374.6L1170.5 374.1L1171.3 375.9L1172.1 376.5L1172.9 376.4L1173.7 375.9L1174.5 373.4L1175.3 374.4L1176.1 374.1L1176.9 374.5L1177.7 376.0L1178.5 376.7L1179.3 377.2L1180.2 378.1L1181.0 378.4L1181.8 380.5L1182.6 382.1L1183.4 385.2L1184.2 383.6L1185.0 382.3L1185.8 379.7L1186.6 380.0L1187.4 379.2L1188.2 379.9L1189.0 382.0L1189.8 381.9L1190.6 382.8L1191.4 382.1L1192.2 383.0L1193.1 383.4L1193.9 385.8L1194.7 387.6" fill="none" stroke="#3d67ae" stroke-width="2.5" stroke-linejoin="round" stroke-linecap="round"/>
<path d="M769.7 335.7L770.5 310.0L771.4 336.7" fill="none" stroke="#3d67ae" stroke-width="2.5" stroke-linejoin="round" stroke-linecap="round"/>
<path d="M775.2 318.4L776.0 294.6L776.9 319.4" fill="none" stroke="#3d67ae" stroke-width="2.5" stroke-linejoin="round" stroke-linecap="round"/>
<path d="M778.2 314.4L779.0 296.0L779.9 315.4" fill="none" stroke="#3d67ae" stroke-width="2.5" stroke-linejoin="round" stroke-linecap="round"/>
<path d="M781.2 316.5L782.0 300.0L782.9 317.5" fill="none" stroke="#3d67ae" stroke-width="2.5" stroke-linejoin="round" stroke-linecap="round"/>
<path d="M786.2 318.3L787.0 294.6L787.9 319.3" fill="none" stroke="#3d67ae" stroke-width="2.5" stroke-linejoin="round" stroke-linecap="round"/>
<path d="M792.2 317.6L793.0 305.0L793.9 318.6" fill="none" stroke="#3d67ae" stroke-width="2.5" stroke-linejoin="round" stroke-linecap="round"/>
<path d="M798.2 321.5L799.0 308.0L799.9 322.5" fill="none" stroke="#3d67ae" stroke-width="2.5" stroke-linejoin="round" stroke-linecap="round"/>
<path d="M803.7 326.1L804.5 312.0L805.4 327.1" fill="none" stroke="#3d67ae" stroke-width="2.5" stroke-linejoin="round" stroke-linecap="round"/>
<path d="M809.2 330.7L810.0 316.0L810.9 331.7" fill="none" stroke="#3d67ae" stroke-width="2.5" stroke-linejoin="round" stroke-linecap="round"/>
<path d="M815.2 333.4L816.0 315.0L816.9 334.4" fill="none" stroke="#3d67ae" stroke-width="2.5" stroke-linejoin="round" stroke-linecap="round"/>
<path d="M821.2 334.7L822.0 325.0L822.9 335.7" fill="none" stroke="#3d67ae" stroke-width="2.5" stroke-linejoin="round" stroke-linecap="round"/>
<path d="M826.2 338.0L827.0 330.0L827.9 339.0" fill="none" stroke="#3d67ae" stroke-width="2.5" stroke-linejoin="round" stroke-linecap="round"/>
<path d="M124.6 658.5L125.4 657.4L126.2 655.5L127.0 653.3L127.8 652.1L128.6 650.2L128.8 650.2L129.4 646.9L130.2 643.7L131.0 638.6L131.9 636.9L131.9 635.6L132.7 636.1L133.5 635.3L134.3 635.5L135.0 635.6L135.1 636.3L135.9 640.4L136.7 645.2L137.0 647.0L137.5 647.1L138.3 648.2L139.1 650.2L139.9 650.4L140.2 651.2L140.7 650.3L141.5 648.8L142.3 647.1L143.1 645.7L143.3 646.0L143.9 647.4L144.7 647.9L145.6 649.1L146.4 651.0L147.2 652.4L147.5 652.3L148.0 640.1L148.5 624.2L148.8 627.0L149.6 637.3L150.4 651.2L150.6 652.3L151.2 644.5L152.0 619.7L152.8 610.8L153.6 592.5L153.8 593.0L154.4 619.4L154.8 630.4L155.2 624.6L156.0 628.6L156.8 617.6L157.6 614.0L158.0 609.6L158.5 616.5L159.3 614.0L160.0 626.2L160.1 626.0L160.9 612.5L161.7 616.1L162.0 609.6L162.5 615.4L163.3 612.0L164.1 619.7L164.2 619.0L164.9 609.0L165.7 608.4L166.5 595.4L167.3 592.1L168.1 579.2L168.3 580.4L168.9 578.9L169.7 575.9L170.5 577.1L171.3 575.9L171.5 572.0L172.2 567.9L173.0 586.1L173.8 583.4L174.6 588.6L174.6 588.8L175.4 590.1L176.2 572.4L176.7 576.2L177.0 580.2L177.8 573.8L178.6 585.6L179.4 581.8L179.8 588.8L180.2 591.9L181.0 591.0L181.8 574.7L182.6 582.5L182.9 580.4L183.4 586.1L184.2 582.0L185.0 581.2L185.9 587.0L186.7 585.3L187.0 586.7L187.5 583.6L188.3 587.4L189.1 584.1L189.9 582.5L190.2 582.5L190.7 580.1L191.5 587.7L192.3 595.3L193.1 591.7L193.9 593.2L194.7 607.1L195.4 603.3L195.5 609.3L196.3 586.9L197.1 577.7L197.9 561.5L198.5 558.5L198.8 568.9L199.6 569.1L200.4 586.9L201.2 601.6L201.7 607.5L202.0 604.1L202.8 590.6L203.6 581.9L204.4 572.5L204.4 569.0L205.2 588.5L206.0 597.4L206.8 618.7L206.9 618.0L207.6 616.6L208.4 622.3L209.2 615.6L210.0 623.0L210.8 620.5L211.0 620.0L211.6 620.1L212.5 621.0L213.3 615.0L214.1 613.6L214.9 612.3L215.2 613.8L215.7 613.4L216.5 622.1L217.3 628.1L217.3 628.3L218.1 620.6L218.9 609.7L219.7 612.0L220.4 604.4L220.5 608.5L221.3 606.5L222.1 604.9L222.9 607.2L223.7 618.1L224.5 611.2L224.6 611.7L225.3 621.7L226.2 617.2L227.0 630.9L227.7 632.5L227.8 634.5L228.6 635.2L229.4 635.7L230.2 637.4L231.0 632.7L231.8 641.4L232.6 637.9L233.0 641.9L233.4 635.1L234.2 632.0L235.0 621.8L235.8 611.9L236.0 609.6L236.6 614.1L237.4 618.3L238.2 625.7L239.1 629.6L239.2 632.5L239.9 625.7L240.7 621.5L241.5 606.0L242.3 609.8L243.1 592.1L243.3 595.0L243.9 602.0L244.7 610.8L245.5 624.7L246.3 630.4L246.5 635.6L247.1 631.8L247.9 636.8L248.7 626.8L249.5 623.0L250.0 625.0L250.3 618.4L251.1 632.2L251.9 613.1L252.8 626.3L253.6 619.6L254.4 613.5L254.8 618.0L255.2 622.0L256.0 624.1L256.8 627.7L257.0 628.0L257.6 625.7L258.4 625.8L259.2 621.1L260.0 620.0L260.0 615.6L260.8 626.7L261.6 620.4L262.4 623.6L263.2 630.4L264.0 630.0L264.0 631.4L264.8 628.7L265.6 635.6L266.5 630.2L267.3 635.0L268.1 635.3L268.3 635.6L268.9 640.3L269.7 632.0L270.5 637.9L271.3 634.2L272.1 636.9L272.5 640.8L272.9 636.9L273.7 622.4L274.5 600.8L275.2 589.8L275.3 587.2L276.1 585.9L276.9 596.2L277.7 595.4L278.5 594.9L278.8 597.0L279.4 610.3L280.2 621.3L280.8 637.7L281.0 636.0L281.8 622.4L282.6 610.8L283.0 605.4L283.4 613.0L284.2 611.3L285.0 624.9L285.8 629.1L286.6 635.4L287.0 636.7L287.4 632.1L288.2 634.7L289.0 632.9L289.8 623.9L290.6 617.1L291.4 618.9L292.2 615.2L292.3 611.7L293.1 612.1L293.9 623.0L294.7 612.2L295.5 626.4L296.3 622.5L297.1 623.4L297.5 628.3L297.9 628.2L298.7 627.5L299.5 636.9L300.3 632.3L301.1 631.7L301.7 638.8L301.9 637.9L302.7 632.0L303.5 623.1L304.3 616.7L305.1 611.3L305.4 607.5L305.9 625.3L306.8 638.2L306.9 643.0L307.6 640.5L308.4 630.2L309.2 629.0L310.0 630.9L310.0 625.0L310.8 621.6L311.6 620.6L312.4 613.9L313.2 615.2L314.0 607.1L314.2 609.6L314.8 606.5L315.6 625.0L316.4 617.2L317.2 622.8L318.0 631.7L318.3 632.5L318.8 634.8L319.7 630.6L320.5 640.0L321.3 650.1L322.1 630.7L322.5 640.8L322.9 613.8L323.5 577.3L323.7 572.3L324.5 588.6L325.3 602.3L326.1 609.4L326.7 618.0L326.9 611.2L327.7 612.1L328.5 612.0L329.3 589.3L330.1 588.3L330.4 586.7L330.9 592.1L331.7 603.8L332.5 608.3L333.4 615.1L334.2 627.6L335.0 643.0L335.0 634.6L335.8 618.6L336.6 626.9L337.4 612.9L338.2 615.7L339.0 603.6L339.2 604.4L339.8 611.7L340.6 624.0L341.4 629.8L342.2 639.9L342.3 640.8L343.0 641.0L343.8 632.7L344.6 626.7L345.4 628.9L346.2 618.0L346.5 618.0L347.1 619.4L347.9 627.7L348.5 633.5L348.7 620.1L349.5 616.9L350.3 588.8L351.1 569.4L351.2 565.8L351.9 574.4L352.7 586.5L353.5 586.5L353.8 599.2L354.3 595.4L355.1 593.6L355.8 582.5L355.9 589.9L356.7 607.9L357.3 632.5L357.5 633.4L358.3 618.0L358.3 622.4L359.1 623.0L360.0 633.6L360.8 632.7L361.5 645.0L361.6 641.2L362.4 639.3L363.2 629.8L364.0 620.9L364.6 615.8L364.8 615.3L365.6 619.5L366.4 617.7L367.2 615.4L367.7 618.0L368.0 628.8L368.8 629.3L369.6 647.5L369.8 645.0L370.4 633.5L371.2 621.0L371.9 612.7L372.0 614.5L372.8 623.7L373.7 623.9L374.0 632.5L374.5 625.4L375.3 619.9L376.1 591.4L376.7 593.0L376.9 589.1L377.7 598.7L378.5 594.4L379.2 599.2L379.3 605.1L380.1 610.7L380.9 623.9L381.7 633.6L382.3 640.8L382.5 642.3L383.3 631.3L384.1 625.2L384.9 622.1L385.4 618.0L385.7 619.7L386.5 611.9L387.4 608.7L388.2 612.5L388.5 605.4L389.0 604.3L389.8 592.0L390.6 581.9L391.2 575.2L391.4 578.5L392.2 605.1L393.0 623.0L393.3 632.5L393.8 624.4L394.6 600.9L395.4 593.8L396.2 569.5L396.9 561.7L397.0 567.4L397.8 592.8L398.6 615.6L399.0 633.5L399.4 637.0L400.3 619.4L401.1 632.5L401.9 612.4L402.0 618.0L402.7 622.1L403.5 624.3L404.2 634.6L404.3 633.2L405.1 626.0L405.9 622.6L406.7 611.5L407.3 612.7L407.5 617.5L408.3 614.2L409.1 630.0L409.9 635.6L410.4 639.8L410.7 641.3L411.5 630.4L412.3 627.3L413.0 625.0L413.1 622.1L414.0 620.0L414.8 620.2L415.6 616.6L416.4 607.3L416.7 606.5L417.2 609.0L418.0 599.6L418.8 610.7L419.6 603.2L420.4 619.3L421.2 607.5L421.9 609.6L422.0 611.5L422.8 625.4L423.0 638.8L423.6 640.6L424.4 631.0L425.2 637.0L426.0 631.8L426.8 622.7L427.0 628.3L427.7 630.4L428.5 627.0L429.3 626.4L430.1 628.8L430.9 618.6L431.7 627.7L432.3 624.2L432.5 612.8L433.3 599.1L433.8 579.4L434.1 585.7L434.9 621.7L435.4 636.7L435.7 640.0L436.5 633.0L437.3 645.5L438.1 635.7L438.9 645.2L439.7 639.7L440.6 644.5L441.4 649.7L441.7 646.0L442.2 641.5L443.0 632.5L443.8 636.4L444.6 624.9L444.8 623.0L445.4 624.6L446.2 619.3L447.0 621.9L447.8 621.9L448.0 624.2L448.6 610.7L449.4 589.7L450.0 579.4L450.2 587.7L451.0 611.7L451.8 640.5L452.0 641.9L452.6 638.2L453.4 633.7L454.3 626.2L455.1 624.7L455.9 610.4L456.7 618.2L456.7 610.6L457.5 618.5L458.3 617.5L459.1 633.9L459.9 638.6L460.4 639.8L460.7 640.8L461.5 630.1L462.3 633.8L463.1 630.1L463.9 626.5L464.7 631.9L465.5 623.0L465.6 624.2L466.3 628.7L467.1 626.4L468.0 632.0L468.8 634.3L469.6 642.9L470.4 643.4L470.8 645.0L471.2 646.3L472.0 633.4L472.8 636.2L473.6 632.4L474.4 623.4L475.2 624.7L476.0 621.0L476.0 623.6L476.8 629.6L477.6 631.3L478.4 637.6L479.2 647.5L480.0 646.2L480.2 650.2L480.9 652.6L481.7 644.2L482.5 644.3L483.3 644.0L484.0 642.0L484.1 642.9L484.9 641.9L485.7 643.3L486.5 634.6L487.3 640.4L487.5 640.8L488.1 638.9L488.9 641.5L489.7 644.2L490.0 648.0L490.5 647.5L491.3 642.5L492.1 647.5L492.9 649.2L493.7 640.4L493.8 643.0L494.6 639.1L495.4 634.0L496.2 635.3L497.0 628.4L497.0 632.0L497.8 621.4L498.6 629.5L499.4 616.7L500.0 613.8L500.2 620.8L501.0 624.5L501.8 623.0L502.6 638.4L503.4 630.7L504.2 645.0L504.2 637.2L505.0 647.5L505.8 632.1L506.6 632.0L507.4 639.8L508.3 640.3L508.3 633.5L509.1 641.1L509.9 637.6L510.7 641.5L511.5 647.4L511.5 645.0L512.3 634.7L513.1 641.6L513.9 632.4L514.7 624.1L515.5 632.7L516.3 624.8L516.7 619.0" fill="none" stroke="#3d67ae" stroke-width="2.5" stroke-linejoin="round" stroke-linecap="round"/>
<path d="M517.7 640.8L518.5 640.9L519.3 645.5L520.1 652.1L520.8 649.2L520.9 650.1L521.7 648.8L522.5 642.8L523.0 638.0L523.3 631.8L524.1 632.1L525.0 637.9L525.8 626.0L526.0 630.4L526.6 628.7L527.4 638.3L528.2 636.3L529.0 652.1L529.0 645.0L529.8 648.3L530.6 646.1L531.4 653.3L532.2 643.6L532.3 650.2L533.0 646.6L533.8 648.4L534.6 644.4L535.4 639.8L536.0 640.0L536.2 638.0L537.0 641.6L537.9 637.6L538.7 636.7L539.5 638.4L539.6 637.7L540.3 646.7L541.1 637.8L541.9 647.4L542.7 650.7L543.0 648.0L543.5 645.8L544.3 645.5L545.1 649.4L545.9 656.5L546.7 647.4L546.9 649.2L547.5 645.8L548.3 640.3L549.1 641.4L549.9 650.3L550.0 645.0L550.7 635.1L551.6 637.2L552.4 618.3L553.0 620.0L553.2 619.6L554.0 601.5L554.8 590.0L555.2 585.6L555.6 582.0L556.4 594.8L557.2 587.1L558.0 600.9L558.3 597.0L558.8 583.6L559.6 561.5L560.4 545.8L561.0 529.4L561.2 546.0L562.0 595.3L562.5 628.3L562.8 622.3L563.6 633.8L564.4 620.3L565.3 620.8L566.1 626.6L566.7 620.0L566.9 619.9L567.7 628.7L568.5 640.8L568.8 642.9L569.3 635.7L570.1 629.8L570.9 613.1L571.7 603.7L571.9 600.2L572.5 609.8L573.3 626.6L574.0 635.0L574.1 631.0L574.9 619.5L575.7 611.4L576.0 599.2L576.5 606.2L577.3 623.3L578.2 624.5L579.0 635.1L579.2 640.8L579.8 633.4L580.6 633.1L581.4 629.6L582.0 625.0L582.2 620.9L583.0 613.5L583.8 604.3L584.6 601.7L585.0 593.0L585.4 599.3L586.2 619.3L587.0 621.2L587.5 633.5L587.8 636.1L588.6 635.8L589.4 635.3L590.2 645.0L590.6 643.0" fill="none" stroke="#3d67ae" stroke-width="2.5" stroke-linejoin="round" stroke-linecap="round"/>
<path d="M729.6 613.1L730.4 616.3L731.2 625.4L732.0 631.1L732.7 636.0L732.8 635.7L733.6 630.6L734.4 622.7L734.8 619.4L735.2 620.5L736.0 621.8L736.9 622.2L736.9 622.5L737.7 619.2L737.9 617.3L738.5 617.9L739.3 619.2L740.1 619.1L740.9 623.6L741.0 622.5L741.7 610.5L742.5 594.3L743.1 581.9L743.3 583.9L744.1 582.6L744.9 583.5L745.2 581.9L745.7 583.4L746.5 581.7L747.3 583.7L747.9 584.0" fill="none" stroke="#3d67ae" stroke-width="2.5" stroke-linejoin="round" stroke-linecap="round"/>
<path d="M748.8 593.3L749.6 596.0L750.4 598.4L751.2 601.9L751.5 603.8L752.0 609.2L752.8 615.1L753.5 621.5L753.6 621.8L754.4 617.7L755.2 616.3L755.6 616.2L756.0 618.8L756.8 622.3L757.6 626.2L758.3 628.8L758.4 627.6L759.2 626.1L760.0 624.7L760.8 620.4L760.8 620.9L761.6 614.4L762.5 609.8L763.3 603.9L764.1 598.3L764.6 593.3L764.9 596.9L765.7 599.6L766.5 604.0L767.1 608.0L767.3 610.5L768.1 617.4L768.9 625.3L769.7 635.0L770.5 644.0L770.8 645.4L771.3 641.9L772.1 642.2L772.9 641.4L773.7 640.3L774.4 641.2L774.5 642.7L775.3 638.1L776.2 634.5L777.0 633.3L777.5 630.8L777.8 631.3L778.6 631.5L779.4 633.2L780.2 634.9L780.6 635.0L781.0 634.5L781.8 641.3L782.6 645.4L783.3 647.5L783.4 645.5L784.2 640.9L785.0 634.5L785.8 630.8L785.8 632.5L786.6 630.2L787.4 630.2L788.2 627.7L789.0 626.7L789.1 628.6L789.9 629.3L790.4 632.9" fill="none" stroke="#3d67ae" stroke-width="2.5" stroke-linejoin="round" stroke-linecap="round"/>
<path d="M793.1 620.4L793.9 624.1L794.7 629.0L795.5 631.7L796.3 632.6L797.1 636.8L797.9 639.7L798.3 642.3L798.7 641.0L799.5 632.3L800.4 627.1L800.4 626.7L801.2 621.6L802.0 615.2L802.8 608.7L803.6 602.2L804.4 597.3L804.6 594.4L805.2 593.3L806.0 592.7L806.8 595.1L807.6 593.7L808.4 592.4L809.2 592.7L809.8 593.3L810.0 595.1L810.8 599.6L810.8 600.2L811.6 596.7L812.4 593.0L813.3 590.3L814.0 588.1L814.1 585.6L814.9 591.0L815.7 590.6L816.5 590.0L817.3 589.9L818.1 589.7L818.9 591.9L819.2 591.2L819.7 590.0L820.5 585.2L821.2 584.0L821.3 586.0L822.1 581.0L822.9 578.8L823.7 575.2L824.4 572.5" fill="none" stroke="#3d67ae" stroke-width="2.5" stroke-linejoin="round" stroke-linecap="round"/>
<path d="M826.5 566.2L827.3 565.5L828.1 563.7L828.9 563.3L829.7 562.2L830.5 560.5L830.6 561.0L831.3 562.5L832.1 562.4L832.9 564.0L833.8 568.1L834.6 567.8L835.4 568.0L835.8 568.3L836.2 564.8L837.0 554.9L837.8 547.4L837.9 548.5L838.6 550.1L839.4 553.1L840.0 553.8L840.2 556.3L841.0 561.9L841.8 570.3L842.6 578.0L843.1 581.9L843.4 580.2L844.2 575.9L845.0 570.3L845.2 570.4L845.8 571.0L846.7 570.7L847.3 569.4L847.5 564.1L848.3 528.2L848.3 525.6L849.1 526.2L849.9 524.5L850.7 523.3L851.5 526.3L852.3 526.3L852.5 525.6L853.1 526.0L853.9 527.1L854.7 529.2L855.5 528.8L856.3 527.9L857.1 528.9L857.9 531.3L858.7 530.0L858.8 530.8L859.5 527.4L860.4 527.5L861.2 528.8L862.0 527.8L862.8 526.2L862.9 526.7L863.6 530.9L864.4 536.4L865.2 541.5L866.0 547.1L866.0 547.5L866.8 552.1L867.6 551.9L868.4 556.7L869.2 560.0L869.2 560.4L870.0 559.0L870.8 558.7L871.6 558.1L872.4 557.1L873.2 556.9L874.1 554.1L874.4 554.8L874.9 555.6L875.7 557.7L876.5 560.4L877.3 561.9L878.1 564.3L878.9 562.1L879.6 565.2L879.7 565.9L880.5 565.2L881.3 566.6L882.1 569.3L882.9 569.7L883.7 568.7L883.8 569.4L884.5 567.3L885.3 563.9L886.1 560.8L887.0 558.1L887.8 553.7L888.6 552.0L889.0 550.6L889.4 551.0L890.2 551.7L891.0 551.0L891.0 551.7L891.8 554.9L892.6 557.4L893.4 560.9L894.2 563.1L894.2 562.8L895.0 561.5L895.8 559.8L896.6 559.3L897.3 556.9L897.4 555.6L898.2 550.5L899.0 547.8L899.8 544.9L900.4 542.3L900.7 543.0L901.5 542.2L902.3 538.9L903.1 539.4L903.9 541.6L904.6 540.2L904.7 540.5L905.5 538.1L906.3 540.5L907.1 536.5L907.9 537.4L908.7 536.8L909.5 536.4L909.8 536.0" fill="none" stroke="#3d67ae" stroke-width="2.5" stroke-linejoin="round" stroke-linecap="round"/>
<path d="M911.9 543.3L912.7 543.9L913.5 542.1L914.3 540.4L915.1 541.2L915.9 541.2L916.0 541.2L916.7 539.5L917.5 540.0L918.3 538.7L919.2 536.7L920.0 537.2L920.8 536.3L921.2 536.0L921.6 532.6L922.4 529.5L923.2 527.4L923.3 526.7L924.0 527.6L924.8 527.9L925.6 528.9L926.4 529.9L926.5 528.8L927.2 531.5L928.0 532.3L928.8 535.3L929.6 537.0L929.6 536.6L930.4 537.1L931.2 538.2L932.1 539.6L932.9 539.9L933.7 538.9L934.5 540.4L935.3 540.8L935.8 542.3L936.1 543.0L936.9 542.9L937.7 545.7L937.9 545.4L938.5 543.0L939.3 540.6L940.0 537.0L940.1 536.1L940.9 537.7L941.7 534.8L942.5 535.5L943.3 535.0L944.1 537.0L944.2 536.0L944.9 538.3L945.8 541.6L946.2 543.3L946.6 543.5L947.4 543.1L948.2 543.8L949.0 539.5L949.8 541.3L950.0 541.2L950.6 538.0L951.4 539.2L952.2 539.8L953.0 540.6L953.8 539.8L954.2 539.2L954.6 549.9L955.4 569.4L955.8 578.8L956.2 577.4L957.0 578.4L957.8 578.4L958.6 580.2L959.5 577.8L960.3 579.5L960.4 577.7L961.1 567.9L961.9 552.2L962.5 542.3L962.7 541.8L963.5 543.5L964.3 543.2L965.1 544.0L965.6 543.3L965.9 543.6L966.7 540.2L967.5 536.7L968.3 535.0L969.1 532.2L969.8 529.8L969.9 530.2L970.7 530.9L971.5 531.3L972.4 533.6L972.9 533.0L973.2 534.5L974.0 534.2L974.8 535.2L975.6 538.8L976.4 541.5L977.1 542.3L977.2 541.1L978.0 546.7L978.8 549.6L979.2 553.8L979.6 553.0L980.4 554.1L981.2 552.3L981.2 552.7L982.0 547.3L982.8 544.1L983.6 540.7L984.4 533.0L984.4 532.6L985.2 534.1L986.1 537.5L986.9 538.7L987.7 541.4L988.5 540.4L988.5 541.2L989.3 543.8L990.1 546.1L990.9 550.1L991.7 552.3L991.7 553.8L992.5 557.9L993.3 559.3L993.8 562.0L994.1 573.0L994.9 591.6L995.7 613.0L995.8 614.2L996.5 620.5L997.3 625.6L998.1 630.1L998.9 635.0L999.0 636.0" fill="none" stroke="#3d67ae" stroke-width="2.5" stroke-linejoin="round" stroke-linecap="round"/>
<path d="M1002.0 564.2L1002.8 555.9L1003.6 543.9L1003.8 544.4" fill="none" stroke="#3d67ae" stroke-width="2.5" stroke-linejoin="round" stroke-linecap="round"/>
<path d="M1006.2 580.8L1007.1 587.7L1007.9 590.3L1008.7 594.0L1009.5 599.1L1010.3 604.4L1010.8 607.9L1011.1 603.3L1011.9 600.0L1012.7 593.3L1013.5 588.1L1013.5 589.2L1014.3 590.8L1015.1 590.8L1015.6 592.3" fill="none" stroke="#3d67ae" stroke-width="2.5" stroke-linejoin="round" stroke-linecap="round"/>
<path d="M1017.7 575.6L1018.5 576.8L1019.3 575.4L1020.1 573.5L1020.8 572.5L1020.9 572.4L1021.7 566.0L1022.5 560.1L1022.9 559.0L1023.3 558.9L1024.1 558.6L1025.0 555.6L1025.8 556.2L1026.6 553.3L1027.0 552.7L1027.4 554.7L1028.2 555.6L1029.0 557.2L1029.2 559.0L1029.8 558.8L1030.6 560.5L1031.4 559.1L1032.2 558.1L1032.3 560.0L1033.0 555.8L1033.8 548.8L1034.4 541.2L1034.6 541.0L1035.4 541.9L1036.2 541.2L1037.0 541.7L1037.5 542.3" fill="none" stroke="#3d67ae" stroke-width="2.5" stroke-linejoin="round" stroke-linecap="round"/>
<path d="M1038.5 572.5L1039.3 571.1L1040.1 570.8L1040.9 571.0L1041.7 570.4L1041.7 570.0L1042.5 560.1L1043.3 551.1L1043.8 547.5L1044.1 551.2L1044.9 549.5L1045.8 549.2L1046.6 548.7L1047.4 547.5L1047.9 547.5L1048.2 548.9L1049.0 552.3L1049.8 555.6L1050.0 555.8L1050.6 553.7L1051.4 555.9L1052.2 558.1L1053.0 558.1L1053.8 559.0L1053.8 559.6L1054.6 547.6L1055.2 539.2L1055.4 539.4L1056.2 539.0L1057.0 537.2L1057.8 535.6L1058.7 536.5L1059.4 537.0L1059.5 537.6L1060.3 549.7L1061.1 564.8L1061.5 571.5L1061.9 571.8L1062.7 571.5L1063.5 574.3L1064.3 575.1L1064.6 573.5L1065.1 577.5L1065.9 584.1L1066.7 590.2L1066.7 593.4L1067.5 597.1L1068.3 602.2L1068.8 605.8L1069.1 605.2L1069.9 595.6L1070.7 590.4L1070.8 589.2L1071.5 586.0L1072.4 579.0L1073.2 572.8L1074.0 569.3L1074.8 564.9L1075.0 563.1L1075.6 565.7L1076.4 572.1L1077.2 578.1L1078.0 582.8L1078.1 585.0L1078.8 587.1L1079.6 588.1L1080.4 588.2L1081.2 591.3L1081.2 591.2L1082.0 580.7L1082.8 569.2L1083.6 555.1L1084.4 545.4L1084.4 546.0L1085.2 544.7L1086.1 544.4L1086.9 543.2L1087.7 544.6L1088.5 543.0L1089.3 541.7L1090.1 542.2L1090.9 541.8L1091.7 541.9L1091.7 541.2L1092.5 550.2L1093.3 561.1L1093.8 566.2L1094.1 567.2L1094.9 565.1L1095.7 566.2L1096.5 565.5L1097.3 564.2L1097.9 566.2L1098.1 563.0L1099.0 556.1L1099.8 549.2L1100.0 545.4L1100.6 545.7L1101.4 543.3L1102.2 542.5L1103.0 541.2L1103.8 541.5L1104.6 538.6L1105.2 538.1L1105.4 540.5L1106.2 544.4L1107.0 547.6L1107.8 552.3L1108.3 554.8L1108.6 558.2L1109.4 566.6L1110.2 574.2L1111.0 581.4L1111.5 586.0L1111.8 584.1L1112.7 584.8L1113.5 586.4L1114.3 585.5L1114.6 585.0L1115.1 579.0L1115.9 568.6L1116.7 559.9L1117.5 552.1L1117.7 547.5L1118.3 549.1L1119.1 548.6L1119.9 547.5L1120.7 546.3L1120.8 547.5" fill="none" stroke="#3d67ae" stroke-width="2.5" stroke-linejoin="round" stroke-linecap="round"/>
<path d="M1122.9 568.3L1123.7 568.7L1124.5 567.6L1125.3 566.1L1126.0 566.2L1126.1 568.4L1126.9 555.7L1127.7 548.4L1128.5 539.3L1128.8 536.0L1129.3 535.3L1130.2 536.3L1131.0 536.9L1131.8 537.8L1132.3 537.0L1132.6 540.5L1133.4 547.6L1134.2 557.0L1134.4 559.0L1135.0 557.9L1135.8 560.3L1136.6 559.1L1137.4 558.5L1137.5 560.0L1138.2 551.7L1139.0 546.7L1139.6 542.3L1139.8 542.0L1140.6 542.8L1141.4 545.5L1142.2 545.4L1142.7 543.3L1143.1 545.6L1143.9 547.2L1144.7 550.3L1145.5 553.2L1145.8 554.8L1146.3 554.6L1147.1 553.0L1147.9 555.2L1148.7 552.0L1149.0 552.7" fill="none" stroke="#3d67ae" stroke-width="2.5" stroke-linejoin="round" stroke-linecap="round"/>
<path d="M1151.0 537.0L1151.8 537.6L1152.6 537.1L1153.1 538.1L1153.4 548.7L1154.2 568.8L1155.0 588.7L1155.2 593.3L1155.8 594.5L1156.6 594.0L1157.4 597.7L1158.3 600.7L1158.3 599.6L1159.1 581.0L1159.9 559.1L1160.4 547.5L1160.7 548.8L1161.5 553.4L1162.3 557.8L1163.1 560.8L1163.5 562.0L1163.9 564.1L1164.7 570.0L1165.5 576.3L1166.3 581.7L1166.7 585.0L1167.1 574.0L1167.7 564.2L1167.9 564.7L1168.7 567.5L1169.5 570.8L1170.3 573.3L1170.8 576.7L1171.2 578.7L1172.0 575.9L1172.8 577.9L1173.6 575.2L1174.4 576.5L1175.2 574.3L1176.0 576.8L1176.0 576.7L1176.8 549.1L1177.1 538.1L1177.6 539.3L1178.4 538.9L1179.2 538.2L1180.0 539.4L1180.8 539.1L1181.2 540.2L1181.6 546.9L1182.4 557.6L1183.2 567.7L1184.0 578.9L1184.4 582.9L1184.9 582.4L1185.7 580.0L1186.5 580.3L1187.3 581.1L1187.5 580.8L1188.1 578.2L1188.9 572.7L1189.7 567.6L1190.5 562.6L1190.6 562.0L1191.3 564.5L1192.1 562.2L1192.7 564.2L1192.9 567.7L1193.7 574.0L1194.5 582.1L1195.3 589.1L1195.8 594.4" fill="none" stroke="#3d67ae" stroke-width="2.5" stroke-linejoin="round" stroke-linecap="round"/>
<path d="M124.6 883.5L125.4 880.8L126.2 878.1L127.0 875.5L127.8 873.3L128.6 872.6L129.4 870.8L130.2 867.3L131.0 864.7L131.9 862.5L132.7 863.8L133.5 863.9L134.3 864.3L135.1 864.4L135.9 864.8L136.7 865.6L137.5 864.6L138.3 863.8L139.1 865.8L139.9 867.7L140.7 868.5L141.5 867.3L142.3 867.5L143.1 867.2L143.9 866.3L144.8 865.9L145.6 866.5L146.4 865.4L147.2 864.7L148.0 864.2L148.8 861.2L149.6 860.1L150.4 858.2L151.2 856.8L152.0 853.5L152.8 848.9L153.6 847.4L154.4 845.8L155.2 845.2L156.0 844.6L156.8 845.2L157.6 843.7L158.5 841.9L159.3 839.0L160.1 836.3L160.9 834.6L161.7 830.5L162.5 831.0L163.3 826.5L164.1 822.1L164.9 806.9L165.7 801.8L166.5 803.1L167.3 804.1L168.1 801.5L168.9 797.8L169.7 793.4L170.5 791.9L171.3 792.3L172.2 791.0L173.0 789.3L173.8 792.4L174.6 788.3L175.4 786.9L176.2 785.5L177.0 785.3L177.8 784.2L178.6 786.3L179.4 787.9L180.2 786.9L181.0 784.5L181.8 786.5L182.6 786.5L183.4 785.6L184.2 785.7L185.1 789.3L185.9 787.8L186.7 785.3L187.5 785.0L188.3 785.1L189.1 784.3L189.9 785.0L190.7 792.6L191.5 789.7L192.3 783.9L193.1 782.3L193.9 784.6L194.7 784.5L195.5 784.6L196.3 787.9L197.1 785.1L197.9 782.1L198.8 782.5L199.6 783.3L200.4 782.9L201.2 783.1L202.0 788.4L202.8 786.1L203.6 781.6L204.4 780.8L205.2 779.4L206.0 780.7L206.8 780.7L207.6 789.0L208.4 786.6L209.2 777.9L210.0 778.5L210.8 780.6L211.6 782.4L212.5 780.4L213.3 788.4L214.1 783.3L214.9 780.5L215.7 781.1L216.5 782.8L217.3 783.5L218.1 783.9L218.9 792.5L219.7 790.9L220.5 782.9L221.3 784.8L222.1 784.4L222.9 785.1L223.7 786.8L224.5 795.8L225.3 794.3L226.2 786.7L227.0 788.2L227.8 789.4L228.6 788.8L229.4 788.7L230.2 795.4L231.0 793.1L231.8 789.4L232.6 789.5L233.4 790.5L234.2 790.8L235.0 789.6L235.8 801.1L236.6 797.0L237.4 790.9L238.2 791.5L239.1 790.6L239.9 793.3L240.7 792.9L241.5 801.4L242.3 797.6L243.1 791.9L243.9 792.7L244.7 792.8L245.5 794.3L246.3 793.1L247.1 804.0L247.9 799.6L248.7 793.7L249.5 793.5L250.3 794.7L251.1 797.3L251.9 796.5L252.8 803.3L253.6 801.0L254.4 795.6L255.2 797.5L256.0 796.3L256.8 798.4L257.6 797.5L258.4 805.5L259.2 800.9L260.0 795.2L260.8 795.4L261.6 796.5L262.4 797.5L263.2 796.2L264.0 811.8L264.8 806.8L265.6 794.4L266.5 794.1L267.3 794.7L268.1 797.3L268.9 794.5L269.7 810.2L270.5 805.1L271.3 794.1L272.1 796.3L272.9 793.8L273.7 795.6L274.5 794.5L275.3 805.1L276.1 799.1L276.9 794.0L277.7 794.0L278.5 794.2L279.4 792.7L280.2 796.9L281.0 802.1L281.8 799.5L282.6 792.6L283.4 795.6L284.2 795.5L285.0 797.8L285.8 798.2L286.6 806.2L287.4 804.6L288.2 799.6L289.0 800.2L289.8 801.6L290.6 800.3L291.4 802.0L292.2 809.5L293.1 806.2L293.9 801.8L294.7 803.6L295.5 803.6L296.3 803.5L297.1 803.2L297.9 810.2L298.7 810.0L299.5 803.3L300.3 804.8L301.1 805.3L301.9 806.2L302.7 806.1L303.5 815.4L304.3 812.3L305.1 803.7L306.0 806.5L306.8 803.9L307.6 805.5L308.4 805.9L309.2 815.0L310.0 809.0L310.8 804.6L311.6 805.4L312.4 805.8L313.2 805.0L314.0 803.9L314.8 816.5L315.6 807.9L316.4 804.1L317.2 803.2L318.0 803.8L318.8 805.9L319.7 804.7L320.5 812.6L321.3 812.2L322.1 804.0L322.9 807.0L323.7 804.7L324.5 806.6L325.3 805.7L326.1 817.8L326.9 811.1L327.7 806.1L328.5 806.0L329.3 805.2L330.1 806.4L330.9 804.5L331.7 815.4L332.5 809.7L333.4 803.3L334.2 806.1L335.0 803.8L335.8 805.6L336.6 804.8L337.4 813.7L338.2 808.0L339.0 804.0L339.8 805.2L340.6 803.4L341.4 806.7L342.2 805.2L343.0 816.3L343.8 810.4L344.6 801.3L345.4 802.5L346.2 802.6L347.1 803.4L347.9 803.9L348.7 815.1L349.5 813.2L350.3 803.1L351.1 803.9L351.9 801.1L352.7 802.0L353.5 802.5L354.3 813.3L355.1 808.3L355.9 801.4L356.7 802.1L357.5 802.9L358.3 806.4L359.1 803.2L360.0 812.5L360.8 811.0L361.6 803.3L362.4 803.6L363.2 805.8L364.0 806.0L364.8 802.8L365.6 812.0L366.4 808.1L367.2 803.5L368.0 804.3L368.8 802.1L369.6 804.9L370.4 802.5L371.2 815.2L372.0 810.6L372.8 804.8L373.7 802.8L374.5 803.1L375.3 804.1L376.1 802.5L376.9 809.2L377.7 807.3L378.5 803.1L379.3 804.9L380.1 801.9L380.9 803.3L381.7 803.0L382.5 813.2L383.3 808.4L384.1 801.7L384.9 803.7L385.7 801.4L386.5 802.3L387.4 802.7L388.2 809.7L389.0 806.3L389.8 801.1L390.6 802.1L391.4 801.5L392.2 803.0L393.0 801.9L393.8 810.2L394.6 806.1L395.4 802.5L396.2 803.6L397.0 804.3L397.8 805.7L398.6 805.0L399.4 808.9L400.3 808.4L401.1 806.5L401.9 807.7L402.7 807.3L403.5 807.3L404.3 808.4L405.1 812.6L405.9 812.1L406.7 808.2L407.5 807.6L408.3 807.2L409.1 808.5L409.9 808.8L410.7 815.2L411.5 811.8L412.3 807.7L413.1 807.5L414.0 807.6L414.8 807.5L415.6 807.3L416.4 814.5L417.2 812.8L418.0 807.1L418.8 806.4L419.6 807.5L420.4 807.9L421.2 808.7L422.0 814.8L422.8 813.2L423.6 807.7L424.4 808.7L425.2 807.8L426.0 810.3L426.9 808.8L427.7 814.8L428.5 812.4L429.3 808.1L430.1 809.6L430.9 809.5L431.7 810.3L432.5 811.3L433.3 815.8L434.1 813.8L434.9 809.4L435.7 811.0L436.5 809.0L437.3 810.8L438.1 809.5L438.9 821.4L439.7 815.1L440.6 809.5L441.4 808.1L442.2 807.3L443.0 810.1L443.8 809.4L444.6 817.3L445.4 816.4L446.2 808.3L447.0 809.2L447.8 808.8L448.6 810.1L449.4 810.0L450.2 817.7L451.0 814.5L451.8 808.4L452.6 808.9L453.4 811.0L454.3 810.9L455.1 808.2L455.9 817.1L456.7 813.3L457.5 809.2L458.3 808.3L459.1 810.0L459.9 811.3L460.7 811.2L461.5 819.6L462.3 813.3L463.1 810.4L463.9 810.3L464.7 808.5L465.5 810.3L466.3 808.5L467.1 816.0L468.0 813.5L468.8 809.1L469.6 811.5L470.4 812.9L471.2 814.5L472.0 814.9L472.8 819.3L473.6 818.3L474.4 815.6L475.2 817.9L476.0 816.6L476.8 817.0L477.6 815.2L478.4 820.3L479.2 818.3L480.0 814.1L480.9 814.3L481.7 814.8L482.5 815.4L483.3 814.2L484.1 820.8L484.9 821.1L485.7 813.5L486.5 813.8L487.3 815.6L488.1 814.6L488.9 816.4L489.7 823.6L490.5 818.5L491.3 813.6L492.1 812.0L492.9 815.2L493.7 812.3L494.6 814.4L495.4 821.0L496.2 819.1L497.0 812.4L497.8 815.4L498.6 813.3L499.4 814.3L500.2 813.8L501.0 824.7L501.8 821.0L502.6 816.2L503.4 817.8L504.2 814.8L505.0 819.1L505.8 816.9L506.6 826.8L507.5 823.0L508.3 818.6L509.1 817.8L509.9 818.1L510.7 819.2L511.5 819.0L512.3 826.6L513.1 823.4L513.9 821.3L514.7 821.9L515.5 822.2L516.3 821.6L517.1 821.3L517.9 828.6L518.7 825.6L519.5 820.8L520.3 820.4L521.2 820.2L522.0 823.2L522.8 822.6L523.6 828.9L524.4 826.3L525.2 823.2L526.0 823.6L526.8 822.5L527.6 824.6L528.4 823.6L529.2 830.9L530.0 828.0L530.8 825.6L531.6 825.8L532.4 824.7L533.2 825.7L534.0 824.8L534.9 832.4L535.7 829.0L536.5 824.7L537.3 825.9L538.1 826.7L538.9 827.0L539.7 827.0L540.5 832.4L541.3 830.1L542.1 827.2L542.9 827.7L543.7 828.1L544.5 828.1L545.3 829.0L546.1 833.3L546.9 830.7L547.8 828.3L548.6 828.0L549.4 826.4L550.2 827.3L551.0 826.6L551.8 831.8L552.6 829.6L553.4 825.5L554.2 825.9L555.0 826.0L555.8 826.3L556.6 824.2L557.4 828.5L558.2 826.2L559.0 822.6L559.8 823.5L560.6 823.7L561.5 822.9L562.3 821.2L563.1 828.4L563.9 825.0L564.7 819.6L565.5 818.7L566.3 818.5L567.1 819.6L567.9 817.8L568.7 827.1L569.5 822.6L570.3 817.5L571.1 817.6L571.9 816.9L572.7 819.1L573.5 819.5L574.3 824.4L575.2 823.1L576.0 822.4L576.8 823.1L577.6 823.6L578.4 825.0L579.2 824.7L580.0 829.3L580.8 827.3L581.6 824.7L582.4 826.8L583.2 826.1L584.0 826.2L584.8 827.6L585.6 829.6L586.4 829.3L587.2 824.5L588.1 826.9L588.9 836.5" fill="none" stroke="#3d67ae" stroke-width="2.5" stroke-linejoin="round" stroke-linecap="round"/>
<path d="M729.6 897.9L730.4 879.9L731.2 871.0L732.0 876.7L732.8 881.2L733.6 878.6L734.4 870.3L735.2 863.7L736.0 861.2L736.9 855.8L737.7 859.5L738.5 864.2L739.3 869.6L740.1 866.5L740.9 864.9L741.7 862.9L742.5 864.5L743.3 866.8L744.1 870.9L744.9 867.9L745.7 870.0L746.5 865.4L747.3 868.2L748.1 864.8L748.9 865.9L749.8 867.8L750.6 864.1L751.4 867.6L752.2 872.0L753.0 870.9L753.8 866.9L754.6 862.8L755.4 859.9L756.2 855.1L757.0 847.0L757.8 841.9L758.6 834.0L759.4 835.7L760.2 832.7L761.0 837.4L761.8 838.0L762.6 832.9L763.5 834.2L764.3 830.8L765.1 827.2L765.9 822.8L766.7 824.2L767.5 819.5L768.3 820.1L769.1 811.8L769.9 800.1L770.7 793.6L771.5 796.0L772.3 797.0L773.1 795.2L773.9 795.6L774.7 791.5L775.5 789.7L776.3 787.1L777.2 786.1L778.0 786.6L778.8 788.6L779.6 788.5L780.4 787.1L781.2 788.7L782.0 788.7L782.8 788.3L783.6 784.8L784.4 788.3L785.2 789.6L786.0 788.2L786.8 788.1L787.6 788.1L788.4 789.2L789.2 788.4L790.1 790.5L790.9 789.2L791.7 790.1L792.5 791.0L793.3 792.3L794.1 790.7L794.9 792.1L795.7 791.0L796.5 790.1L797.3 792.1L798.1 792.6L798.9 792.4L799.7 792.0L800.5 792.0L801.3 790.8L802.1 792.7L802.9 794.8L803.8 792.1L804.6 793.0L805.4 794.9L806.2 793.0L807.0 793.7L807.8 791.8L808.6 795.0L809.4 795.3L810.2 793.5L811.0 795.5L811.8 795.2L812.6 790.4L813.4 797.0L814.2 792.2L815.0 795.8L815.8 795.2L816.6 794.6L817.5 794.7L818.3 794.8L819.1 794.8L819.9 795.1L820.7 795.0L821.5 796.2L822.3 796.6L823.1 796.4L823.9 797.5L824.7 796.1L825.5 798.3L826.3 801.2L827.1 804.4L827.9 801.4L828.7 805.8L829.5 808.2L830.4 804.4L831.2 803.4L832.0 802.7L832.8 805.9L833.6 806.8L834.4 808.3L835.2 811.9L836.0 812.2L836.8 806.9L837.6 806.4L838.4 803.9L839.2 804.1L840.0 805.2L840.8 810.0L841.6 807.7L842.4 804.5L843.2 806.6L844.1 806.0L844.9 805.8L845.7 806.1L846.5 809.2L847.3 808.7L848.1 805.3L848.9 806.3L849.7 805.3L850.5 804.3L851.3 805.3L852.1 807.2L852.9 806.1L853.7 801.5L854.5 801.8L855.3 802.6L856.1 801.9L856.9 806.5L857.8 807.9L858.6 808.2L859.4 804.2L860.2 805.2L861.0 803.4L861.8 803.0L862.6 805.3L863.4 811.3L864.2 806.5L865.0 805.0L865.8 804.5L866.6 802.1L867.4 804.9L868.2 805.1L869.0 806.9L869.8 808.4L870.7 803.7L871.5 802.1L872.3 802.9L873.1 802.7L873.9 803.2L874.7 805.2L875.5 803.2L876.3 800.5L877.1 800.3L877.9 802.2L878.7 798.9L879.5 800.7L880.3 802.6L881.1 804.1L881.9 801.8L882.7 800.4L883.5 801.7L884.4 801.3L885.2 800.2L886.0 803.2L886.8 803.8L887.6 801.5L888.4 798.9L889.2 801.2L890.0 802.0L890.8 800.7L891.6 805.4L892.4 804.2L893.2 803.7L894.0 800.3L894.8 802.2L895.6 803.0L896.4 801.1L897.2 804.5L898.1 802.3L898.9 801.8L899.7 799.9L900.5 802.0L901.3 803.3L902.1 803.0L902.9 802.4L903.7 802.6L904.5 799.7L905.3 802.5L906.1 801.0L906.9 802.1L907.7 800.7L908.5 801.3L909.3 802.5L910.1 799.3L911.0 803.3L911.8 806.9L912.6 804.5L913.4 802.7L914.2 806.6L915.0 809.2L915.8 804.4L916.6 804.0L917.4 805.2L918.2 807.2L919.0 805.0L919.8 806.7L920.6 809.6L921.4 804.9L922.2 806.0L923.0 802.6L923.8 806.6L924.7 804.3L925.5 807.9L926.3 805.9L927.1 802.7L927.9 802.9L928.7 802.5L929.5 805.7L930.3 802.6L931.1 805.4L931.9 803.2L932.7 798.1L933.5 799.2L934.3 802.8L935.1 800.5L935.9 800.7L936.7 804.2L937.5 802.9L938.4 804.4L939.2 800.5L940.0 801.7L940.8 802.8L941.6 804.5L942.4 805.3L943.2 805.8L944.0 802.9L944.8 803.1L945.6 802.9L946.4 802.2L947.2 804.3L948.0 804.0L948.8 805.2L949.6 799.4L950.4 799.2L951.2 805.4L952.1 798.7L952.9 802.9L953.7 802.5L954.5 802.9L955.3 803.5L956.1 800.8L956.9 802.7L957.7 801.3L958.5 803.7L959.3 802.5L960.1 806.5L960.9 802.9L961.7 801.8L962.5 803.1L963.3 802.4L964.1 804.7L965.0 802.4L965.8 802.9L966.6 802.6L967.4 800.5L968.2 801.4L969.0 801.5L969.8 799.8L970.6 803.2L971.4 799.5L972.2 799.0L973.0 800.9L973.8 799.6L974.6 799.7L975.4 800.2L976.2 803.3L977.0 802.0L977.8 801.1L978.7 801.8L979.5 803.6L980.3 800.4L981.1 803.6L981.9 802.8L982.7 801.7L983.5 802.2L984.3 800.9L985.1 803.8L985.9 799.8L986.7 802.6L987.5 803.8L988.3 803.0L989.1 803.7L989.9 799.6L990.7 802.0L991.5 801.5L992.4 803.6L993.2 801.1L994.0 800.9L994.8 800.8L995.6 801.3L996.4 800.0L997.2 799.9L998.0 800.6L998.8 802.4L999.6 802.3L1000.4 799.2L1001.2 798.7L1002.0 800.8L1002.8 798.5L1003.6 802.4L1004.4 800.4L1005.3 801.8L1006.1 798.8L1006.9 801.4L1007.7 800.4L1008.5 800.8L1009.3 802.8L1010.1 804.6L1010.9 805.3L1011.7 802.9L1012.5 804.5L1013.3 803.7L1014.1 803.1L1014.9 805.8L1015.7 805.2L1016.5 804.9L1017.3 803.5L1018.1 805.2L1019.0 802.9L1019.8 802.3L1020.6 804.4L1021.4 805.5L1022.2 804.7L1023.0 803.9L1023.8 805.4L1024.6 803.0L1025.4 802.3L1026.2 801.6L1027.0 803.7L1027.8 802.7L1028.6 801.3L1029.4 803.1L1030.2 804.9L1031.0 803.8L1031.8 805.0L1032.7 806.3L1033.5 806.5L1034.3 805.0L1035.1 804.2L1035.9 807.2L1036.7 805.7L1037.5 807.1L1038.3 807.4L1039.1 810.9L1039.9 808.8L1040.7 806.0L1041.5 806.2L1042.3 806.1L1043.1 808.3L1043.9 809.8L1044.7 806.7L1045.6 804.9L1046.4 805.2L1047.2 806.9L1048.0 805.8L1048.8 805.5L1049.6 806.0L1050.4 805.1L1051.2 806.0L1052.0 806.1L1052.8 807.0L1053.6 804.8L1054.4 807.8L1055.2 807.4L1056.0 808.0L1056.8 809.2L1057.6 808.2L1058.4 806.4L1059.3 809.9L1060.1 806.0L1060.9 808.8L1061.7 806.3L1062.5 807.6L1063.3 808.4L1064.1 809.6L1064.9 809.7L1065.7 808.7L1066.5 811.5L1067.3 807.2L1068.1 810.2L1068.9 808.0L1069.7 809.3L1070.5 808.6L1071.3 809.1L1072.2 811.5L1073.0 809.6L1073.8 809.7L1074.6 809.7L1075.4 810.2L1076.2 811.6L1077.0 812.4L1077.8 810.2L1078.6 813.6L1079.4 809.1L1080.2 810.7L1081.0 812.3L1081.8 808.3L1082.6 813.0L1083.4 813.3L1084.2 812.9L1085.0 811.6L1085.9 810.6L1086.7 810.4L1087.5 811.1L1088.3 810.9L1089.1 814.7L1089.9 811.4L1090.7 812.3L1091.5 809.3L1092.3 812.2L1093.1 813.0L1093.9 812.7L1094.7 812.0L1095.5 814.3L1096.3 806.5L1097.1 811.3L1097.9 809.0L1098.7 809.9L1099.6 810.5L1100.4 812.7L1101.2 812.5L1102.0 812.1L1102.8 813.8L1103.6 813.2L1104.4 812.3L1105.2 812.7L1106.0 815.0L1106.8 818.1L1107.6 811.0L1108.4 816.2L1109.2 814.1L1110.0 814.1L1110.8 818.7L1111.6 817.2L1112.5 815.8L1113.3 815.2L1114.1 815.9L1114.9 815.8L1115.7 815.2L1116.5 815.3L1117.3 817.7L1118.1 818.4L1118.9 815.7L1119.7 814.2L1120.5 814.4L1121.3 814.0L1122.1 815.7L1122.9 822.0L1123.7 818.8L1124.5 818.1L1125.3 814.4L1126.2 817.1L1127.0 818.8L1127.8 819.7L1128.6 825.2L1129.4 822.6L1130.2 819.0L1131.0 820.0L1131.8 821.1L1132.6 819.8L1133.4 821.4L1134.2 822.9L1135.0 824.4L1135.8 822.1L1136.6 819.0L1137.4 821.5L1138.2 819.4L1139.0 823.1L1139.9 828.1L1140.7 823.3L1141.5 821.2L1142.3 821.0L1143.1 821.2L1143.9 822.2L1144.7 822.4L1145.5 826.3L1146.3 828.7L1147.1 822.1L1147.9 824.4L1148.7 823.4L1149.5 823.0L1150.3 825.9L1151.1 830.1L1151.9 827.0L1152.8 823.8L1153.6 822.5L1154.4 824.1L1155.2 820.7L1156.0 822.6L1156.8 824.3L1157.6 822.3L1158.4 820.7L1159.2 818.2L1160.0 817.5L1160.8 821.2L1161.6 817.9L1162.4 819.9L1163.2 819.4L1164.0 818.2L1164.8 818.2L1165.6 818.2L1166.5 816.1L1167.3 817.3L1168.1 818.7L1168.9 815.9L1169.7 816.2L1170.5 815.6L1171.3 814.5L1172.1 813.5L1172.9 816.0L1173.7 817.0L1174.5 816.3L1175.3 816.5L1176.1 814.3L1176.9 814.9L1177.7 813.3L1178.5 815.7L1179.3 818.6L1180.2 817.3L1181.0 814.3L1181.8 816.5L1182.6 817.8L1183.4 813.4L1184.2 816.3L1185.0 815.8L1185.8 819.7L1186.6 813.3L1187.4 816.7L1188.2 816.5L1189.0 818.1L1189.8 817.2L1190.6 819.4L1191.4 817.5L1192.2 817.3L1193.1 818.7L1193.9 820.4L1194.7 817.1L1195.5 821.9" fill="none" stroke="#3d67ae" stroke-width="2.5" stroke-linejoin="round" stroke-linecap="round"/>
<path d="M124.6 1141.9L125.4 1141.8L126.2 1142.0L127.0 1142.0L127.8 1141.8L128.6 1142.3L129.4 1142.3L130.2 1141.6L131.0 1141.7L131.9 1141.2L132.7 1141.8L133.5 1141.7L134.3 1142.5L135.1 1142.3L135.9 1141.1L136.7 1141.1L137.5 1141.0L138.3 1140.9L139.1 1141.2L139.9 1141.6L140.7 1142.3L141.5 1139.5L142.3 1141.5L143.1 1141.6L143.9 1142.2L144.8 1141.9L145.6 1142.4L146.4 1142.1L147.2 1142.0L148.0 1141.6L148.8 1141.8L149.6 1141.8L150.4 1141.7L151.2 1142.2L152.0 1142.2L152.8 1141.9L153.6 1141.8L154.4 1142.0L155.2 1141.7L156.0 1142.1L156.8 1142.3L157.6 1142.4L158.5 1142.1L159.3 1141.4L160.1 1141.8L160.9 1141.7L161.7 1141.8L162.5 1141.8L163.3 1141.9L164.1 1140.9L164.9 1140.4L165.7 1139.9L166.5 1139.5L167.3 1139.6L168.1 1139.9L168.9 1139.0L169.7 1138.2L170.5 1137.2L171.3 1136.5L172.2 1135.3L173.0 1135.6L173.8 1135.7L174.6 1135.5L175.4 1133.2L176.2 1131.2L177.0 1131.9L177.8 1132.4L178.6 1131.4L179.4 1131.7L180.2 1133.1L181.0 1131.6L181.8 1129.9L182.6 1130.2L183.4 1130.0L184.2 1131.1L185.1 1132.2L185.9 1132.9L186.7 1130.4L187.5 1131.2L188.3 1130.2L189.1 1130.8L189.9 1130.0L190.7 1132.0L191.5 1131.6L192.3 1130.5L193.1 1130.1L193.9 1130.3L194.7 1130.9L195.5 1130.3L196.3 1130.8L197.1 1132.1L197.9 1130.5L198.8 1129.7L199.6 1131.1L200.4 1130.2L201.2 1131.0L202.0 1130.7L202.8 1131.7L203.6 1131.9L204.4 1130.2L205.2 1130.2L206.0 1129.7L206.8 1130.2L207.6 1131.2L208.4 1131.0L209.2 1129.6L210.0 1127.9L210.8 1128.6L211.6 1128.9L212.5 1129.5L213.3 1130.6L214.1 1129.7L214.9 1128.2L215.7 1127.8L216.5 1128.1L217.3 1127.2L218.1 1127.7L218.9 1128.4L219.7 1128.7L220.5 1128.4L221.3 1126.1L222.1 1126.4L222.9 1126.7L223.7 1126.5L224.5 1127.4L225.3 1127.2L226.2 1126.3L227.0 1124.3L227.8 1123.4L228.6 1125.1L229.4 1123.7L230.2 1125.6L231.0 1126.9L231.8 1124.1L232.6 1121.5L233.4 1122.7L234.2 1123.3L235.0 1123.8L235.8 1125.3L236.6 1124.8L237.4 1121.2L238.2 1121.3L239.1 1120.6L239.9 1119.5L240.7 1119.5L241.5 1120.2L242.3 1121.3L243.1 1116.6L243.9 1115.5L244.7 1114.9L245.5 1114.3L246.3 1115.7L247.1 1119.0L247.9 1119.2L248.7 1114.2L249.5 1112.5L250.3 1111.6L251.1 1112.1L251.9 1112.7L252.8 1116.6L253.6 1116.8L254.4 1110.5L255.2 1108.4L256.0 1109.2L256.8 1110.3L257.6 1110.3L258.4 1114.2L259.2 1115.2L260.0 1110.0L260.8 1107.2L261.6 1106.8L262.4 1106.3L263.2 1109.0L264.0 1113.8L264.8 1114.2L265.6 1105.2L266.5 1103.8L267.3 1103.4L268.1 1103.1L268.9 1103.7L269.7 1110.0L270.5 1108.5L271.3 1102.2L272.1 1100.1L272.9 1101.1L273.7 1101.9L274.5 1102.7L275.3 1109.7L276.1 1111.2L276.9 1104.3L277.7 1100.3L278.5 1099.3L279.4 1101.3L280.2 1103.9L281.0 1110.0L281.8 1109.9L282.6 1102.7L283.4 1101.1L284.2 1098.3L285.0 1098.8L285.8 1102.4L286.6 1110.4L287.4 1113.5L288.2 1102.1L289.0 1099.7L289.8 1100.5L290.6 1100.4L291.4 1102.5L292.2 1108.6L293.1 1111.5L293.9 1102.5L294.7 1100.1L295.5 1100.1L296.3 1100.8L297.1 1103.7L297.9 1108.6L298.7 1108.9L299.5 1102.1L300.3 1099.9L301.1 1100.0L301.9 1099.6L302.7 1100.2L303.5 1104.8L304.3 1106.4L305.1 1098.6L306.0 1097.8L306.8 1098.6L307.6 1097.6L308.4 1099.2L309.2 1103.9L310.0 1106.7L310.8 1097.4L311.6 1093.5L312.4 1093.5L313.2 1093.0L314.0 1096.5L314.8 1102.4L315.6 1105.7L316.4 1094.0L317.2 1090.5L318.0 1092.2L318.8 1091.5L319.7 1093.7L320.5 1101.8L321.3 1104.2L322.1 1093.0L322.9 1090.3L323.7 1092.0L324.5 1092.0L325.3 1095.4L326.1 1100.2L326.9 1101.6L327.7 1092.6L328.5 1092.7L329.3 1091.0L330.1 1091.5L330.9 1094.8L331.7 1098.1L332.5 1097.2L333.4 1091.2L334.2 1085.4L335.0 1085.2L335.8 1085.3L336.6 1085.5L337.4 1086.9L338.2 1088.6L339.0 1078.6L339.8 1076.1L340.6 1075.3L341.4 1073.0L342.2 1073.8L343.0 1077.1L343.8 1076.2L344.6 1068.7L345.4 1065.3L346.2 1065.4L347.1 1064.1L347.9 1064.4L348.7 1067.8L349.5 1071.3L350.3 1061.4L351.1 1056.9L351.9 1054.0L352.7 1052.3L353.5 1055.8L354.3 1063.3L355.1 1064.3L355.9 1051.7L356.7 1047.4L357.5 1050.1L358.3 1050.1L359.1 1049.3L360.0 1059.6L360.8 1064.0L361.6 1051.2L362.4 1046.5L363.2 1045.0L364.0 1048.0L364.8 1053.2L365.6 1068.0L366.4 1065.4L367.2 1052.7L368.0 1043.5L368.8 1042.6L369.6 1050.0L370.4 1047.5L371.2 1058.7L372.0 1066.7L372.8 1049.7L373.7 1041.8L374.5 1039.5L375.3 1040.6L376.1 1048.9L376.9 1058.5L377.7 1064.4L378.5 1049.8L379.3 1040.5L380.1 1042.7L380.9 1044.0L381.7 1043.5L382.5 1063.8L383.3 1063.0L384.1 1045.6L384.9 1039.2L385.7 1034.7L386.5 1042.5L387.4 1044.6L388.2 1062.3L389.0 1062.0L389.8 1042.3L390.6 1036.5L391.4 1032.4L392.2 1036.3L393.0 1040.8L393.8 1054.0L394.6 1066.1L395.4 1039.2L396.2 1032.7L397.0 1037.0L397.8 1032.2L398.6 1047.3L399.4 1049.6L400.3 1049.8L401.1 1033.0L401.9 1020.9L402.7 1015.8L403.5 1011.7L404.3 1028.6L405.1 1044.9L405.9 1049.4L406.7 1029.7L407.5 1021.8L408.3 1029.4L409.1 1030.4L409.9 1038.5L410.7 1050.0L411.5 1057.5L412.3 1042.9L413.1 1044.4L414.0 1041.0L414.8 1050.0L415.6 1052.5L416.4 1066.3L417.2 1068.3L418.0 1054.4L418.8 1047.9L419.6 1050.8L420.4 1058.2L421.2 1062.4L422.0 1079.8L422.8 1084.0L423.6 1067.3L424.4 1060.3L425.2 1063.3L426.0 1071.7L426.9 1076.2L427.7 1086.8L428.5 1091.7L429.3 1078.0L430.1 1073.1L430.9 1078.0L431.7 1079.8L432.5 1084.6L433.3 1093.0L434.1 1096.5L434.9 1085.3L435.7 1080.5L436.5 1081.6L437.3 1081.7L438.1 1082.3L438.9 1094.7L439.7 1098.0L440.6 1082.7L441.4 1075.3L442.2 1074.8L443.0 1074.8L443.8 1085.2L444.6 1091.1L445.4 1095.8L446.2 1080.1L447.0 1075.4L447.8 1072.6L448.6 1077.5L449.4 1080.6L450.2 1091.4L451.0 1090.2L451.8 1076.5L452.6 1070.5L453.4 1074.8L454.3 1072.9L455.1 1071.9L455.9 1082.4L456.7 1084.2L457.5 1068.6L458.3 1062.7L459.1 1061.9L459.9 1060.0L460.7 1062.0L461.5 1073.7L462.3 1072.4L463.1 1059.7L463.9 1048.5L464.7 1048.6L465.5 1049.6L466.3 1050.7L467.1 1072.1L468.0 1073.0L468.8 1048.4L469.6 1038.5L470.4 1041.3L471.2 1038.6L472.0 1038.6L472.8 1055.4L473.6 1055.8L474.4 1029.3L475.2 1021.1L476.0 1017.5L476.8 1023.0L477.6 1025.6L478.4 1041.7L479.2 1045.4L480.0 1025.1L480.9 1018.2L481.7 1016.2L482.5 1020.1L483.3 1025.1L484.1 1031.9L484.9 1039.7L485.7 1016.7L486.5 1010.5L487.3 1012.9L488.1 1013.6L488.9 1017.2L489.7 1038.1L490.5 1041.5L491.3 1018.2L492.1 1017.7L492.9 1010.4L493.7 1012.7L494.6 1020.1L495.4 1029.5L496.2 1039.0L497.0 1019.4L497.8 1014.7L498.6 1019.9L499.4 1022.9L500.2 1026.3L501.0 1043.4L501.8 1051.1L502.6 1038.1L503.4 1035.1L504.2 1038.7L505.0 1042.0L505.8 1045.2L506.6 1058.0L507.5 1065.7L508.3 1052.9L509.1 1049.0L509.9 1051.3L510.7 1051.3L511.5 1059.2L512.3 1072.5L513.1 1077.7L513.9 1058.8L514.7 1058.2L515.5 1062.8L516.3 1067.1L517.1 1068.9L517.9 1082.9L518.7 1085.9L519.5 1077.5L520.3 1071.4L521.2 1072.6L522.0 1073.1L522.8 1081.8L523.6 1091.7L524.4 1096.8L525.2 1080.6L526.0 1079.5L526.8 1078.2L527.6 1077.6L528.4 1083.1L529.2 1093.0L530.0 1093.0L530.8 1080.6L531.6 1077.0L532.4 1079.6L533.2 1080.3L534.0 1082.4L534.9 1093.5L535.7 1095.4L536.5 1082.7L537.3 1077.9L538.1 1077.2L538.9 1082.5L539.7 1082.0L540.5 1086.8L541.3 1085.9L542.1 1080.1L542.9 1075.2L543.7 1076.9L544.5 1074.2L545.3 1073.9L546.1 1077.7L546.9 1081.9L547.8 1068.6L548.6 1062.9L549.4 1063.7L550.2 1061.0L551.0 1062.7L551.8 1071.4L552.6 1073.0L553.4 1057.4L554.2 1054.0L555.0 1050.9L555.8 1051.4L556.6 1052.6L557.4 1062.0L558.2 1059.5L559.0 1047.5L559.8 1041.3L560.6 1042.4L561.5 1043.6L562.3 1046.9L563.1 1055.6L563.9 1058.5L564.7 1042.3L565.5 1033.3L566.3 1033.5L567.1 1033.3L567.9 1035.8L568.7 1049.4L569.5 1047.6L570.3 1028.6L571.1 1020.4L571.9 1022.8L572.7 1020.3L573.5 1028.7L574.3 1039.5L575.2 1043.6L576.0 1025.0L576.8 1015.3L577.6 1022.3L578.4 1016.3L579.2 1017.7L580.0 1036.0L580.8 1044.8L581.6 1019.6L582.4 1017.4L583.2 1015.9L584.0 1021.1L584.8 1021.7L585.6 1043.4L586.4 1046.7L587.2 1024.6L588.1 1023.7L588.9 1031.6L589.7 1034.0L590.5 1040.1" fill="none" stroke="#3d67ae" stroke-width="2.5" stroke-linejoin="round" stroke-linecap="round"/>
<path d="M729.6 1141.7L730.4 1141.7L731.2 1141.5L732.0 1142.0L732.8 1141.9L733.6 1142.1L734.4 1142.1L735.2 1141.9L736.0 1141.4L736.9 1141.7L737.7 1141.6L738.5 1141.6L739.3 1142.0L740.1 1142.3L740.9 1141.5L741.7 1141.1L742.5 1141.2L743.3 1141.2L744.1 1141.3L744.9 1142.1L745.7 1142.2L746.5 1140.0L747.3 1141.2L748.1 1141.2L748.9 1141.2L749.8 1141.5L750.6 1141.5L751.4 1142.1L752.2 1141.5L753.0 1141.1L753.8 1141.3L754.6 1141.5L755.4 1141.4L756.2 1141.7L757.0 1141.9L757.8 1140.9L758.6 1141.6L759.4 1141.3L760.2 1141.8L761.0 1141.4L761.8 1141.7L762.6 1141.8L763.5 1141.7L764.3 1141.6L765.1 1141.3L765.9 1141.4L766.7 1140.4L767.5 1139.9L768.3 1139.8L769.1 1138.4L769.9 1138.4L770.7 1138.0L771.5 1136.2L772.3 1134.5L773.1 1133.5L773.9 1131.8L774.7 1130.9L775.5 1129.1L776.3 1128.2L777.2 1123.9L778.0 1123.4L778.8 1120.1L779.6 1119.5L780.4 1118.4L781.2 1113.9L782.0 1113.3L782.8 1110.4L783.6 1104.6L784.4 1102.8L785.2 1101.5L786.0 1095.2L786.8 1091.3L787.6 1088.7L788.4 1085.2L789.2 1086.3L790.1 1095.2L790.9 1091.9L791.7 1085.8L792.5 1080.2L793.3 1086.0L794.1 1081.2L794.9 1089.1L795.7 1096.5L796.5 1095.2L797.3 1088.1L798.1 1082.5L798.9 1087.8L799.7 1088.1L800.5 1091.0L801.3 1102.4L802.1 1103.2L802.9 1091.2L803.8 1088.9L804.6 1092.3L805.4 1092.1L806.2 1100.4L807.0 1102.1L807.8 1108.4L808.6 1098.6L809.4 1092.0L810.2 1097.5L811.0 1093.3L811.8 1098.3L812.6 1102.7L813.4 1106.4L814.2 1096.8L815.0 1098.2L815.8 1102.5L816.6 1098.5L817.5 1104.2L818.3 1105.7L819.1 1110.4L819.9 1104.9L820.7 1100.4L821.5 1101.1L822.3 1099.2L823.1 1105.9L823.9 1113.7L824.7 1113.4L825.5 1105.7L826.3 1101.6L827.1 1103.5L827.9 1101.0L828.7 1103.2L829.5 1110.9L830.4 1113.8L831.2 1107.4L832.0 1100.9L832.8 1102.7L833.6 1101.6L834.4 1103.2L835.2 1109.3L836.0 1107.9L836.8 1103.8L837.6 1095.5L838.4 1096.5L839.2 1098.2L840.0 1102.3L840.8 1108.2L841.6 1113.5L842.4 1097.6L843.2 1093.8L844.1 1092.3L844.9 1089.9L845.7 1107.1L846.5 1110.2L847.3 1114.2L848.1 1098.4L848.9 1094.5L849.7 1095.9L850.5 1098.4L851.3 1100.0L852.1 1106.3L852.9 1112.3L853.7 1097.9L854.5 1101.0L855.3 1097.2L856.1 1096.5L856.9 1097.1L857.8 1109.2L858.6 1112.2L859.4 1099.9L860.2 1097.1L861.0 1097.6L861.8 1100.7L862.6 1101.8L863.4 1104.0L864.2 1110.5L865.0 1100.8L865.8 1095.6L866.6 1093.7L867.4 1098.3L868.2 1103.8L869.0 1102.4L869.8 1114.4L870.7 1097.9L871.5 1090.7L872.3 1091.2L873.1 1092.7L873.9 1097.0L874.7 1108.0L875.5 1107.5L876.3 1097.6L877.1 1089.6L877.9 1092.4L878.7 1087.5L879.5 1096.6L880.3 1102.4L881.1 1110.9L881.9 1095.2L882.7 1092.2L883.5 1093.5L884.4 1095.8L885.2 1088.4L886.0 1108.5L886.8 1108.4L887.6 1094.2L888.4 1092.8L889.2 1092.8L890.0 1093.4L890.8 1095.6L891.6 1100.9L892.4 1102.6L893.2 1091.8L894.0 1093.6L894.8 1092.7L895.6 1095.1L896.4 1093.1L897.2 1098.9L898.1 1104.4L898.9 1099.5L899.7 1089.8L900.5 1090.7L901.3 1095.4L902.1 1100.7L902.9 1104.5L903.7 1109.3L904.5 1096.1L905.3 1092.6L906.1 1094.9L906.9 1098.6L907.7 1098.5L908.5 1105.4L909.3 1108.5L910.1 1098.6L911.0 1094.1L911.8 1092.2L912.6 1095.8L913.4 1100.7L914.2 1107.6L915.0 1111.7L915.8 1100.8L916.6 1099.7L917.4 1098.3L918.2 1100.3L919.0 1100.0L919.8 1104.7L920.6 1105.7L921.4 1098.3L922.2 1094.9L923.0 1095.4L923.8 1096.8L924.7 1099.5L925.5 1110.3L926.3 1107.8L927.1 1097.0L927.9 1088.9L928.7 1085.9L929.5 1089.2L930.3 1096.0L931.1 1100.6L931.9 1077.3L932.7 1088.5L933.5 1090.1L934.3 1089.5L935.1 1096.1L935.9 1099.3L936.7 1103.9L937.5 1111.2L938.4 1099.5L939.2 1093.6L940.0 1091.4L940.8 1100.5L941.6 1099.0L942.4 1106.3L943.2 1104.3L944.0 1098.4L944.8 1098.8L945.6 1096.0L946.4 1095.1L947.2 1096.9L948.0 1099.3L948.8 1096.4L949.6 1092.9L950.4 1088.1L951.2 1086.9L952.1 1088.3L952.9 1088.8L953.7 1092.2L954.5 1093.5L955.3 1081.6L956.1 1079.4L956.9 1078.5L957.7 1077.9L958.5 1076.7L959.3 1079.7L960.1 1083.9L960.9 1076.9L961.7 1066.9L962.5 1070.4L963.3 1068.0L964.1 1070.2L965.0 1081.1L965.8 1087.3L966.6 1069.3L967.4 1062.1L968.2 1065.1L969.0 1061.5L969.8 1072.2L970.6 1066.7L971.4 1072.8L972.2 1060.7L973.0 1051.4L973.8 1051.1L974.6 1053.1L975.4 1060.9L976.2 1072.2L977.0 1078.4L977.8 1060.4L978.7 1048.3L979.5 1054.2L980.3 1053.3L981.1 1055.6L981.9 1076.1L982.7 1078.1L983.5 1052.8L984.3 1046.3L985.1 1048.5L985.9 1053.2L986.7 1051.9L987.5 1074.1L988.3 1062.7L989.1 1053.2L989.9 1042.1L990.7 1050.3L991.5 1050.5L992.4 1052.6L993.2 1061.8L994.0 1066.9L994.8 1052.9L995.6 1036.7L996.4 1037.7L997.2 1037.3L998.0 1046.9L998.8 1052.7L999.6 1072.2L1000.4 1048.3L1001.2 1030.8L1002.0 1030.1L1002.8 1039.2L1003.6 1044.5L1004.4 1055.6L1005.3 1049.8L1006.1 1041.9L1006.9 1032.8L1007.7 1030.2L1008.5 1041.9L1009.3 1038.8L1010.1 1051.1L1010.9 1053.1L1011.7 1030.3L1012.5 1034.2L1013.3 1021.8L1014.1 1012.8L1014.9 1027.3L1015.7 1029.9L1016.5 1050.6L1017.3 1035.5L1018.1 1010.4L1019.0 1021.1L1019.8 1020.1L1020.6 1035.0L1021.4 1053.8L1022.2 1054.0L1023.0 1027.1L1023.8 1012.8L1024.6 1014.0L1025.4 1021.0L1026.2 1029.9L1027.0 1049.7L1027.8 1062.6L1028.6 1035.4L1029.4 1024.3L1030.2 1034.7L1031.0 1019.3L1031.8 1039.9L1032.7 1044.6L1033.5 1062.6L1034.3 1049.3L1035.1 1040.7L1035.9 1038.3L1036.7 1047.6L1037.5 1062.7" fill="none" stroke="#3d67ae" stroke-width="2.5" stroke-linejoin="round" stroke-linecap="round"/>
<path d="M1039.9 1062.5L1040.7 1054.7L1041.5 1054.4L1042.3 1070.5L1043.1 1062.1L1043.9 1082.5L1044.7 1089.4L1045.6 1057.8L1046.4 1051.5L1047.2 1059.1L1048.0 1062.7L1048.8 1058.9L1049.6 1079.1L1050.4 1090.6L1051.2 1064.3L1052.0 1058.2L1052.8 1057.4L1053.6 1059.0L1054.4 1067.3L1055.2 1088.8L1056.0 1086.3L1056.8 1067.9L1057.6 1061.2L1058.4 1062.5L1059.3 1071.3L1060.1 1062.8L1060.9 1076.3L1061.7 1081.6L1062.5 1068.8L1063.3 1066.6L1064.1 1064.7L1064.9 1068.4L1065.7 1063.2L1066.5 1071.9L1067.3 1079.3L1068.1 1061.0L1068.9 1059.0L1069.7 1057.4L1070.5 1059.2L1071.3 1059.6L1072.2 1062.6L1073.0 1084.1L1073.8 1051.7L1074.6 1053.0L1075.4 1050.8L1076.2 1047.5L1077.0 1048.7L1077.8 1065.9L1078.6 1067.2L1079.4 1041.8L1080.2 1040.4L1081.0 1042.3L1081.8 1044.1L1082.6 1045.4L1083.4 1054.7L1084.2 1060.0L1085.0 1043.0L1085.9 1040.2L1086.7 1040.6L1087.5 1043.2L1088.3 1047.1L1089.1 1047.3L1089.9 1059.3L1090.7 1035.6L1091.5 1031.8L1092.3 1031.5L1093.1 1039.7L1093.9 1038.3L1094.7 1055.4L1095.5 1052.3L1096.3 1038.5L1097.1 1024.9L1097.9 1034.1L1098.7 1032.9L1099.6 1033.1L1100.4 1052.2L1101.2 1052.1L1102.0 1038.7L1102.8 1031.0L1103.6 1035.5L1104.4 1036.7L1105.2 1044.0L1106.0 1055.7L1106.8 1061.7L1107.6 1045.6L1108.4 1046.3L1109.2 1044.6L1110.0 1041.1L1110.8 1047.1L1111.6 1055.0L1112.5 1061.2L1113.3 1049.2L1114.1 1044.1L1114.9 1048.4L1115.7 1045.8L1116.5 1052.0L1117.3 1064.1L1118.1 1064.6L1118.9 1059.2L1119.7 1048.5L1120.5 1042.6L1121.3 1048.1L1122.1 1040.8L1122.9 1029.4L1123.7 1076.2L1124.5 1053.7L1125.3 1035.9L1126.2 1045.1L1127.0 1047.4L1127.8 1048.5L1128.6 1057.2L1129.4 1064.9L1130.2 1036.8L1131.0 1024.2L1131.8 1041.1L1132.6 1052.4L1133.4 1059.3L1134.2 1075.0L1135.0 1081.4L1135.8 1074.5L1136.6 1074.5L1137.4 1071.5L1138.2 1074.2L1139.0 1077.3L1139.9 1075.7L1140.7 1084.2L1141.5 1075.9L1142.3 1076.9L1143.1 1080.8L1143.9 1077.7L1144.7 1080.8L1145.5 1086.9L1146.3 1083.6L1147.1 1079.7L1147.9 1077.7L1148.7 1077.3L1149.5 1081.3L1150.3 1083.9L1151.1 1085.8L1151.9 1089.3L1152.8 1078.9L1153.6 1079.6L1154.4 1079.4L1155.2 1082.6L1156.0 1085.4L1156.8 1088.8L1157.6 1087.5L1158.4 1080.3L1159.2 1073.3L1160.0 1075.1L1160.8 1070.2L1161.6 1065.4L1162.4 1053.3L1163.2 1085.7L1164.0 1066.3L1164.8 1059.0L1165.6 1057.6L1166.5 1061.1L1167.3 1069.3L1168.1 1076.4L1168.9 1082.1L1169.7 1069.3L1170.5 1064.2L1171.3 1065.2L1172.1 1066.8L1172.9 1066.4L1173.7 1072.2L1174.5 1072.9L1175.3 1064.2L1176.1 1060.5L1176.9 1058.5L1177.7 1064.3L1178.5 1062.5L1179.3 1067.9L1180.2 1071.3L1181.0 1062.8L1181.8 1057.5L1182.6 1057.5L1183.4 1061.4L1184.2 1058.6L1185.0 1065.9L1185.8 1070.8L1186.6 1063.4L1187.4 1058.3L1188.2 1060.9L1189.0 1064.5L1189.8 1059.1L1190.6 1065.5L1191.4 1068.9L1192.2 1063.3L1193.1 1053.6L1193.9 1052.4L1194.7 1058.6L1195.5 1054.3" fill="none" stroke="#3d67ae" stroke-width="2.5" stroke-linejoin="round" stroke-linecap="round"/>
<path d="M124.6 1362.9L125.4 1360.3L126.2 1357.9L126.7 1355.6L127.0 1356.7L127.8 1357.7L128.6 1359.4L128.8 1358.8L129.4 1358.6L130.2 1355.1L130.8 1354.6L131.0 1356.4L131.9 1355.6L132.7 1357.5L133.5 1358.4L134.3 1357.3L135.0 1359.8L135.1 1359.3L135.9 1359.8L136.7 1359.7L137.5 1360.1L138.3 1360.9L139.1 1361.3L139.9 1360.0L140.7 1361.2L141.2 1361.9L141.5 1360.3L142.3 1360.7L143.1 1361.6L143.9 1361.3L144.7 1359.7L145.4 1359.8L145.6 1358.0L146.4 1354.2L147.2 1350.5L148.0 1345.2L148.5 1342.0L148.8 1342.2L149.6 1342.5L150.4 1338.6L150.6 1340.0L151.2 1334.6L152.0 1329.3L152.7 1323.3L152.8 1324.1L153.6 1325.6L154.4 1328.3L155.2 1331.7L155.8 1334.8L156.0 1333.8L156.8 1326.3L157.6 1320.7L158.5 1313.8L159.3 1308.1L160.0 1302.5L160.1 1302.9L160.9 1310.9L161.0 1313.0L161.7 1298.9L162.5 1282.6L163.1 1271.2L163.3 1274.3L164.1 1289.1L164.6 1298.3L164.9 1287.6L165.6 1260.8L165.7 1261.9L166.5 1266.4L167.3 1268.8L168.1 1274.2L168.3 1273.3L168.9 1277.7L169.7 1280.1L170.5 1283.9L171.3 1289.6L171.5 1291.0L172.2 1291.0L173.0 1290.1L173.8 1288.1L174.6 1286.4L175.4 1286.3L175.6 1285.8L176.2 1288.1L177.0 1292.7L177.8 1296.1L178.6 1300.2L178.8 1300.4L179.4 1303.2L180.2 1305.9L181.0 1306.7L181.8 1309.7L182.6 1312.8L183.0 1315.0L183.4 1316.3L184.2 1317.9L185.0 1319.4L185.9 1321.5L186.7 1323.5L187.5 1323.8L188.1 1325.4L188.3 1325.4L189.1 1323.5L189.9 1322.2L190.7 1320.6L191.5 1318.2L192.3 1316.1L193.1 1316.9L193.3 1316.0L193.9 1319.1L194.7 1320.9L195.5 1323.3L196.3 1325.2L197.1 1328.1L197.9 1330.2L198.8 1332.5L199.6 1335.7L199.6 1335.8L200.4 1332.8L201.2 1332.9L202.0 1331.8L202.8 1328.4L203.6 1327.9L203.8 1327.5L204.4 1328.9L205.2 1330.9L206.0 1332.3L206.8 1337.3L207.6 1340.7L208.4 1342.4L209.0 1342.0L209.2 1341.4L210.0 1338.5L210.8 1334.3L211.6 1331.5L212.0 1330.6L212.5 1331.1L213.3 1331.0L214.1 1332.6L214.9 1335.5L215.7 1336.6L216.2 1337.9L216.5 1339.3L217.3 1338.7L218.1 1338.2L218.9 1339.0L219.7 1341.7L220.5 1339.3L221.3 1342.0L222.1 1342.5L222.5 1341.0L222.9 1341.0L223.7 1343.1L224.5 1342.8L225.3 1342.4L226.2 1345.0L227.0 1344.3L227.8 1344.8L228.6 1345.0L229.4 1345.1L230.2 1345.9L230.8 1346.2L231.0 1345.6L231.8 1341.7L232.6 1337.2L233.4 1332.8L234.2 1328.5L235.0 1322.3L235.0 1322.0L235.8 1325.9L236.6 1326.4L237.4 1329.5L238.1 1332.7L238.2 1331.1L239.1 1333.7L239.9 1331.8L240.7 1330.8L241.5 1331.3L242.3 1331.3L243.1 1332.0L243.9 1331.9L244.7 1333.0L245.5 1331.9L246.3 1332.0L247.1 1330.8L247.5 1331.7L247.9 1332.0L248.7 1332.7L249.5 1337.5L250.3 1337.8L251.1 1339.4L251.7 1342.0L251.9 1342.2L252.8 1339.8L253.6 1339.9L254.4 1340.4L255.2 1341.3L256.0 1338.9L256.8 1338.3L257.6 1336.8L258.4 1338.7L259.2 1336.6L260.0 1335.8L260.0 1336.0L260.8 1336.3L261.6 1338.3L262.4 1338.6L263.2 1342.4L264.0 1342.6L264.8 1343.8L265.6 1346.3L266.2 1346.2L266.5 1347.4L267.3 1347.9L268.1 1345.8L268.9 1346.8L269.7 1346.3L270.5 1347.1L271.3 1346.5L272.1 1345.4L272.9 1346.7L273.7 1346.1L274.5 1346.4L275.3 1347.2L276.1 1347.6L276.7 1346.2L276.9 1345.2L277.7 1347.1L278.5 1346.8L279.4 1348.4L280.2 1347.7L281.0 1349.4L281.8 1349.2L282.6 1348.9L283.4 1349.4L284.2 1347.8L285.0 1350.0L285.8 1350.2L286.6 1349.4L287.4 1350.9L288.2 1351.4L289.0 1351.8L289.2 1351.5L289.8 1351.9L290.6 1351.7L291.4 1350.6L292.2 1350.0L293.1 1349.1L293.9 1348.5L294.7 1349.2L295.5 1347.9L296.3 1346.5L297.1 1347.5L297.5 1347.3L297.9 1346.3L298.7 1345.3L299.5 1343.3L300.3 1339.9L301.1 1339.0L301.9 1336.9L302.7 1335.7L303.5 1330.7L303.8 1332.7L304.3 1334.4L305.1 1334.2L305.9 1337.1L306.8 1337.5L307.6 1338.9L308.4 1340.9L309.2 1342.8L310.0 1343.0L310.8 1344.6L311.0 1344.2L311.6 1343.4L312.4 1345.1L313.2 1344.3L314.0 1343.2L314.8 1343.6L315.6 1342.9L316.4 1341.4L317.2 1342.4L318.0 1341.4L318.3 1341.0L318.8 1342.0L319.7 1341.9L320.5 1342.6L321.3 1341.1L322.1 1340.3L322.9 1339.4L323.7 1339.3L324.5 1340.3L325.3 1340.2L326.1 1338.8L326.9 1338.7L327.7 1338.7L328.5 1340.5L328.8 1339.0L329.3 1340.2L330.1 1339.9L330.9 1342.2L331.7 1345.4L332.5 1344.6L333.0 1346.2L333.4 1344.4L334.2 1345.1L335.0 1343.7L335.8 1344.0L336.6 1343.3L337.4 1343.7L338.2 1342.8L339.0 1342.0L339.8 1340.7L340.6 1340.9L341.2 1340.0L341.4 1338.9L342.2 1336.7L343.0 1335.7L343.8 1335.4L344.6 1331.4L345.4 1330.8L346.2 1326.1L347.1 1323.8L347.5 1323.3L347.9 1324.4L348.7 1325.4L349.5 1327.0L350.3 1326.3L351.1 1328.0L351.7 1327.5L351.9 1325.8L352.7 1330.5L353.5 1334.8L354.3 1339.1L355.1 1343.3L355.2 1343.1L355.9 1345.1L356.7 1344.0L357.5 1345.4L358.3 1346.2L358.3 1345.4L359.1 1348.0L360.0 1348.7L360.8 1348.2L361.6 1348.8L362.4 1349.3L362.5 1349.4L363.2 1350.3L364.0 1349.5L364.8 1347.1L365.6 1346.2L366.4 1347.7L366.7 1347.3L367.2 1345.7L368.0 1347.2L368.8 1348.6L369.6 1350.6L370.4 1350.3L371.2 1353.9L372.0 1351.9L372.8 1352.5L372.9 1351.5L373.7 1351.7L374.5 1352.5L375.3 1352.3L376.1 1351.9L376.9 1351.0L377.7 1351.0L378.5 1352.2L379.3 1351.6L380.1 1351.9L380.9 1352.0L381.2 1351.5L381.7 1351.0L382.5 1350.5L383.3 1349.8L384.1 1349.4L384.9 1347.7L385.4 1346.2L385.7 1346.0L386.5 1348.3L387.4 1347.5L388.2 1349.2L388.5 1350.4L389.0 1349.5L389.8 1347.7L390.6 1348.1L391.4 1343.4L391.7 1345.2L392.2 1345.4L393.0 1346.4L393.8 1348.8L394.6 1350.8L394.8 1349.4L395.4 1350.2L396.2 1349.6L397.0 1348.7L397.8 1348.6L398.6 1346.9L399.0 1348.3L399.4 1347.6L400.3 1345.1L401.0 1343.1L401.1 1341.9L401.9 1343.6L402.7 1344.5L403.5 1347.6L404.3 1348.0L405.1 1349.0L405.2 1349.4L405.9 1348.4L406.7 1347.7L407.5 1347.7L408.3 1350.1L409.1 1347.1L409.9 1347.1L410.4 1347.3L410.7 1348.7L411.5 1347.8L412.3 1348.3L413.1 1350.2L414.0 1352.5L414.6 1351.5L414.8 1350.2L415.6 1343.4L416.4 1337.3L417.2 1335.7L418.0 1331.8L418.8 1327.5L418.8 1328.3L419.6 1329.6L420.4 1333.1L421.2 1335.9L421.9 1335.8L422.0 1337.1L422.8 1340.4L423.6 1341.5L424.4 1345.3L425.2 1347.8L426.0 1350.4L426.0 1351.7L426.8 1348.8L427.7 1350.1L428.5 1352.0L429.3 1351.6L430.1 1350.2L430.9 1350.5L431.7 1350.1L432.5 1351.5L433.3 1350.3L433.3 1351.5L434.1 1352.1L434.9 1352.5L435.7 1351.7L436.5 1351.1L437.3 1350.6L438.1 1349.9L438.9 1347.0L439.6 1348.3L439.7 1347.0L440.6 1342.1L441.4 1342.4L441.7 1340.0L442.2 1339.5L443.0 1342.6L443.8 1344.6L444.6 1346.1L444.8 1346.2L445.4 1344.4L446.2 1344.3L447.0 1341.2L447.8 1340.7L448.0 1340.0L448.6 1340.6L449.4 1344.6L450.2 1342.1L451.0 1342.9L451.8 1345.1L452.6 1346.1L453.4 1349.2L454.3 1349.1L455.1 1351.9L455.9 1351.8L456.2 1352.5L456.7 1353.5L457.5 1352.9L458.3 1353.5L459.1 1353.3L459.9 1355.0L460.7 1355.7L461.5 1353.3L462.3 1353.6L463.1 1354.4L463.9 1354.1L464.7 1355.4L465.5 1356.4L466.3 1352.2L466.7 1353.5L467.1 1354.9L468.0 1354.9L468.8 1354.1L469.6 1354.7L470.4 1355.5L471.2 1357.4L472.0 1355.6L472.8 1356.7L473.6 1358.5L474.4 1358.8L475.0 1357.7L475.2 1357.5L476.0 1356.0L476.8 1355.7L477.6 1356.5L478.4 1358.3L479.2 1358.6L480.0 1359.2L480.9 1358.9L481.7 1358.7L482.5 1358.1L483.3 1357.0L483.3 1357.7L484.1 1357.4L484.9 1355.6L485.7 1357.2L486.5 1357.0L487.3 1359.1L488.1 1356.8L488.9 1356.7L489.7 1355.1L490.5 1356.4L491.3 1356.1L492.1 1354.8L492.9 1355.4L493.7 1353.9L494.6 1355.2L495.4 1354.3L495.8 1354.6L496.2 1354.0L497.0 1354.5L497.8 1355.6L498.6 1357.2L499.0 1356.7L499.4 1352.6L500.2 1351.2L501.0 1347.1L501.8 1344.0L502.1 1342.0L502.6 1345.0L503.4 1346.4L504.2 1349.4L505.0 1353.3L505.2 1353.5L505.8 1352.1L506.6 1350.9L507.4 1349.4L508.3 1349.6L508.3 1349.4L509.1 1352.4L509.9 1352.5L510.7 1353.6L511.5 1354.0L512.3 1353.6L513.1 1352.4L513.9 1356.8L514.6 1356.7L514.7 1355.0L515.5 1359.3L516.3 1358.2L517.1 1358.9L517.9 1357.4L518.7 1355.7L519.5 1356.4L520.3 1358.2L521.2 1355.9L522.0 1357.0L522.8 1359.0L523.6 1359.4L524.4 1358.6L525.2 1356.0L526.0 1357.9L526.8 1359.8L527.0 1358.8L527.6 1357.9L528.4 1357.4L529.2 1356.8L530.0 1354.9L530.8 1353.5L531.6 1352.5L532.3 1352.5L532.4 1352.4L533.2 1353.6L534.0 1355.2L534.9 1356.3L535.7 1356.6L536.5 1355.5L537.3 1358.6L537.5 1358.8L538.1 1360.4L538.9 1359.0L539.7 1361.3L540.5 1360.3L541.3 1361.2L542.1 1360.1L542.9 1360.3L543.7 1359.5L543.8 1359.8L544.5 1358.2L545.3 1358.3L546.1 1355.7L546.9 1355.6L546.9 1355.6L547.7 1356.7L548.6 1355.8L549.4 1357.0L550.2 1355.9L551.0 1357.1L551.8 1358.2L552.1 1358.8L552.6 1356.9L553.4 1354.9L554.2 1352.6L555.0 1348.1L555.2 1349.4L555.8 1350.5L556.6 1351.8L557.4 1353.5L558.2 1358.2L558.3 1356.7L559.0 1357.7L559.8 1357.7L560.6 1355.5L561.5 1355.5L562.3 1353.9L563.1 1355.3L563.9 1353.4L564.7 1354.0L565.5 1355.4L566.3 1355.3L566.7 1354.6L567.1 1353.8L567.9 1356.4L568.7 1356.5L569.5 1356.0L570.3 1356.9L571.1 1357.5L571.9 1356.9L572.7 1357.6L573.5 1356.7L574.3 1359.2L575.0 1359.8L575.2 1360.5L576.0 1359.3L576.8 1356.4L577.6 1356.7L578.4 1353.3L579.2 1353.1L580.0 1350.4L580.2 1350.4L580.8 1350.3L581.6 1352.9L582.4 1356.9L583.2 1357.0L584.0 1358.6L584.4 1358.8L584.8 1358.8L585.6 1358.2L586.4 1357.3L587.2 1357.3L587.5 1355.6L588.0 1356.6L588.9 1358.6L589.7 1358.7L590.5 1358.1L590.6 1358.8" fill="none" stroke="#3d67ae" stroke-width="2.5" stroke-linejoin="round" stroke-linecap="round"/>
<path d="M729.6 1339.7L730.4 1333.3L731.2 1301.5L732.0 1347.3L732.8 1340.4L733.6 1339.6L734.4 1320.5L735.2 1320.0L736.0 1305.6L736.9 1342.9L737.7 1346.2L738.5 1338.0L739.3 1342.4L740.1 1337.2L740.9 1327.1L741.7 1327.8L742.5 1329.7L743.3 1336.9L744.1 1340.6L744.9 1330.4L745.7 1332.3L746.5 1333.3L747.3 1332.8L748.1 1339.7L748.9 1334.4L749.8 1333.7L750.6 1319.1L751.4 1329.9L752.2 1321.1L753.0 1352.6L753.8 1275.4L754.6 1339.3L755.4 1337.2L756.2 1321.0L757.0 1280.6L757.8 1332.1L758.6 1353.5L759.4 1340.5L760.2 1320.3L761.0 1326.7L761.8 1329.9L762.6 1312.1L763.5 1333.1L764.3 1343.1L765.1 1296.2L765.9 1349.4L766.7 1346.5L767.5 1331.3L768.3 1356.9L769.1 1362.9L769.9 1279.6L770.7 1312.8L771.5 1313.3L772.3 1348.3L773.1 1327.0L773.9 1322.7L774.7 1328.0L775.5 1325.1L776.3 1321.9L777.2 1323.9L778.0 1330.3L778.8 1340.9L779.6 1340.6L780.4 1348.4L781.2 1334.6L782.0 1324.4L782.8 1349.4L783.6 1337.5L784.4 1339.1L785.2 1326.9L786.0 1339.3L786.8 1335.9L787.6 1332.2L788.4 1334.8L789.2 1331.4L790.1 1326.8L790.9 1329.7L791.7 1322.7L792.5 1324.5L793.3 1334.5L794.1 1336.7L794.9 1329.3L795.7 1321.2L796.5 1330.5L797.3 1334.8L798.1 1314.0L798.9 1329.2L799.7 1332.7L800.5 1331.9L801.3 1334.3L802.1 1349.4L802.9 1335.0L803.8 1333.4L804.6 1336.6L805.4 1336.3L806.2 1330.6L807.0 1332.4L807.8 1321.2L808.6 1337.9L809.4 1333.9L810.2 1333.3L811.0 1328.6L811.8 1333.4L812.6 1339.2L813.4 1338.0L814.2 1333.2L815.0 1347.3L815.8 1335.1L816.6 1307.7L817.5 1329.2L818.3 1330.4L819.1 1336.7L819.9 1340.5L820.7 1332.6L821.5 1331.1L822.3 1342.3L823.1 1338.8L823.9 1335.1L824.7 1336.9L825.5 1332.4L826.3 1325.3L827.1 1331.2L827.9 1331.4L828.7 1330.2L829.5 1332.8L830.4 1329.4L831.2 1330.1L832.0 1323.5L832.8 1336.4L833.6 1342.0L834.4 1331.3L835.2 1325.3L836.0 1333.0L836.8 1337.7L837.6 1333.1L838.4 1328.3L839.2 1341.2L840.0 1273.3L840.8 1348.3L841.6 1336.2L842.4 1336.4L843.2 1341.3L844.1 1343.5L844.9 1330.1L845.7 1332.2L846.5 1338.9L847.3 1336.7L848.1 1331.8L848.9 1337.2L849.7 1332.7L850.5 1332.7L851.3 1323.3L852.1 1338.3L852.9 1344.9L853.7 1341.4L854.5 1336.7L855.3 1340.2L856.1 1336.1L856.9 1335.2L857.8 1335.2L858.6 1332.5L859.4 1334.9L860.2 1335.3L861.0 1335.4L861.8 1329.9L862.6 1335.5L863.4 1335.2L864.2 1333.8L865.0 1342.0L865.8 1310.8L866.6 1329.5L867.4 1341.8L868.2 1337.7L869.0 1339.1L869.8 1339.3L870.7 1332.2L871.5 1332.8L872.3 1331.0L873.1 1335.7L873.9 1336.5L874.7 1330.2L875.5 1324.4L876.3 1339.8L877.1 1329.3L877.9 1334.3L878.7 1335.5L879.5 1326.0L880.3 1325.6L881.1 1333.8L881.9 1328.1L882.7 1322.4L883.5 1330.2L884.4 1323.1L885.2 1329.3L886.0 1332.9L886.8 1333.2L887.6 1336.7L888.4 1334.7L889.2 1333.0L890.0 1322.3L890.8 1342.0L891.6 1329.6L892.4 1334.3L893.2 1333.8L894.0 1331.9L894.8 1326.9L895.6 1323.2L896.4 1329.9L897.2 1336.0L898.1 1335.1L898.9 1328.7L899.7 1337.0L900.5 1322.3L901.3 1329.4L902.1 1337.1L902.9 1340.3L903.7 1335.6L904.5 1340.7L905.3 1314.0L906.1 1336.6L906.9 1340.5L907.7 1336.7L908.5 1340.5L909.3 1330.5L910.1 1300.4L911.0 1341.3L911.8 1344.2L912.6 1337.5L913.4 1325.5L914.2 1332.6L915.0 1322.1L915.8 1330.7L916.6 1334.0L917.4 1337.3L918.2 1332.3L919.0 1337.0L919.8 1333.5L920.6 1328.3L921.4 1333.0L922.2 1323.3L923.0 1339.7L923.8 1338.5L924.7 1343.8L925.5 1343.1L926.3 1342.8L927.1 1330.1L927.9 1328.8L928.7 1343.4L929.5 1338.5L930.3 1331.6L931.1 1339.5L931.9 1338.0L932.7 1326.0L933.5 1328.0L934.3 1326.4L935.1 1325.5L935.9 1326.5L936.7 1325.1L937.5 1328.8L938.4 1333.5L939.2 1332.9L940.0 1332.7L940.8 1338.4L941.6 1334.2L942.4 1334.8L943.2 1330.1L944.0 1326.9L944.8 1334.2L945.6 1329.4L946.4 1333.2L947.2 1338.3L948.0 1333.2L948.8 1344.4L949.6 1343.5L950.4 1333.6L951.2 1310.8L952.1 1340.4L952.9 1341.7L953.7 1306.7L954.5 1336.1L955.3 1333.7L956.1 1335.6L956.9 1331.4L957.7 1330.8L958.5 1353.5L959.3 1321.5L960.1 1325.5L960.9 1332.5L961.7 1327.4L962.5 1326.6L963.3 1338.3L964.1 1326.7L965.0 1330.4L965.8 1323.3L966.6 1344.2L967.4 1337.2L968.2 1336.7L969.0 1334.7L969.8 1328.9L970.6 1321.4L971.4 1338.0L972.2 1333.5L973.0 1334.5L973.8 1329.2L974.6 1332.6L975.4 1326.5L976.2 1327.5L977.0 1332.8L977.8 1342.5L978.7 1339.6L979.5 1346.1L980.3 1339.7L981.1 1337.2L981.9 1342.4L982.7 1337.1L983.5 1327.9L984.3 1334.5L985.1 1336.3L985.9 1335.9L986.7 1337.0L987.5 1323.3L988.3 1333.5L989.1 1327.6L989.9 1335.6L990.7 1331.3L991.5 1343.1L992.4 1336.5L993.2 1330.8L994.0 1336.5L994.8 1336.8L995.6 1337.3L996.4 1311.9L997.2 1331.9L998.0 1340.8L998.8 1328.8L999.6 1343.1L1000.4 1338.1L1001.2 1344.0L1002.0 1328.1L1002.8 1340.8L1003.6 1339.5L1004.4 1326.1L1005.3 1328.1L1006.1 1310.8L1006.9 1331.9L1007.7 1331.9L1008.5 1339.5L1009.3 1346.2L1010.1 1339.4L1010.9 1341.0L1011.7 1318.0L1012.5 1332.4L1013.3 1335.9L1014.1 1336.3L1014.9 1331.7L1015.7 1335.7L1016.5 1328.9L1017.3 1329.3L1018.1 1342.0L1019.0 1337.8L1019.8 1330.1L1020.6 1333.8L1021.4 1336.8L1022.2 1339.8L1023.0 1339.4L1023.8 1256.7L1024.6 1329.9L1025.4 1356.7L1026.2 1326.5L1027.0 1328.1L1027.8 1329.8L1028.6 1351.5L1029.4 1336.7L1030.2 1345.0L1031.0 1329.6L1031.8 1328.0L1032.7 1323.6L1033.5 1324.7L1034.3 1323.7L1035.1 1325.9L1035.9 1326.6L1036.7 1325.1L1037.5 1340.0L1038.3 1335.2L1039.1 1337.5L1039.9 1334.6L1040.7 1338.2L1041.5 1324.7L1042.3 1325.6L1043.1 1334.9L1043.9 1332.2L1044.7 1330.1L1045.6 1330.5L1046.4 1330.6L1047.2 1289.0L1048.0 1342.2L1048.8 1330.1L1049.6 1353.5L1050.4 1328.7L1051.2 1333.5L1052.0 1320.2L1052.8 1334.9L1053.6 1336.3L1054.4 1350.4L1055.2 1335.8L1056.0 1324.5L1056.8 1334.3L1057.6 1334.5L1058.4 1328.6L1059.3 1331.9L1060.1 1327.1L1060.9 1337.2L1061.7 1340.6L1062.5 1336.9L1063.3 1326.4L1064.1 1318.0L1064.9 1330.0L1065.7 1327.1L1066.5 1346.2L1067.3 1329.4L1068.1 1324.7L1068.9 1335.4L1069.7 1344.7L1070.5 1329.6L1071.3 1336.6L1072.2 1320.2L1073.0 1333.0L1073.8 1326.9L1074.6 1327.9L1075.4 1329.7L1076.2 1345.2L1077.0 1337.4L1077.8 1333.5L1078.6 1323.8L1079.4 1327.2L1080.2 1328.9L1081.0 1326.3L1081.8 1332.9L1082.6 1340.1L1083.4 1339.5L1084.2 1334.0L1085.0 1325.9L1085.9 1333.6L1086.7 1339.6L1087.5 1337.1L1088.3 1336.0L1089.1 1336.4L1089.9 1323.3L1090.7 1328.8L1091.5 1342.0L1092.3 1342.3L1093.1 1343.8L1093.9 1337.6L1094.7 1339.0L1095.5 1325.8L1096.3 1330.4L1097.1 1332.1L1097.9 1329.1L1098.7 1327.8L1099.6 1323.3L1100.4 1324.4L1101.2 1334.1L1102.0 1336.4L1102.8 1331.6L1103.6 1337.3L1104.4 1345.2L1105.2 1335.7L1106.0 1337.8L1106.8 1322.1L1107.6 1300.4L1108.4 1343.2L1109.2 1337.6L1110.0 1356.7L1110.8 1328.4L1111.6 1337.8L1112.5 1323.3L1113.3 1331.2L1114.1 1330.4L1114.9 1337.5L1115.7 1336.5L1116.5 1336.2L1117.3 1340.2L1118.1 1330.3L1118.9 1343.1L1119.7 1339.2L1120.5 1346.4L1121.3 1344.6L1122.1 1332.7L1122.9 1338.3L1123.7 1328.0L1124.5 1329.9L1125.3 1330.9L1126.2 1336.2L1127.0 1332.5L1127.8 1332.9L1128.6 1335.4L1129.4 1334.7L1130.2 1335.9L1131.0 1345.2L1131.8 1333.6L1132.6 1339.3L1133.4 1339.9L1134.2 1338.2L1135.0 1337.4L1135.8 1327.0L1136.6 1337.6L1137.4 1311.9L1138.2 1350.4L1139.0 1331.2L1139.9 1330.1L1140.7 1329.5L1141.5 1333.7L1142.3 1331.5L1143.1 1334.2L1143.9 1337.6L1144.7 1335.7L1145.5 1342.9L1146.3 1343.0L1147.1 1338.6L1147.9 1332.6L1148.7 1334.1L1149.5 1331.5L1150.3 1327.1L1151.1 1332.5L1151.9 1311.9L1152.8 1334.2L1153.6 1351.5L1154.4 1333.0L1155.2 1330.7L1156.0 1337.5L1156.8 1334.1L1157.6 1334.5L1158.4 1333.4L1159.2 1334.4L1160.0 1305.6L1160.8 1333.5L1161.6 1348.3L1162.4 1329.4L1163.2 1334.0L1164.0 1325.7L1164.8 1327.5L1165.6 1330.5L1166.5 1331.8L1167.3 1335.7L1168.1 1320.2L1168.9 1336.6L1169.7 1335.2L1170.5 1333.9L1171.3 1334.3L1172.1 1333.8L1172.9 1348.6L1173.7 1342.0L1174.5 1339.3L1175.3 1340.6L1176.1 1339.6L1176.9 1335.6L1177.7 1337.2L1178.5 1340.6L1179.3 1332.4L1180.2 1339.4L1181.0 1337.4L1181.8 1342.9L1182.6 1338.2L1183.4 1336.7L1184.2 1336.3L1185.0 1341.3L1185.8 1307.7L1186.6 1341.9L1187.4 1338.3L1188.2 1351.5L1189.0 1330.6L1189.8 1340.1L1190.6 1336.1L1191.4 1328.2L1192.2 1334.5L1193.1 1317.0L1193.9 1349.4L1194.7 1333.2L1195.5 1339.8L1196.3 1339.1" fill="none" stroke="#3d67ae" stroke-width="2.5" stroke-linejoin="round" stroke-linecap="round"/>
<text transform="translate(310.94,11.60) scale(1.4500,1)" font-size="13.0" letter-spacing="0.338">BTC_Price</text>
<text transform="translate(26.16,38.10) scale(1.5974,1)" font-size="11.7">80,000</text>
<text transform="translate(26.06,74.92) scale(1.6000,1)" font-size="11.7">60,000</text>
<text transform="translate(26.54,111.75) scale(1.5867,1)" font-size="11.7">40,000</text>
<text transform="translate(26.06,148.58) scale(1.6000,1)" font-size="11.7">20,000</text>
<text transform="translate(71.60,185.40) scale(1.8264,1)" font-size="11.7">0</text>
<rect x="145.45" y="189.10" width="1.6" height="7.6" fill="#111"/>
<rect x="211.60" y="189.10" width="1.6" height="7.6" fill="#111"/>
<rect x="216.70" y="189.10" width="1.6" height="7.6" fill="#111"/>
<rect x="281.90" y="189.10" width="1.6" height="7.6" fill="#111"/>
<rect x="287.00" y="189.10" width="1.6" height="7.6" fill="#111"/>
<rect x="292.10" y="189.10" width="1.6" height="7.6" fill="#111"/>
<rect x="354.66" y="189.10" width="1.6" height="7.6" fill="#111"/>
<rect x="434.90" y="189.10" width="1.6" height="7.6" fill="#111"/>
<rect x="502.70" y="189.10" width="1.6" height="7.6" fill="#111"/>
<rect x="507.70" y="189.10" width="1.6" height="7.6" fill="#111"/>
<rect x="566.20" y="189.10" width="1.6" height="7.6" fill="#111"/>
<rect x="572.10" y="189.10" width="1.6" height="7.6" fill="#111"/>
<rect x="577.20" y="189.10" width="1.6" height="7.6" fill="#111"/>
<path d="M359.60 189.50L364.60 196.20L369.60 189.50" fill="none" stroke="#111" stroke-width="1.55"/>
<text transform="translate(235.15,213.00) scale(1.6253,1)" font-size="11.7">2020</text>
<text transform="translate(480.58,213.00) scale(1.5750,1)" font-size="11.7">2021</text>
<text transform="translate(907.59,11.60) scale(1.4500,1)" font-size="13.0" letter-spacing="0.569">BTC_Return</text>
<text transform="translate(671.61,38.10) scale(1.6974,1)" font-size="11.7">.4</text>
<text transform="translate(671.56,74.92) scale(1.7463,1)" font-size="11.7">.2</text>
<text transform="translate(671.59,111.75) scale(1.7215,1)" font-size="11.7">.0</text>
<text transform="translate(668.01,148.58) scale(1.5017,1)" font-size="11.7">-.2</text>
<text transform="translate(668.02,185.40) scale(1.4742,1)" font-size="11.7">-.4</text>
<rect x="750.45" y="189.10" width="1.6" height="7.6" fill="#111"/>
<rect x="816.60" y="189.10" width="1.6" height="7.6" fill="#111"/>
<rect x="821.70" y="189.10" width="1.6" height="7.6" fill="#111"/>
<rect x="886.90" y="189.10" width="1.6" height="7.6" fill="#111"/>
<rect x="892.00" y="189.10" width="1.6" height="7.6" fill="#111"/>
<rect x="897.10" y="189.10" width="1.6" height="7.6" fill="#111"/>
<rect x="959.66" y="189.10" width="1.6" height="7.6" fill="#111"/>
<rect x="1039.90" y="189.10" width="1.6" height="7.6" fill="#111"/>
<rect x="1107.70" y="189.10" width="1.6" height="7.6" fill="#111"/>
<rect x="1112.70" y="189.10" width="1.6" height="7.6" fill="#111"/>
<rect x="1171.20" y="189.10" width="1.6" height="7.6" fill="#111"/>
<rect x="1177.10" y="189.10" width="1.6" height="7.6" fill="#111"/>
<rect x="1182.20" y="189.10" width="1.6" height="7.6" fill="#111"/>
<path d="M964.60 189.50L969.60 196.20L974.60 189.50" fill="none" stroke="#111" stroke-width="1.55"/>
<text transform="translate(840.15,213.00) scale(1.6253,1)" font-size="11.7">2020</text>
<text transform="translate(1085.58,213.00) scale(1.5750,1)" font-size="11.7">2021</text>
<text transform="translate(349.59,251.95) scale(1.5235,1)" font-size="13.0" letter-spacing="0.000">PI</text>
<text transform="translate(61.42,278.45) scale(1.6922,1)" font-size="11.7">10</text>
<text transform="translate(71.48,307.91) scale(1.8458,1)" font-size="11.7">8</text>
<text transform="translate(71.35,337.37) scale(1.8859,1)" font-size="11.7">6</text>
<text transform="translate(71.94,366.83) scale(1.7350,1)" font-size="11.7">4</text>
<text transform="translate(71.33,396.29) scale(1.9066,1)" font-size="11.7">2</text>
<text transform="translate(71.60,425.75) scale(1.8264,1)" font-size="11.7">0</text>
<rect x="145.45" y="429.45" width="1.6" height="7.6" fill="#111"/>
<rect x="211.60" y="429.45" width="1.6" height="7.6" fill="#111"/>
<rect x="216.70" y="429.45" width="1.6" height="7.6" fill="#111"/>
<rect x="281.90" y="429.45" width="1.6" height="7.6" fill="#111"/>
<rect x="287.00" y="429.45" width="1.6" height="7.6" fill="#111"/>
<rect x="292.10" y="429.45" width="1.6" height="7.6" fill="#111"/>
<rect x="354.66" y="429.45" width="1.6" height="7.6" fill="#111"/>
<rect x="434.90" y="429.45" width="1.6" height="7.6" fill="#111"/>
<rect x="502.70" y="429.45" width="1.6" height="7.6" fill="#111"/>
<rect x="507.70" y="429.45" width="1.6" height="7.6" fill="#111"/>
<rect x="566.20" y="429.45" width="1.6" height="7.6" fill="#111"/>
<rect x="572.10" y="429.45" width="1.6" height="7.6" fill="#111"/>
<rect x="577.20" y="429.45" width="1.6" height="7.6" fill="#111"/>
<path d="M359.60 429.85L364.60 436.55L369.60 429.85" fill="none" stroke="#111" stroke-width="1.55"/>
<text transform="translate(235.15,453.35) scale(1.6253,1)" font-size="11.7">2020</text>
<text transform="translate(480.58,453.35) scale(1.5750,1)" font-size="11.7">2021</text>
<text transform="translate(952.64,251.95) scale(1.7436,1)" font-size="13.0" letter-spacing="0.000">HI</text>
<text transform="translate(666.41,278.45) scale(1.6927,1)" font-size="11.7">80</text>
<text transform="translate(666.30,315.28) scale(1.7010,1)" font-size="11.7">60</text>
<text transform="translate(666.81,352.10) scale(1.6603,1)" font-size="11.7">40</text>
<text transform="translate(666.30,388.93) scale(1.7010,1)" font-size="11.7">20</text>
<text transform="translate(676.60,425.75) scale(1.8264,1)" font-size="11.7">0</text>
<rect x="750.45" y="429.45" width="1.6" height="7.6" fill="#111"/>
<rect x="816.60" y="429.45" width="1.6" height="7.6" fill="#111"/>
<rect x="821.70" y="429.45" width="1.6" height="7.6" fill="#111"/>
<rect x="886.90" y="429.45" width="1.6" height="7.6" fill="#111"/>
<rect x="892.00" y="429.45" width="1.6" height="7.6" fill="#111"/>
<rect x="897.10" y="429.45" width="1.6" height="7.6" fill="#111"/>
<rect x="959.66" y="429.45" width="1.6" height="7.6" fill="#111"/>
<rect x="1039.90" y="429.45" width="1.6" height="7.6" fill="#111"/>
<rect x="1107.70" y="429.45" width="1.6" height="7.6" fill="#111"/>
<rect x="1112.70" y="429.45" width="1.6" height="7.6" fill="#111"/>
<rect x="1171.20" y="429.45" width="1.6" height="7.6" fill="#111"/>
<rect x="1177.10" y="429.45" width="1.6" height="7.6" fill="#111"/>
<rect x="1182.20" y="429.45" width="1.6" height="7.6" fill="#111"/>
<path d="M964.60 429.85L969.60 436.55L974.60 429.85" fill="none" stroke="#111" stroke-width="1.55"/>
<text transform="translate(840.15,453.35) scale(1.6253,1)" font-size="11.7">2020</text>
<text transform="translate(1085.58,453.35) scale(1.5750,1)" font-size="11.7">2021</text>
<text transform="translate(343.13,492.30) scale(1.5064,1)" font-size="13.0" letter-spacing="0.000">FNI</text>
<text transform="translate(57.31,518.80) scale(1.6009,1)" font-size="11.7">2.5</text>
<text transform="translate(57.31,548.26) scale(1.6009,1)" font-size="11.7">2.0</text>
<text transform="translate(57.45,577.72) scale(1.5921,1)" font-size="11.7">1.5</text>
<text transform="translate(57.45,607.18) scale(1.5921,1)" font-size="11.7">1.0</text>
<text transform="translate(57.51,636.64) scale(1.5887,1)" font-size="11.7">0.5</text>
<text transform="translate(57.51,666.10) scale(1.5887,1)" font-size="11.7">0.0</text>
<rect x="145.45" y="669.80" width="1.6" height="7.6" fill="#111"/>
<rect x="211.60" y="669.80" width="1.6" height="7.6" fill="#111"/>
<rect x="216.70" y="669.80" width="1.6" height="7.6" fill="#111"/>
<rect x="281.90" y="669.80" width="1.6" height="7.6" fill="#111"/>
<rect x="287.00" y="669.80" width="1.6" height="7.6" fill="#111"/>
<rect x="292.10" y="669.80" width="1.6" height="7.6" fill="#111"/>
<rect x="354.66" y="669.80" width="1.6" height="7.6" fill="#111"/>
<rect x="434.90" y="669.80" width="1.6" height="7.6" fill="#111"/>
<rect x="502.70" y="669.80" width="1.6" height="7.6" fill="#111"/>
<rect x="507.70" y="669.80" width="1.6" height="7.6" fill="#111"/>
<rect x="566.20" y="669.80" width="1.6" height="7.6" fill="#111"/>
<rect x="572.10" y="669.80" width="1.6" height="7.6" fill="#111"/>
<rect x="577.20" y="669.80" width="1.6" height="7.6" fill="#111"/>
<path d="M359.60 670.20L364.60 676.90L369.60 670.20" fill="none" stroke="#111" stroke-width="1.55"/>
<text transform="translate(235.15,693.70) scale(1.6253,1)" font-size="11.7">2020</text>
<text transform="translate(480.58,693.70) scale(1.5750,1)" font-size="11.7">2021</text>
<text transform="translate(955.57,492.30) scale(1.4142,1)" font-size="13.0" letter-spacing="0.000">SI</text>
<text transform="translate(666.30,518.80) scale(1.7010,1)" font-size="11.7">20</text>
<text transform="translate(676.60,548.26) scale(1.8264,1)" font-size="11.7">0</text>
<text transform="translate(661.88,577.72) scale(1.5649,1)" font-size="11.7">-20</text>
<text transform="translate(661.88,607.18) scale(1.5649,1)" font-size="11.7">-40</text>
<text transform="translate(661.88,636.64) scale(1.5649,1)" font-size="11.7">-60</text>
<text transform="translate(661.88,666.10) scale(1.5649,1)" font-size="11.7">-80</text>
<rect x="750.45" y="669.80" width="1.6" height="7.6" fill="#111"/>
<rect x="816.60" y="669.80" width="1.6" height="7.6" fill="#111"/>
<rect x="821.70" y="669.80" width="1.6" height="7.6" fill="#111"/>
<rect x="886.90" y="669.80" width="1.6" height="7.6" fill="#111"/>
<rect x="892.00" y="669.80" width="1.6" height="7.6" fill="#111"/>
<rect x="897.10" y="669.80" width="1.6" height="7.6" fill="#111"/>
<rect x="959.66" y="669.80" width="1.6" height="7.6" fill="#111"/>
<rect x="1039.90" y="669.80" width="1.6" height="7.6" fill="#111"/>
<rect x="1107.70" y="669.80" width="1.6" height="7.6" fill="#111"/>
<rect x="1112.70" y="669.80" width="1.6" height="7.6" fill="#111"/>
<rect x="1171.20" y="669.80" width="1.6" height="7.6" fill="#111"/>
<rect x="1177.10" y="669.80" width="1.6" height="7.6" fill="#111"/>
<rect x="1182.20" y="669.80" width="1.6" height="7.6" fill="#111"/>
<path d="M964.60 670.20L969.60 676.90L974.60 670.20" fill="none" stroke="#111" stroke-width="1.55"/>
<text transform="translate(840.15,693.70) scale(1.6253,1)" font-size="11.7">2020</text>
<text transform="translate(1085.58,693.70) scale(1.5750,1)" font-size="11.7">2021</text>
<text transform="translate(352.88,732.65) scale(1.6410,1)" font-size="13.0" letter-spacing="0.000">II</text>
<text transform="translate(61.41,759.15) scale(1.6927,1)" font-size="11.7">80</text>
<text transform="translate(61.30,795.97) scale(1.7010,1)" font-size="11.7">60</text>
<text transform="translate(61.81,832.80) scale(1.6603,1)" font-size="11.7">40</text>
<text transform="translate(61.30,869.62) scale(1.7010,1)" font-size="11.7">20</text>
<text transform="translate(71.60,906.45) scale(1.8264,1)" font-size="11.7">0</text>
<rect x="145.45" y="910.15" width="1.6" height="7.6" fill="#111"/>
<rect x="211.60" y="910.15" width="1.6" height="7.6" fill="#111"/>
<rect x="216.70" y="910.15" width="1.6" height="7.6" fill="#111"/>
<rect x="281.90" y="910.15" width="1.6" height="7.6" fill="#111"/>
<rect x="287.00" y="910.15" width="1.6" height="7.6" fill="#111"/>
<rect x="292.10" y="910.15" width="1.6" height="7.6" fill="#111"/>
<rect x="354.66" y="910.15" width="1.6" height="7.6" fill="#111"/>
<rect x="434.90" y="910.15" width="1.6" height="7.6" fill="#111"/>
<rect x="502.70" y="910.15" width="1.6" height="7.6" fill="#111"/>
<rect x="507.70" y="910.15" width="1.6" height="7.6" fill="#111"/>
<rect x="566.20" y="910.15" width="1.6" height="7.6" fill="#111"/>
<rect x="572.10" y="910.15" width="1.6" height="7.6" fill="#111"/>
<rect x="577.20" y="910.15" width="1.6" height="7.6" fill="#111"/>
<path d="M359.60 910.55L364.60 917.25L369.60 910.55" fill="none" stroke="#111" stroke-width="1.55"/>
<text transform="translate(235.15,934.05) scale(1.6253,1)" font-size="11.7">2020</text>
<text transform="translate(480.58,934.05) scale(1.5750,1)" font-size="11.7">2021</text>
<text transform="translate(943.68,732.65) scale(1.7006,1)" font-size="13.0" letter-spacing="0.000">MCI</text>
<text transform="translate(656.31,759.15) scale(1.6460,1)" font-size="11.7">100</text>
<text transform="translate(666.41,795.97) scale(1.6927,1)" font-size="11.7">80</text>
<text transform="translate(666.30,832.80) scale(1.7010,1)" font-size="11.7">60</text>
<text transform="translate(666.81,869.62) scale(1.6603,1)" font-size="11.7">40</text>
<text transform="translate(666.30,906.45) scale(1.7010,1)" font-size="11.7">20</text>
<rect x="750.45" y="910.15" width="1.6" height="7.6" fill="#111"/>
<rect x="816.60" y="910.15" width="1.6" height="7.6" fill="#111"/>
<rect x="821.70" y="910.15" width="1.6" height="7.6" fill="#111"/>
<rect x="886.90" y="910.15" width="1.6" height="7.6" fill="#111"/>
<rect x="892.00" y="910.15" width="1.6" height="7.6" fill="#111"/>
<rect x="897.10" y="910.15" width="1.6" height="7.6" fill="#111"/>
<rect x="959.66" y="910.15" width="1.6" height="7.6" fill="#111"/>
<rect x="1039.90" y="910.15" width="1.6" height="7.6" fill="#111"/>
<rect x="1107.70" y="910.15" width="1.6" height="7.6" fill="#111"/>
<rect x="1112.70" y="910.15" width="1.6" height="7.6" fill="#111"/>
<rect x="1171.20" y="910.15" width="1.6" height="7.6" fill="#111"/>
<rect x="1177.10" y="910.15" width="1.6" height="7.6" fill="#111"/>
<rect x="1182.20" y="910.15" width="1.6" height="7.6" fill="#111"/>
<path d="M964.60 910.55L969.60 917.25L974.60 910.55" fill="none" stroke="#111" stroke-width="1.55"/>
<text transform="translate(840.15,934.05) scale(1.6253,1)" font-size="11.7">2020</text>
<text transform="translate(1085.58,934.05) scale(1.5750,1)" font-size="11.7">2021</text>
<text transform="translate(337.99,973.00) scale(1.4717,1)" font-size="13.0" letter-spacing="0.000">CNC</text>
<text transform="translate(1.06,999.50) scale(1.5803,1)" font-size="11.7">1,000,000</text>
<text transform="translate(16.01,1028.96) scale(1.5920,1)" font-size="11.7">800,000</text>
<text transform="translate(15.92,1058.42) scale(1.5942,1)" font-size="11.7">600,000</text>
<text transform="translate(16.39,1087.88) scale(1.5830,1)" font-size="11.7">400,000</text>
<text transform="translate(15.92,1117.34) scale(1.5942,1)" font-size="11.7">200,000</text>
<text transform="translate(71.60,1146.80) scale(1.8264,1)" font-size="11.7">0</text>
<rect x="145.45" y="1150.50" width="1.6" height="7.6" fill="#111"/>
<rect x="211.60" y="1150.50" width="1.6" height="7.6" fill="#111"/>
<rect x="216.70" y="1150.50" width="1.6" height="7.6" fill="#111"/>
<rect x="281.90" y="1150.50" width="1.6" height="7.6" fill="#111"/>
<rect x="287.00" y="1150.50" width="1.6" height="7.6" fill="#111"/>
<rect x="292.10" y="1150.50" width="1.6" height="7.6" fill="#111"/>
<rect x="354.66" y="1150.50" width="1.6" height="7.6" fill="#111"/>
<rect x="434.90" y="1150.50" width="1.6" height="7.6" fill="#111"/>
<rect x="502.70" y="1150.50" width="1.6" height="7.6" fill="#111"/>
<rect x="507.70" y="1150.50" width="1.6" height="7.6" fill="#111"/>
<rect x="566.20" y="1150.50" width="1.6" height="7.6" fill="#111"/>
<rect x="572.10" y="1150.50" width="1.6" height="7.6" fill="#111"/>
<rect x="577.20" y="1150.50" width="1.6" height="7.6" fill="#111"/>
<path d="M359.60 1150.90L364.60 1157.60L369.60 1150.90" fill="none" stroke="#111" stroke-width="1.55"/>
<text transform="translate(235.15,1174.40) scale(1.6253,1)" font-size="11.7">2020</text>
<text transform="translate(480.58,1174.40) scale(1.5750,1)" font-size="11.7">2021</text>
<text transform="translate(942.10,973.00) scale(1.5385,1)" font-size="13.0" letter-spacing="0.000">CND</text>
<text transform="translate(631.06,999.50) scale(1.6000,1)" font-size="11.7">20,000</text>
<text transform="translate(631.20,1036.33) scale(1.5962,1)" font-size="11.7">15,000</text>
<text transform="translate(631.20,1073.15) scale(1.5962,1)" font-size="11.7">10,000</text>
<text transform="translate(641.40,1109.97) scale(1.6052,1)" font-size="11.7">5,000</text>
<text transform="translate(676.60,1146.80) scale(1.8264,1)" font-size="11.7">0</text>
<rect x="750.45" y="1150.50" width="1.6" height="7.6" fill="#111"/>
<rect x="816.60" y="1150.50" width="1.6" height="7.6" fill="#111"/>
<rect x="821.70" y="1150.50" width="1.6" height="7.6" fill="#111"/>
<rect x="886.90" y="1150.50" width="1.6" height="7.6" fill="#111"/>
<rect x="892.00" y="1150.50" width="1.6" height="7.6" fill="#111"/>
<rect x="897.10" y="1150.50" width="1.6" height="7.6" fill="#111"/>
<rect x="959.66" y="1150.50" width="1.6" height="7.6" fill="#111"/>
<rect x="1039.90" y="1150.50" width="1.6" height="7.6" fill="#111"/>
<rect x="1107.70" y="1150.50" width="1.6" height="7.6" fill="#111"/>
<rect x="1112.70" y="1150.50" width="1.6" height="7.6" fill="#111"/>
<rect x="1171.20" y="1150.50" width="1.6" height="7.6" fill="#111"/>
<rect x="1177.10" y="1150.50" width="1.6" height="7.6" fill="#111"/>
<rect x="1182.20" y="1150.50" width="1.6" height="7.6" fill="#111"/>
<path d="M964.60 1150.90L969.60 1157.60L974.60 1150.90" fill="none" stroke="#111" stroke-width="1.55"/>
<text transform="translate(840.15,1174.40) scale(1.6253,1)" font-size="11.7">2020</text>
<text transform="translate(1085.58,1174.40) scale(1.5750,1)" font-size="11.7">2021</text>
<text transform="translate(314.46,1213.35) scale(1.4500,1)" font-size="13.0" letter-spacing="0.487">VIX_Price</text>
<text transform="translate(51.31,1239.85) scale(1.6460,1)" font-size="11.7">100</text>
<text transform="translate(61.41,1269.31) scale(1.6927,1)" font-size="11.7">80</text>
<text transform="translate(61.30,1298.77) scale(1.7010,1)" font-size="11.7">60</text>
<text transform="translate(61.81,1328.23) scale(1.6603,1)" font-size="11.7">40</text>
<text transform="translate(61.30,1357.69) scale(1.7010,1)" font-size="11.7">20</text>
<text transform="translate(71.60,1387.15) scale(1.8264,1)" font-size="11.7">0</text>
<rect x="145.45" y="1390.85" width="1.6" height="7.6" fill="#111"/>
<rect x="211.60" y="1390.85" width="1.6" height="7.6" fill="#111"/>
<rect x="216.70" y="1390.85" width="1.6" height="7.6" fill="#111"/>
<rect x="281.90" y="1390.85" width="1.6" height="7.6" fill="#111"/>
<rect x="287.00" y="1390.85" width="1.6" height="7.6" fill="#111"/>
<rect x="292.10" y="1390.85" width="1.6" height="7.6" fill="#111"/>
<rect x="354.66" y="1390.85" width="1.6" height="7.6" fill="#111"/>
<rect x="434.90" y="1390.85" width="1.6" height="7.6" fill="#111"/>
<rect x="502.70" y="1390.85" width="1.6" height="7.6" fill="#111"/>
<rect x="507.70" y="1390.85" width="1.6" height="7.6" fill="#111"/>
<rect x="566.20" y="1390.85" width="1.6" height="7.6" fill="#111"/>
<rect x="572.10" y="1390.85" width="1.6" height="7.6" fill="#111"/>
<rect x="577.20" y="1390.85" width="1.6" height="7.6" fill="#111"/>
<path d="M359.60 1391.25L364.60 1397.95L369.60 1391.25" fill="none" stroke="#111" stroke-width="1.55"/>
<text transform="translate(235.15,1414.75) scale(1.6253,1)" font-size="11.7">2020</text>
<text transform="translate(480.58,1414.75) scale(1.5750,1)" font-size="11.7">2021</text>
<text transform="translate(911.51,1213.35) scale(1.4500,1)" font-size="13.0" letter-spacing="0.633">VIX_Return</text>
<text transform="translate(671.59,1239.85) scale(1.7215,1)" font-size="11.7">.8</text>
<text transform="translate(671.57,1264.40) scale(1.7338,1)" font-size="11.7">.6</text>
<text transform="translate(671.61,1288.95) scale(1.6974,1)" font-size="11.7">.4</text>
<text transform="translate(671.56,1313.50) scale(1.7463,1)" font-size="11.7">.2</text>
<text transform="translate(671.59,1338.05) scale(1.7215,1)" font-size="11.7">.0</text>
<text transform="translate(668.01,1362.60) scale(1.5017,1)" font-size="11.7">-.2</text>
<text transform="translate(668.02,1387.15) scale(1.4742,1)" font-size="11.7">-.4</text>
<rect x="750.45" y="1390.85" width="1.6" height="7.6" fill="#111"/>
<rect x="816.60" y="1390.85" width="1.6" height="7.6" fill="#111"/>
<rect x="821.70" y="1390.85" width="1.6" height="7.6" fill="#111"/>
<rect x="886.90" y="1390.85" width="1.6" height="7.6" fill="#111"/>
<rect x="892.00" y="1390.85" width="1.6" height="7.6" fill="#111"/>
<rect x="897.10" y="1390.85" width="1.6" height="7.6" fill="#111"/>
<rect x="959.66" y="1390.85" width="1.6" height="7.6" fill="#111"/>
<rect x="1039.90" y="1390.85" width="1.6" height="7.6" fill="#111"/>
<rect x="1107.70" y="1390.85" width="1.6" height="7.6" fill="#111"/>
<rect x="1112.70" y="1390.85" width="1.6" height="7.6" fill="#111"/>
<rect x="1171.20" y="1390.85" width="1.6" height="7.6" fill="#111"/>
<rect x="1177.10" y="1390.85" width="1.6" height="7.6" fill="#111"/>
<rect x="1182.20" y="1390.85" width="1.6" height="7.6" fill="#111"/>
<path d="M964.60 1391.25L969.60 1397.95L974.60 1391.25" fill="none" stroke="#111" stroke-width="1.55"/>
<text transform="translate(840.15,1414.75) scale(1.6253,1)" font-size="11.7">2020</text>
<text transform="translate(1085.58,1414.75) scale(1.5750,1)" font-size="11.7">2021</text>
</svg>
</body></html>
